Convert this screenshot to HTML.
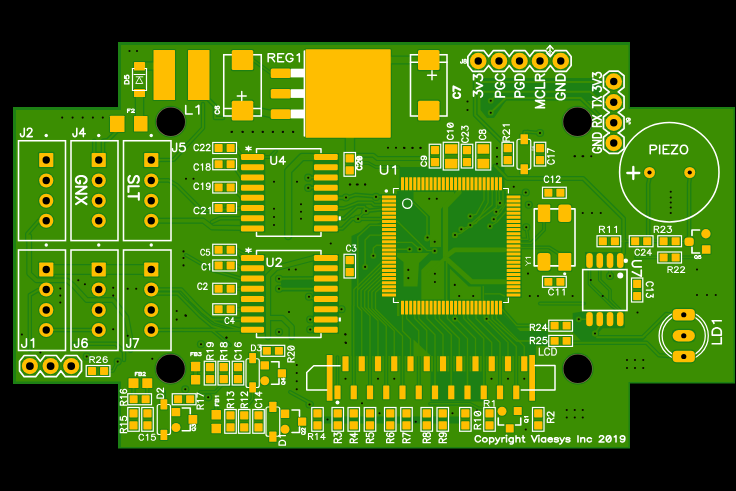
<!DOCTYPE html>
<html><head><meta charset="utf-8"><title>PCB</title>
<style>html,body{margin:0;padding:0;background:#000;overflow:hidden}svg{display:block}text{font-family:"Liberation Sans",sans-serif}</style></head>
<body>
<svg width="736" height="491" viewBox="0 0 736 491" font-family="Liberation Sans, sans-serif">
<rect width="736" height="491" fill="#000"/>
<polygon points="118,42 630,42 630,107 735,107 735,383.5 630,383.5 630,448.5 118,448.5 118,384 13,384 13,107 118,107" fill="#1d8014"/>
<polygon points="121,45 628.5,45 628.5,109 733.5,109 733.5,382 628.5,382 628.5,447 121,447 121,381.5 16,381.5 16,110 121,110" fill="#3b8e02"/>
<defs><clipPath id="bc"><polygon points="118,42 630,42 630,107 735,107 735,383.5 630,383.5 630,448.5 118,448.5 118,384 13,384 13,107 118,107"/></clipPath></defs>
<g clip-path="url(#bc)">
<polygon points="397,191 506,191 506,300 397,300" fill="#1d8014"/>
<polygon points="399.5,167 504.5,167 504.5,191.5 399.5,191.5" fill="#1d8014"/>
<polygon points="399.5,299.5 504.5,299.5 504.5,316 399.5,316" fill="#1d8014"/>
<polygon points="380.8,194 397.5,194 397.5,298 380.8,298" fill="#1d8014"/>
<polygon points="505.5,194 521.6,194 521.6,298 505.5,298" fill="#1d8014"/>
<polygon points="351.5,236 381,222 381,298 397,298 397,316 505,316 520,331 548,331 548,346 536,346 536,356 351.5,356" fill="#1d8014"/>
<polygon points="239.8,153 265.2,153 265.2,232.5 239.8,232.5" fill="#1d8014"/>
<polygon points="312.8,153 339,153 339,232.5 312.8,232.5" fill="#1d8014"/>
<polygon points="239.8,254 265.2,254 265.2,333.8 239.8,333.8" fill="#1d8014"/>
<polygon points="312.8,254 339,254 339,333.8 312.8,333.8" fill="#1d8014"/>
<polygon points="585,252 625,252 625,269 585,269" fill="#1d8014"/>
<polygon points="585,311 625,311 625,327.5 585,327.5" fill="#1d8014"/>
<polygon points="480.5,78 596,78 600,84 600,101 585,101 582,100.5 506,100.5 494,118 487,118 480.5,110" fill="#1d8014"/>
<polygon points="572.7,313 583.7,311.2 623.7,311.2 623.7,328.3 602.8,328.3 597,334 599,336.9 646.5,336.9 642.7,340.7 580.9,340.7 572.7,332.1" fill="#1d8014"/>
<polygon points="281,276.5 314,276.5 314,291.5 281,291.5" fill="#1d8014"/>
<polygon points="323,416.5 459,416.5 459,423.5 323,423.5" fill="#1d8014"/>
<polygon points="430.5,371.5 486,371.5 486,401.5 430.5,401.5" fill="#1d8014"/>
<g fill="none" stroke="#1d8014" stroke-linecap="round" stroke-linejoin="round">
<path d="M458.9 192.5 L445.5 206.5 L445.5 258" stroke-width="7.6"/>
<path d="M445.5 258 L471.9 281.8 L504.5 281.8" stroke-width="7.4"/>
<path d="M447 255.5 L454.8 249.8 L504.5 249.8" stroke-width="7.2"/>
<path d="M445.5 258 L428 274" stroke-width="5.9"/>
<path d="M446.6 262 L446.6 300" stroke-width="3.6"/>
<path d="M484 191 L484 200 L476.3 214.2 L470.3 216.2" stroke-width="3.3"/>
<path d="M488.1 191 L488.1 202.46 L476.3 223.1 L470.3 225.1" stroke-width="3.3"/>
<path d="M492.2 191 L492.2 204.92 L467.3 227.2 L461.3 229.2" stroke-width="3.3"/>
<path d="M496.3 191 L496.3 207.38 L460.8 233.2 L454.8 235.2" stroke-width="3.3"/>
<path d="M499 191 L499.6 202.8" stroke-width="3.3"/>
<path d="M503 191 L503 206 L496.8 211.8" stroke-width="3.3"/>
<path d="M506 203.5 L501 212 L493.9 219.1" stroke-width="3.3"/>
<path d="M506 211.7 L497 222 L490.3 226.3" stroke-width="3.3"/>
<path d="M397 221 L427 250.4 L434.7 250.9" stroke-width="3.4"/>
<path d="M397 242.4 L412 242.4 L419.7 249.3" stroke-width="3.4"/>
<path d="M397 249.3 L409.6 249.3" stroke-width="3.4"/>
<path d="M413.5 203 L427 216.5 L427 238.5" stroke-width="3.4"/>
<path d="M485 293.9 L500 293.9 L504.5 296" stroke-width="3.4"/>
<path d="M483.3 286.5 L483.3 300" stroke-width="3.4"/>
<path d="M337.5 198 L346 198 L355.4 194.8 L376 196.5 L382 197" stroke-width="4.4"/>
<path d="M337.5 208.3 L344 208.3 L358.6 202.6 L371.7 202.6 L374.1 205 L382 205" stroke-width="4.4"/>
<path d="M337.5 218.5 L344 218.5 L357 206.8 L364.3 206.8 L366 211 L382 209.3" stroke-width="4.4"/>
<path d="M337.5 228.6 L342.3 228.6 L352.1 218.9 L358.1 218.9 L382 219" stroke-width="4.4"/>
<path d="M308.25 177.7 L314 177.5" stroke-width="4.4"/>
<path d="M308.25 187.9 L314 187.75" stroke-width="4.4"/>
<path d="M382 225.4 L370 225.4 L357.8 236.8 L357.8 290" stroke-width="4"/>
<path d="M382 235.1 L370 235.1 L365.1 240 L365.1 266.9" stroke-width="4"/>
<path d="M382 245.2 L376.5 245.2 L373.3 248 L373.3 255.8" stroke-width="4"/>
<path d="M382 262 L353.9 289.5 L353.9 306 L353.75 305.85 L353.75 386" stroke-width="3.7"/>
<path d="M382 266.08 L357.5 289.98 L357.5 306.5 L361.75 310.75 L361.75 357" stroke-width="3.7"/>
<path d="M382 270.17 L361.1 290.47 L361.1 307 L370 315.9 L370 386" stroke-width="3.7"/>
<path d="M382 274.25 L364.7 290.95 L364.7 307.5 L378 320.8 L378 357" stroke-width="3.7"/>
<path d="M382 278.33 L368.3 291.43 L368.3 308 L386.25 325.95 L386.25 386" stroke-width="3.7"/>
<path d="M382 282.42 L371.9 291.92 L371.9 308.5 L394.25 330.85 L394.25 357" stroke-width="3.7"/>
<path d="M382 286.5 L375.5 292.4 L375.5 309 L402.5 336 L402.5 386" stroke-width="3.7"/>
<path d="M402.5 315 L402.5 331 L410.5 339 L410.5 357" stroke-width="3.7"/>
<path d="M406.58 314 L406.58 318.5 L418.75 330.67 L418.75 386" stroke-width="3.7"/>
<path d="M414.75 314 L414.75 318.5 L426.75 330.5 L426.75 357" stroke-width="3.7"/>
<path d="M418.83 314 L418.83 318.5 L435 334.67 L435 386" stroke-width="3.7"/>
<path d="M427 314 L427 318.5 L443 334.5 L443 357" stroke-width="3.7"/>
<path d="M435.16 314 L435.16 318.5 L451.25 334.59 L451.25 386" stroke-width="3.7"/>
<path d="M439.25 314 L439.25 318.5 L459.25 338.5 L459.25 357" stroke-width="3.7"/>
<path d="M447.41 314 L447.41 318.5 L467.5 338.59 L467.5 386" stroke-width="3.7"/>
<path d="M455.58 314 L455.58 318.5 L475.5 338.42 L475.5 357" stroke-width="3.7"/>
<path d="M463.75 314 L463.75 318.5 L483.75 338.5 L483.75 386" stroke-width="3.7"/>
<path d="M467.83 314 L467.83 318.5 L491.75 342.42 L491.75 357" stroke-width="3.7"/>
<path d="M475.99 314 L475.99 318.5 L500 342.51 L500 386" stroke-width="3.7"/>
<path d="M484.16 314 L484.16 318.5 L508 342.34 L508 357" stroke-width="3.7"/>
<path d="M488.24 314 L488.24 318.5 L516.25 346.51 L516.25 386" stroke-width="3.7"/>
<path d="M496.41 314 L496.41 318.5 L524.25 346.34 L524.25 357" stroke-width="3.7"/>
<path d="M502.5 309.6 L516.6 325.6 L550 325.6" stroke-width="4.1"/>
<path d="M492.2 316 L492.2 319 L516.6 341 L550 341" stroke-width="4.1"/>
<path d="M481.7 81.9 L603.5 81.9 L613.75 81.5" stroke-width="4.6"/>
<path d="M483 91.7 L590.4 91.7 L601.3 101.9 L613.75 102.25" stroke-width="4.6"/>
<path d="M490.75 112.7 L505.7 98 L580.7 98 L601.3 118 L613.75 122.75" stroke-width="4.6"/>
<path d="M490.75 100.8 L497 94 L497 91.7" stroke-width="4"/>
<path d="M475.2 69 L475.2 115 L501.3 141 L507 144" stroke-width="4.8"/>
<path d="M527.5 131.8 L540 133" stroke-width="3.9"/>
<path d="M524.25 134 L524.25 131.8 L528 131.8" stroke-width="3.9"/>
<path d="M390 60 L418 60" stroke-width="9.1"/>
<path d="M349.9 137 L349.9 152.5" stroke-width="10.6"/>
<path d="M253 110 L271 114" stroke-width="8.6"/>
<path d="M253 60 L270.75 73" stroke-width="4"/>
<path d="M139.5 97 L139.5 116" stroke-width="9.6"/>
<path d="M145 66 L153.5 66" stroke-width="9.6"/>
<path d="M209 100 L215 106 L215 118 L223 118" stroke-width="4.6"/>
<path d="M117 131 L108 140 L103 140.75 L103 153" stroke-width="4.6"/>
<path d="M94.25 140.75 L94.25 153" stroke-width="4.6"/>
<path d="M649.5 178 L648.2 184 L648.2 237" stroke-width="4.6"/>
<path d="M689.75 178 L689.1 184 L689.1 238" stroke-width="4.6"/>
<path d="M495 166 L502 173 L507 178.5 L583.2 178.5 L623.6 218.5 L623.6 253" stroke-width="4.8"/>
<path d="M520.4 243.3 L531 243.3 L544 230 L544 222" stroke-width="3.9"/>
<path d="M520.4 247.4 L549 247.4 L558.7 253.5 L564 255" stroke-width="3.9"/>
<path d="M520.4 239.2 L528 239.2 L526.25 227.25" stroke-width="3.4"/>
<path d="M597 337.2 L642.7 337.2 L662 318 L666 314 L673 314.75" stroke-width="4.4"/>
<path d="M572.3 342.8 L646.5 342.8 L658.9 355.3 L673 356.3" stroke-width="4.4"/>
<path d="M540 303.6 L583.7 303.6" stroke-width="4"/>
<path d="M578.8 319.3 L589.5 319.3" stroke-width="3.9"/>
<path d="M595 333.5 L599.75 326" stroke-width="3.9"/>
<path d="M610 276 L610 262" stroke-width="3.6"/>
<path d="M599.75 268 L599.75 280 L610 290 L610 300 L620 310" stroke-width="3.6"/>
<path d="M589.5 268 L589.5 284 L612 306 L620 312" stroke-width="3.6"/>
<path d="M681.5 257.4 L698.8 257.4 L703 252.4" stroke-width="3.8"/>
<path d="M636 257.4 L657.75 257.4" stroke-width="3.8"/>
<path d="M620.75 241.3 L629.3 241.3" stroke-width="3.8"/>
<path d="M653.2 241.3 L657.75 241.3" stroke-width="3.8"/>
<path d="M681.5 241.3 L684.5 241.3" stroke-width="3.8"/>
<path d="M354 155.2 L373.2 155.2 L377.3 158.6 L430 158.6" stroke-width="5"/>
<path d="M354 163 L368.3 163 L375.7 167 L398.5 167" stroke-width="3.6"/>
<path d="M46.25 269.5 L151.25 269.5" stroke-width="10.8"/>
<path d="M29.2 236 L29.2 273.6 L36.5 280.3 L66.9 280.3 L73.5 285.6 L86.7 300 L113.2 300 L126.4 317.3 L130.4 338.5 L130.4 350" stroke-width="5.8"/>
<path d="M46.25 289.5 L37.8 290.3 L29.8 295 L29.8 350" stroke-width="4.4"/>
<path d="M46.25 330 L98.75 330" stroke-width="4.4"/>
<path d="M73.5 343.8 L115.8 343.8 L124 352 L124 360" stroke-width="4.4"/>
<path d="M151.25 289.5 L181.4 289.5 L202.6 312 L212 319.5 L241 319.5" stroke-width="4.4"/>
<path d="M151.25 293.6 L178 293.6 L200 316 L212 326 L224 329.75" stroke-width="4.4"/>
<path d="M151.25 330 L241 329.75" stroke-width="4.4"/>
<path d="M151.25 180.5 L168.5 180.3 L176.5 184.8 L203 211.3 L241 208" stroke-width="4.4"/>
<path d="M151.25 160 L173.8 159.7 L185.7 146.5 L203 128 L203 104" stroke-width="4.4"/>
<path d="M151.25 220.75 L203 220.5 L212 227.5 L241 228" stroke-width="6"/>
<path d="M212 222 L220 218.25 L241 218.25" stroke-width="4.4"/>
<path d="M46.25 220.75 L39 220.4 L27.2 234 L27.2 240" stroke-width="4.4"/>
<path d="M236 147.8 L241.3 155.7" stroke-width="4.2"/>
<path d="M236 169 L241.3 177" stroke-width="4.2"/>
<path d="M236 191.4 L241.3 196.7" stroke-width="4.2"/>
<path d="M236 208 L241 208" stroke-width="4.2"/>
<path d="M236.5 249.75 L241.3 257" stroke-width="4.2"/>
<path d="M236.5 265.6 L241.3 268.25" stroke-width="4.2"/>
<path d="M236.5 288.75 L241.3 288.75" stroke-width="4.2"/>
<path d="M236.5 309.25 L241.3 309.25" stroke-width="4.2"/>
<path d="M314 157 L302 157 L288.2 171 L288.2 236" stroke-width="8.4"/>
<path d="M293 165 L300 158 L314 157" stroke-width="3.9"/>
<path d="M279 278.75 L314 278.5" stroke-width="4.4"/>
<path d="M279 288.75 L314 288.75" stroke-width="4.4"/>
<path d="M309 296.75 L314 299" stroke-width="3.9"/>
<path d="M337.75 309.25 L341.5 309.25" stroke-width="3.9"/>
<path d="M310.25 319.5 L314 319.5" stroke-width="3.9"/>
<path d="M310.25 329.5 L314 329.75" stroke-width="3.9"/>
<path d="M314 258 L304.5 260.5 L276 268 L268 276 L268 337" stroke-width="6.4"/>
<path d="M268 318 L282.5 318 L291.7 327 L291.7 337" stroke-width="6.4"/>
<path d="M264 157 L270 157 L276 151" stroke-width="3.9"/>
<path d="M186 255 L212 270 L241 278.5" stroke-width="4"/>
<path d="M236.5 249.75 L245 254 L256 254" stroke-width="4"/>
<path d="M190 300 L215 322 L241 329.75" stroke-width="4"/>
<path d="M184 330 L212 330 L230 345" stroke-width="4"/>
<path d="M337.75 197.75 L346 197.5" stroke-width="4"/>
<path d="M357.25 218.75 L365.25 211.25" stroke-width="3.6"/>
<path d="M133.5 388 L133.5 395" stroke-width="4.4"/>
<path d="M147.25 388 L147.25 395" stroke-width="4.4"/>
<path d="M163.75 392 L163.75 399.25" stroke-width="4.4"/>
<path d="M195.5 375 L195.5 371" stroke-width="5.4"/>
<path d="M252.5 392.5 L252.5 399 L244.5 409" stroke-width="4"/>
<path d="M216.25 410 L216.25 406" stroke-width="4.4"/>
<path d="M290 392 L312 404" stroke-width="4"/>
<path d="M200 392 L215 392 L222 385 L246 385" stroke-width="3.6"/>
<path d="M337.5 357 L337.5 386" stroke-width="3.7"/>
<path d="M353.75 357 L353.75 386" stroke-width="3.7"/>
<path d="M370 357 L370 386" stroke-width="3.7"/>
<path d="M386.25 357 L386.25 386" stroke-width="3.7"/>
<path d="M402.5 357 L402.5 386" stroke-width="3.7"/>
<path d="M418.75 357 L418.75 386" stroke-width="3.7"/>
<path d="M435 357 L435 386" stroke-width="3.7"/>
<path d="M451.25 357 L451.25 386" stroke-width="3.7"/>
<path d="M467.5 357 L467.5 386" stroke-width="3.7"/>
<path d="M483.75 357 L483.75 386" stroke-width="3.7"/>
<path d="M500 357 L500 386" stroke-width="3.7"/>
<path d="M516.25 357 L516.25 386" stroke-width="3.7"/>
<path d="M108 371 L113 371 L117.7 361.6" stroke-width="3.7"/>
<path d="M430 403.8 L470 403.8 L478 408 L485 409" stroke-width="3.7"/>
</g>
<circle cx="490.75" cy="100.8" r="4.1" fill="#1d8014"/>
<circle cx="490.75" cy="112.7" r="4.1" fill="#1d8014"/>
<circle cx="540" cy="133" r="4.1" fill="#1d8014"/>
<circle cx="308.25" cy="177.7" r="4.1" fill="#1d8014"/>
<circle cx="308.25" cy="187.9" r="4.1" fill="#1d8014"/>
<circle cx="346" cy="197.5" r="4.1" fill="#1d8014"/>
<circle cx="357.25" cy="218.75" r="4.1" fill="#1d8014"/>
<circle cx="365.25" cy="211.25" r="4.1" fill="#1d8014"/>
<circle cx="376" cy="196.9" r="4.1" fill="#1d8014"/>
<circle cx="366" cy="211" r="4.1" fill="#1d8014"/>
<circle cx="358.1" cy="218.9" r="4.1" fill="#1d8014"/>
<circle cx="279" cy="278.75" r="4.1" fill="#1d8014"/>
<circle cx="279" cy="288.75" r="4.1" fill="#1d8014"/>
<circle cx="309" cy="296.75" r="4.1" fill="#1d8014"/>
<circle cx="341.5" cy="309.25" r="4.1" fill="#1d8014"/>
<circle cx="310.25" cy="319.5" r="4.1" fill="#1d8014"/>
<circle cx="310.25" cy="329.5" r="4.1" fill="#1d8014"/>
<circle cx="279" cy="332" r="4.1" fill="#1d8014"/>
<circle cx="201" cy="344.25" r="4.1" fill="#1d8014"/>
<circle cx="525.75" cy="192.5" r="4.1" fill="#1d8014"/>
<circle cx="528.75" cy="204.75" r="4.1" fill="#1d8014"/>
<circle cx="500" cy="203" r="4.1" fill="#1d8014"/>
<circle cx="496.25" cy="211.75" r="4.1" fill="#1d8014"/>
<circle cx="493.75" cy="219.25" r="4.1" fill="#1d8014"/>
<circle cx="490" cy="226.25" r="4.1" fill="#1d8014"/>
<circle cx="470.3" cy="216.2" r="4.1" fill="#1d8014"/>
<circle cx="470.3" cy="225.1" r="4.1" fill="#1d8014"/>
<circle cx="461.3" cy="229.2" r="4.1" fill="#1d8014"/>
<circle cx="454.8" cy="235.2" r="4.1" fill="#1d8014"/>
<circle cx="427" cy="238.5" r="4.1" fill="#1d8014"/>
<circle cx="434.7" cy="241.8" r="4.1" fill="#1d8014"/>
<circle cx="434.7" cy="250.9" r="4.1" fill="#1d8014"/>
<circle cx="409.6" cy="249.3" r="4.1" fill="#1d8014"/>
<circle cx="419.7" cy="249.3" r="4.1" fill="#1d8014"/>
<circle cx="526.25" cy="227.25" r="4.1" fill="#1d8014"/>
<circle cx="459.2" cy="296" r="4.1" fill="#1d8014"/>
<circle cx="610" cy="276" r="4.1" fill="#1d8014"/>
<circle cx="578.8" cy="319.3" r="4.1" fill="#1d8014"/>
<circle cx="595" cy="333.5" r="4.1" fill="#1d8014"/>
<circle cx="595" cy="333.5" r="4.1" fill="#1d8014"/>
<circle cx="309.5" cy="404.5" r="4.1" fill="#1d8014"/>
<circle cx="373.3" cy="255.8" r="4.1" fill="#1d8014"/>
<circle cx="365.1" cy="266.9" r="4.1" fill="#1d8014"/>
<circle cx="455" cy="235" r="4.1" fill="#1d8014"/>
<circle cx="427.5" cy="237.5" r="4.1" fill="#1d8014"/>
<circle cx="455" cy="318.8" r="4.1" fill="#1d8014"/>
<circle cx="486.6" cy="318.8" r="4.1" fill="#1d8014"/>
<circle cx="117.7" cy="361.6" r="4.1" fill="#1d8014"/>
<circle cx="208.2" cy="397.3" r="4.1" fill="#1d8014"/>
<circle cx="185.3" cy="389.3" r="4.1" fill="#1d8014"/>
<circle cx="86.7" cy="356.5" r="4.1" fill="#1d8014"/>
<rect x="152.4" y="48.9" width="23.7" height="52.2" rx="1.6" fill="#1d8014"/>
<rect x="186.9" y="48.9" width="23.7" height="52.2" rx="1.6" fill="#1d8014"/>
<rect x="132.9" y="60.9" width="13.2" height="10.7" rx="1.6" fill="#1d8014"/>
<rect x="132.9" y="87.9" width="13.2" height="10.2" rx="1.6" fill="#1d8014"/>
<rect x="108.9" y="114.65" width="16.7" height="18.45" rx="1.6" fill="#1d8014"/>
<rect x="132.9" y="114.9" width="15.7" height="17.7" rx="1.6" fill="#1d8014"/>
<rect x="230.65" y="48.95" width="23.7" height="22.2" rx="2.5" fill="#1d8014"/>
<rect x="230.65" y="99.6" width="23.7" height="21.9" rx="2.5" fill="#1d8014"/>
<rect x="416.9" y="48.95" width="23.7" height="22.2" rx="2.5" fill="#1d8014"/>
<rect x="416.9" y="99.6" width="23.7" height="21.9" rx="2.5" fill="#1d8014"/>
<rect x="269.65" y="67.4" width="22.2" height="11.7" rx="2.5" fill="#1d8014"/>
<rect x="269.65" y="87.9" width="22.2" height="11.7" rx="2.5" fill="#1d8014"/>
<rect x="269.65" y="108.2" width="22.2" height="11.9" rx="2.5" fill="#1d8014"/>
<rect x="304.4" y="48.15" width="87.45" height="90.7" rx="1.8" fill="#1d8014"/>
<circle cx="478.25" cy="61" r="9.4" fill="#1d8014"/>
<circle cx="499" cy="61" r="9.4" fill="#1d8014"/>
<circle cx="519.5" cy="61" r="9.4" fill="#1d8014"/>
<circle cx="540" cy="61" r="9.4" fill="#1d8014"/>
<circle cx="560.75" cy="61" r="9.4" fill="#1d8014"/>
<circle cx="613.75" cy="81.5" r="9.4" fill="#1d8014"/>
<circle cx="613.75" cy="102.25" r="9.4" fill="#1d8014"/>
<circle cx="613.75" cy="122.75" r="9.4" fill="#1d8014"/>
<circle cx="613.75" cy="143" r="9.4" fill="#1d8014"/>
<circle cx="649.5" cy="172.5" r="6.6" fill="#1d8014"/>
<circle cx="689.75" cy="172.5" r="6.6" fill="#1d8014"/>
<rect x="37.95" y="151.7" width="16.6" height="16.6" rx="1.5" fill="#1d8014"/>
<circle cx="46.25" cy="180.5" r="8.2" fill="#1d8014"/>
<circle cx="46.25" cy="200.75" r="8.2" fill="#1d8014"/>
<circle cx="46.25" cy="220.75" r="8.2" fill="#1d8014"/>
<rect x="37.95" y="261.2" width="16.6" height="16.6" rx="1.5" fill="#1d8014"/>
<circle cx="46.25" cy="289.5" r="8.2" fill="#1d8014"/>
<circle cx="46.25" cy="310" r="8.2" fill="#1d8014"/>
<circle cx="46.25" cy="330" r="8.2" fill="#1d8014"/>
<rect x="90.45" y="151.7" width="16.6" height="16.6" rx="1.5" fill="#1d8014"/>
<circle cx="98.75" cy="180.5" r="8.2" fill="#1d8014"/>
<circle cx="98.75" cy="200.75" r="8.2" fill="#1d8014"/>
<circle cx="98.75" cy="220.75" r="8.2" fill="#1d8014"/>
<rect x="90.45" y="261.2" width="16.6" height="16.6" rx="1.5" fill="#1d8014"/>
<circle cx="98.75" cy="289.5" r="8.2" fill="#1d8014"/>
<circle cx="98.75" cy="310" r="8.2" fill="#1d8014"/>
<circle cx="98.75" cy="330" r="8.2" fill="#1d8014"/>
<rect x="142.95" y="151.7" width="16.6" height="16.6" rx="1.5" fill="#1d8014"/>
<circle cx="151.25" cy="180.5" r="8.2" fill="#1d8014"/>
<circle cx="151.25" cy="200.75" r="8.2" fill="#1d8014"/>
<circle cx="151.25" cy="220.75" r="8.2" fill="#1d8014"/>
<rect x="142.95" y="261.2" width="16.6" height="16.6" rx="1.5" fill="#1d8014"/>
<circle cx="151.25" cy="289.5" r="8.2" fill="#1d8014"/>
<circle cx="151.25" cy="310" r="8.2" fill="#1d8014"/>
<circle cx="151.25" cy="330" r="8.2" fill="#1d8014"/>
<circle cx="29.9" cy="366.1" r="9.2" fill="#1d8014"/>
<circle cx="50.6" cy="366.1" r="9.2" fill="#1d8014"/>
<circle cx="71.2" cy="366.1" r="9.2" fill="#1d8014"/>
<rect x="86.9" y="366" width="10.3" height="10" rx="1.6" fill="#1d8014"/>
<rect x="98.95" y="366" width="10.3" height="10" rx="1.6" fill="#1d8014"/>
<rect x="239.9" y="153" width="25.2" height="8" rx="2.2" fill="#1d8014"/>
<rect x="312.9" y="153" width="25.95" height="8" rx="2.2" fill="#1d8014"/>
<rect x="239.9" y="163.25" width="25.2" height="8" rx="2.2" fill="#1d8014"/>
<rect x="312.9" y="163.25" width="25.95" height="8" rx="2.2" fill="#1d8014"/>
<rect x="239.9" y="173.5" width="25.2" height="8" rx="2.2" fill="#1d8014"/>
<rect x="312.9" y="173.5" width="25.95" height="8" rx="2.2" fill="#1d8014"/>
<rect x="239.9" y="183.75" width="25.2" height="8" rx="2.2" fill="#1d8014"/>
<rect x="312.9" y="183.75" width="25.95" height="8" rx="2.2" fill="#1d8014"/>
<rect x="239.9" y="193.75" width="25.2" height="8" rx="2.2" fill="#1d8014"/>
<rect x="312.9" y="193.75" width="25.95" height="8" rx="2.2" fill="#1d8014"/>
<rect x="239.9" y="204" width="25.2" height="8" rx="2.2" fill="#1d8014"/>
<rect x="312.9" y="204" width="25.95" height="8" rx="2.2" fill="#1d8014"/>
<rect x="239.9" y="214.25" width="25.2" height="8" rx="2.2" fill="#1d8014"/>
<rect x="312.9" y="214.25" width="25.95" height="8" rx="2.2" fill="#1d8014"/>
<rect x="239.9" y="224.5" width="25.2" height="8" rx="2.2" fill="#1d8014"/>
<rect x="312.9" y="224.5" width="25.95" height="8" rx="2.2" fill="#1d8014"/>
<rect x="239.9" y="254" width="25.2" height="8" rx="2.2" fill="#1d8014"/>
<rect x="312.9" y="254" width="25.95" height="8" rx="2.2" fill="#1d8014"/>
<rect x="239.9" y="264.25" width="25.2" height="8" rx="2.2" fill="#1d8014"/>
<rect x="312.9" y="264.25" width="25.95" height="8" rx="2.2" fill="#1d8014"/>
<rect x="239.9" y="274.5" width="25.2" height="8" rx="2.2" fill="#1d8014"/>
<rect x="312.9" y="274.5" width="25.95" height="8" rx="2.2" fill="#1d8014"/>
<rect x="239.9" y="284.75" width="25.2" height="8" rx="2.2" fill="#1d8014"/>
<rect x="312.9" y="284.75" width="25.95" height="8" rx="2.2" fill="#1d8014"/>
<rect x="239.9" y="295" width="25.2" height="8" rx="2.2" fill="#1d8014"/>
<rect x="312.9" y="295" width="25.95" height="8" rx="2.2" fill="#1d8014"/>
<rect x="239.9" y="305.25" width="25.2" height="8" rx="2.2" fill="#1d8014"/>
<rect x="312.9" y="305.25" width="25.95" height="8" rx="2.2" fill="#1d8014"/>
<rect x="239.9" y="315.5" width="25.2" height="8" rx="2.2" fill="#1d8014"/>
<rect x="312.9" y="315.5" width="25.95" height="8" rx="2.2" fill="#1d8014"/>
<rect x="239.9" y="325.75" width="25.2" height="8" rx="2.2" fill="#1d8014"/>
<rect x="312.9" y="325.75" width="25.95" height="8" rx="2.2" fill="#1d8014"/>
<rect x="213.45" y="143" width="10.3" height="10" rx="1.6" fill="#1d8014"/>
<rect x="225.5" y="143" width="10.3" height="10" rx="1.6" fill="#1d8014"/>
<rect x="213.45" y="159.25" width="10.3" height="10" rx="1.6" fill="#1d8014"/>
<rect x="225.5" y="159.25" width="10.3" height="10" rx="1.6" fill="#1d8014"/>
<rect x="213.45" y="182.5" width="10.3" height="10" rx="1.6" fill="#1d8014"/>
<rect x="225.5" y="182.5" width="10.3" height="10" rx="1.6" fill="#1d8014"/>
<rect x="213.45" y="203" width="10.3" height="10" rx="1.6" fill="#1d8014"/>
<rect x="225.5" y="203" width="10.3" height="10" rx="1.6" fill="#1d8014"/>
<rect x="213.45" y="244.75" width="10.3" height="10" rx="1.6" fill="#1d8014"/>
<rect x="225.5" y="244.75" width="10.3" height="10" rx="1.6" fill="#1d8014"/>
<rect x="213.45" y="260.5" width="10.3" height="10" rx="1.6" fill="#1d8014"/>
<rect x="225.5" y="260.5" width="10.3" height="10" rx="1.6" fill="#1d8014"/>
<rect x="213.45" y="283.75" width="10.3" height="10" rx="1.6" fill="#1d8014"/>
<rect x="225.5" y="283.75" width="10.3" height="10" rx="1.6" fill="#1d8014"/>
<rect x="213.45" y="304.25" width="10.3" height="10" rx="1.6" fill="#1d8014"/>
<rect x="225.5" y="304.25" width="10.3" height="10" rx="1.6" fill="#1d8014"/>
<rect x="344.5" y="153.2" width="10.5" height="10.3" rx="1.6" fill="#1d8014"/>
<rect x="344.5" y="165.25" width="10.5" height="10.3" rx="1.6" fill="#1d8014"/>
<rect x="344.5" y="254.95" width="10.5" height="10.3" rx="1.6" fill="#1d8014"/>
<rect x="344.5" y="267" width="10.5" height="10.3" rx="1.6" fill="#1d8014"/>
<rect x="429.75" y="144.95" width="10.5" height="10.3" rx="1.6" fill="#1d8014"/>
<rect x="429.75" y="157" width="10.5" height="10.3" rx="1.6" fill="#1d8014"/>
<rect x="443.9" y="143.15" width="14.7" height="11.7" rx="1.6" fill="#1d8014"/>
<rect x="443.9" y="157.65" width="14.7" height="11.95" rx="1.6" fill="#1d8014"/>
<rect x="461.75" y="144.95" width="10.5" height="10.3" rx="1.6" fill="#1d8014"/>
<rect x="461.75" y="157" width="10.5" height="10.3" rx="1.6" fill="#1d8014"/>
<rect x="476.4" y="143.15" width="13.95" height="11.7" rx="1.6" fill="#1d8014"/>
<rect x="476.4" y="157.65" width="13.95" height="11.95" rx="1.6" fill="#1d8014"/>
<rect x="502.5" y="142.95" width="10.5" height="10.3" rx="1.6" fill="#1d8014"/>
<rect x="502.5" y="155" width="10.5" height="10.3" rx="1.6" fill="#1d8014"/>
<rect x="519.4" y="133.15" width="9.7" height="12.2" rx="1.6" fill="#1d8014"/>
<rect x="519.4" y="163.15" width="9.7" height="12.2" rx="1.6" fill="#1d8014"/>
<rect x="534.75" y="142.95" width="10.5" height="10.3" rx="1.6" fill="#1d8014"/>
<rect x="534.75" y="155" width="10.5" height="10.3" rx="1.6" fill="#1d8014"/>
<rect x="543.2" y="187.75" width="10.3" height="10" rx="1.6" fill="#1d8014"/>
<rect x="555.25" y="187.75" width="10.3" height="10" rx="1.6" fill="#1d8014"/>
<rect x="399.9" y="176.1" width="5.2" height="15.2" rx="1.3" fill="#1d8014"/>
<rect x="399.9" y="299.7" width="5.2" height="16" rx="1.3" fill="#1d8014"/>
<rect x="380.9" y="194.3" width="16.2" height="5.2" rx="1.3" fill="#1d8014"/>
<rect x="505.6" y="194.3" width="15.9" height="5.2" rx="1.3" fill="#1d8014"/>
<rect x="403.98" y="176.1" width="5.2" height="15.2" rx="1.3" fill="#1d8014"/>
<rect x="403.98" y="299.7" width="5.2" height="16" rx="1.3" fill="#1d8014"/>
<rect x="380.9" y="198.38" width="16.2" height="5.2" rx="1.3" fill="#1d8014"/>
<rect x="505.6" y="198.38" width="15.9" height="5.2" rx="1.3" fill="#1d8014"/>
<rect x="408.07" y="176.1" width="5.2" height="15.2" rx="1.3" fill="#1d8014"/>
<rect x="408.07" y="299.7" width="5.2" height="16" rx="1.3" fill="#1d8014"/>
<rect x="380.9" y="202.47" width="16.2" height="5.2" rx="1.3" fill="#1d8014"/>
<rect x="505.6" y="202.47" width="15.9" height="5.2" rx="1.3" fill="#1d8014"/>
<rect x="412.15" y="176.1" width="5.2" height="15.2" rx="1.3" fill="#1d8014"/>
<rect x="412.15" y="299.7" width="5.2" height="16" rx="1.3" fill="#1d8014"/>
<rect x="380.9" y="206.55" width="16.2" height="5.2" rx="1.3" fill="#1d8014"/>
<rect x="505.6" y="206.55" width="15.9" height="5.2" rx="1.3" fill="#1d8014"/>
<rect x="416.23" y="176.1" width="5.2" height="15.2" rx="1.3" fill="#1d8014"/>
<rect x="416.23" y="299.7" width="5.2" height="16" rx="1.3" fill="#1d8014"/>
<rect x="380.9" y="210.63" width="16.2" height="5.2" rx="1.3" fill="#1d8014"/>
<rect x="505.6" y="210.63" width="15.9" height="5.2" rx="1.3" fill="#1d8014"/>
<rect x="420.31" y="176.1" width="5.2" height="15.2" rx="1.3" fill="#1d8014"/>
<rect x="420.31" y="299.7" width="5.2" height="16" rx="1.3" fill="#1d8014"/>
<rect x="380.9" y="214.72" width="16.2" height="5.2" rx="1.3" fill="#1d8014"/>
<rect x="505.6" y="214.72" width="15.9" height="5.2" rx="1.3" fill="#1d8014"/>
<rect x="424.4" y="176.1" width="5.2" height="15.2" rx="1.3" fill="#1d8014"/>
<rect x="424.4" y="299.7" width="5.2" height="16" rx="1.3" fill="#1d8014"/>
<rect x="380.9" y="218.8" width="16.2" height="5.2" rx="1.3" fill="#1d8014"/>
<rect x="505.6" y="218.8" width="15.9" height="5.2" rx="1.3" fill="#1d8014"/>
<rect x="428.48" y="176.1" width="5.2" height="15.2" rx="1.3" fill="#1d8014"/>
<rect x="428.48" y="299.7" width="5.2" height="16" rx="1.3" fill="#1d8014"/>
<rect x="380.9" y="222.88" width="16.2" height="5.2" rx="1.3" fill="#1d8014"/>
<rect x="505.6" y="222.88" width="15.9" height="5.2" rx="1.3" fill="#1d8014"/>
<rect x="432.56" y="176.1" width="5.2" height="15.2" rx="1.3" fill="#1d8014"/>
<rect x="432.56" y="299.7" width="5.2" height="16" rx="1.3" fill="#1d8014"/>
<rect x="380.9" y="226.96" width="16.2" height="5.2" rx="1.3" fill="#1d8014"/>
<rect x="505.6" y="226.96" width="15.9" height="5.2" rx="1.3" fill="#1d8014"/>
<rect x="436.65" y="176.1" width="5.2" height="15.2" rx="1.3" fill="#1d8014"/>
<rect x="436.65" y="299.7" width="5.2" height="16" rx="1.3" fill="#1d8014"/>
<rect x="380.9" y="231.05" width="16.2" height="5.2" rx="1.3" fill="#1d8014"/>
<rect x="505.6" y="231.05" width="15.9" height="5.2" rx="1.3" fill="#1d8014"/>
<rect x="440.73" y="176.1" width="5.2" height="15.2" rx="1.3" fill="#1d8014"/>
<rect x="440.73" y="299.7" width="5.2" height="16" rx="1.3" fill="#1d8014"/>
<rect x="380.9" y="235.13" width="16.2" height="5.2" rx="1.3" fill="#1d8014"/>
<rect x="505.6" y="235.13" width="15.9" height="5.2" rx="1.3" fill="#1d8014"/>
<rect x="444.81" y="176.1" width="5.2" height="15.2" rx="1.3" fill="#1d8014"/>
<rect x="444.81" y="299.7" width="5.2" height="16" rx="1.3" fill="#1d8014"/>
<rect x="380.9" y="239.21" width="16.2" height="5.2" rx="1.3" fill="#1d8014"/>
<rect x="505.6" y="239.21" width="15.9" height="5.2" rx="1.3" fill="#1d8014"/>
<rect x="448.9" y="176.1" width="5.2" height="15.2" rx="1.3" fill="#1d8014"/>
<rect x="448.9" y="299.7" width="5.2" height="16" rx="1.3" fill="#1d8014"/>
<rect x="380.9" y="243.3" width="16.2" height="5.2" rx="1.3" fill="#1d8014"/>
<rect x="505.6" y="243.3" width="15.9" height="5.2" rx="1.3" fill="#1d8014"/>
<rect x="452.98" y="176.1" width="5.2" height="15.2" rx="1.3" fill="#1d8014"/>
<rect x="452.98" y="299.7" width="5.2" height="16" rx="1.3" fill="#1d8014"/>
<rect x="380.9" y="247.38" width="16.2" height="5.2" rx="1.3" fill="#1d8014"/>
<rect x="505.6" y="247.38" width="15.9" height="5.2" rx="1.3" fill="#1d8014"/>
<rect x="457.06" y="176.1" width="5.2" height="15.2" rx="1.3" fill="#1d8014"/>
<rect x="457.06" y="299.7" width="5.2" height="16" rx="1.3" fill="#1d8014"/>
<rect x="380.9" y="251.46" width="16.2" height="5.2" rx="1.3" fill="#1d8014"/>
<rect x="505.6" y="251.46" width="15.9" height="5.2" rx="1.3" fill="#1d8014"/>
<rect x="461.14" y="176.1" width="5.2" height="15.2" rx="1.3" fill="#1d8014"/>
<rect x="461.14" y="299.7" width="5.2" height="16" rx="1.3" fill="#1d8014"/>
<rect x="380.9" y="255.54" width="16.2" height="5.2" rx="1.3" fill="#1d8014"/>
<rect x="505.6" y="255.54" width="15.9" height="5.2" rx="1.3" fill="#1d8014"/>
<rect x="465.23" y="176.1" width="5.2" height="15.2" rx="1.3" fill="#1d8014"/>
<rect x="465.23" y="299.7" width="5.2" height="16" rx="1.3" fill="#1d8014"/>
<rect x="380.9" y="259.63" width="16.2" height="5.2" rx="1.3" fill="#1d8014"/>
<rect x="505.6" y="259.63" width="15.9" height="5.2" rx="1.3" fill="#1d8014"/>
<rect x="469.31" y="176.1" width="5.2" height="15.2" rx="1.3" fill="#1d8014"/>
<rect x="469.31" y="299.7" width="5.2" height="16" rx="1.3" fill="#1d8014"/>
<rect x="380.9" y="263.71" width="16.2" height="5.2" rx="1.3" fill="#1d8014"/>
<rect x="505.6" y="263.71" width="15.9" height="5.2" rx="1.3" fill="#1d8014"/>
<rect x="473.39" y="176.1" width="5.2" height="15.2" rx="1.3" fill="#1d8014"/>
<rect x="473.39" y="299.7" width="5.2" height="16" rx="1.3" fill="#1d8014"/>
<rect x="380.9" y="267.79" width="16.2" height="5.2" rx="1.3" fill="#1d8014"/>
<rect x="505.6" y="267.79" width="15.9" height="5.2" rx="1.3" fill="#1d8014"/>
<rect x="477.48" y="176.1" width="5.2" height="15.2" rx="1.3" fill="#1d8014"/>
<rect x="477.48" y="299.7" width="5.2" height="16" rx="1.3" fill="#1d8014"/>
<rect x="380.9" y="271.88" width="16.2" height="5.2" rx="1.3" fill="#1d8014"/>
<rect x="505.6" y="271.88" width="15.9" height="5.2" rx="1.3" fill="#1d8014"/>
<rect x="481.56" y="176.1" width="5.2" height="15.2" rx="1.3" fill="#1d8014"/>
<rect x="481.56" y="299.7" width="5.2" height="16" rx="1.3" fill="#1d8014"/>
<rect x="380.9" y="275.96" width="16.2" height="5.2" rx="1.3" fill="#1d8014"/>
<rect x="505.6" y="275.96" width="15.9" height="5.2" rx="1.3" fill="#1d8014"/>
<rect x="485.64" y="176.1" width="5.2" height="15.2" rx="1.3" fill="#1d8014"/>
<rect x="485.64" y="299.7" width="5.2" height="16" rx="1.3" fill="#1d8014"/>
<rect x="380.9" y="280.04" width="16.2" height="5.2" rx="1.3" fill="#1d8014"/>
<rect x="505.6" y="280.04" width="15.9" height="5.2" rx="1.3" fill="#1d8014"/>
<rect x="489.73" y="176.1" width="5.2" height="15.2" rx="1.3" fill="#1d8014"/>
<rect x="489.73" y="299.7" width="5.2" height="16" rx="1.3" fill="#1d8014"/>
<rect x="380.9" y="284.13" width="16.2" height="5.2" rx="1.3" fill="#1d8014"/>
<rect x="505.6" y="284.13" width="15.9" height="5.2" rx="1.3" fill="#1d8014"/>
<rect x="493.81" y="176.1" width="5.2" height="15.2" rx="1.3" fill="#1d8014"/>
<rect x="493.81" y="299.7" width="5.2" height="16" rx="1.3" fill="#1d8014"/>
<rect x="380.9" y="288.21" width="16.2" height="5.2" rx="1.3" fill="#1d8014"/>
<rect x="505.6" y="288.21" width="15.9" height="5.2" rx="1.3" fill="#1d8014"/>
<rect x="497.89" y="176.1" width="5.2" height="15.2" rx="1.3" fill="#1d8014"/>
<rect x="497.89" y="299.7" width="5.2" height="16" rx="1.3" fill="#1d8014"/>
<rect x="380.9" y="292.29" width="16.2" height="5.2" rx="1.3" fill="#1d8014"/>
<rect x="505.6" y="292.29" width="15.9" height="5.2" rx="1.3" fill="#1d8014"/>
<rect x="536.7" y="203.4" width="14.7" height="19.6" rx="2" fill="#1d8014"/>
<rect x="557.1" y="203.4" width="15.3" height="19.6" rx="4" fill="#1d8014"/>
<rect x="536.4" y="251.8" width="15.2" height="20.1" rx="4" fill="#1d8014"/>
<rect x="557.1" y="251.8" width="15.3" height="20.1" rx="2" fill="#1d8014"/>
<rect x="543.2" y="276.8" width="10.3" height="10" rx="1.6" fill="#1d8014"/>
<rect x="555.25" y="276.8" width="10.3" height="10" rx="1.6" fill="#1d8014"/>
<rect x="597.7" y="236.25" width="10.3" height="10" rx="1.6" fill="#1d8014"/>
<rect x="609.75" y="236.25" width="10.3" height="10" rx="1.6" fill="#1d8014"/>
<rect x="630" y="236.25" width="10.3" height="10" rx="1.6" fill="#1d8014"/>
<rect x="642.05" y="236.25" width="10.3" height="10" rx="1.6" fill="#1d8014"/>
<rect x="658.45" y="236.25" width="10.3" height="10" rx="1.6" fill="#1d8014"/>
<rect x="670.5" y="236.25" width="10.3" height="10" rx="1.6" fill="#1d8014"/>
<rect x="658.45" y="252.5" width="10.3" height="10" rx="1.6" fill="#1d8014"/>
<rect x="670.5" y="252.5" width="10.3" height="10" rx="1.6" fill="#1d8014"/>
<rect x="683.4" y="236.3" width="11.5" height="10.8" rx="4" fill="#1d8014"/>
<circle cx="705.9" cy="233.8" r="5.8" fill="#1d8014"/>
<rect x="700.8" y="244.1" width="10.8" height="10.8" rx="1.6" fill="#1d8014"/>
<rect x="585.1" y="251.9" width="8.8" height="17.2" rx="4.3" fill="#1d8014"/>
<rect x="585.1" y="310.9" width="8.8" height="16.45" rx="4.3" fill="#1d8014"/>
<rect x="595.35" y="251.9" width="8.8" height="17.2" rx="4.3" fill="#1d8014"/>
<rect x="595.35" y="310.9" width="8.8" height="16.45" rx="4.3" fill="#1d8014"/>
<rect x="605.6" y="251.9" width="8.8" height="17.2" rx="4.3" fill="#1d8014"/>
<rect x="605.6" y="310.9" width="8.8" height="16.45" rx="4.3" fill="#1d8014"/>
<rect x="615.85" y="251.9" width="8.8" height="17.2" rx="4.3" fill="#1d8014"/>
<rect x="615.85" y="310.9" width="8.8" height="16.45" rx="4.3" fill="#1d8014"/>
<rect x="632" y="278.7" width="10.3" height="10.3" rx="1.6" fill="#1d8014"/>
<rect x="632" y="291" width="10.3" height="10.3" rx="1.6" fill="#1d8014"/>
<rect x="549.45" y="320.7" width="10.3" height="10" rx="1.6" fill="#1d8014"/>
<rect x="561.5" y="320.7" width="10.3" height="10" rx="1.6" fill="#1d8014"/>
<rect x="549.45" y="335.9" width="10.3" height="10" rx="1.6" fill="#1d8014"/>
<rect x="561.5" y="335.9" width="10.3" height="10" rx="1.6" fill="#1d8014"/>
<rect x="671.5" y="307.85" width="24.5" height="13.8" rx="5" fill="#1d8014"/>
<rect x="671.5" y="328.85" width="24.5" height="13.8" rx="7" fill="#1d8014"/>
<rect x="671.5" y="349.6" width="24.5" height="13.8" rx="5" fill="#1d8014"/>
<rect x="341.3" y="355.15" width="8.4" height="17.2" rx="1.5" fill="#1d8014"/>
<rect x="333.3" y="384.4" width="8.4" height="15.95" rx="1.5" fill="#1d8014"/>
<rect x="357.55" y="355.15" width="8.4" height="17.2" rx="1.5" fill="#1d8014"/>
<rect x="349.55" y="384.4" width="8.4" height="15.95" rx="1.5" fill="#1d8014"/>
<rect x="373.8" y="355.15" width="8.4" height="17.2" rx="1.5" fill="#1d8014"/>
<rect x="365.8" y="384.4" width="8.4" height="15.95" rx="1.5" fill="#1d8014"/>
<rect x="390.05" y="355.15" width="8.4" height="17.2" rx="1.5" fill="#1d8014"/>
<rect x="382.05" y="384.4" width="8.4" height="15.95" rx="1.5" fill="#1d8014"/>
<rect x="406.3" y="355.15" width="8.4" height="17.2" rx="1.5" fill="#1d8014"/>
<rect x="398.3" y="384.4" width="8.4" height="15.95" rx="1.5" fill="#1d8014"/>
<rect x="422.55" y="355.15" width="8.4" height="17.2" rx="1.5" fill="#1d8014"/>
<rect x="414.55" y="384.4" width="8.4" height="15.95" rx="1.5" fill="#1d8014"/>
<rect x="438.8" y="355.15" width="8.4" height="17.2" rx="1.5" fill="#1d8014"/>
<rect x="430.8" y="384.4" width="8.4" height="15.95" rx="1.5" fill="#1d8014"/>
<rect x="455.05" y="355.15" width="8.4" height="17.2" rx="1.5" fill="#1d8014"/>
<rect x="447.05" y="384.4" width="8.4" height="15.95" rx="1.5" fill="#1d8014"/>
<rect x="471.3" y="355.15" width="8.4" height="17.2" rx="1.5" fill="#1d8014"/>
<rect x="463.3" y="384.4" width="8.4" height="15.95" rx="1.5" fill="#1d8014"/>
<rect x="487.55" y="355.15" width="8.4" height="17.2" rx="1.5" fill="#1d8014"/>
<rect x="479.55" y="384.4" width="8.4" height="15.95" rx="1.5" fill="#1d8014"/>
<rect x="503.8" y="355.15" width="8.4" height="17.2" rx="1.5" fill="#1d8014"/>
<rect x="495.8" y="384.4" width="8.4" height="15.95" rx="1.5" fill="#1d8014"/>
<rect x="520.05" y="355.15" width="8.4" height="17.2" rx="1.5" fill="#1d8014"/>
<rect x="512.05" y="384.4" width="8.4" height="15.95" rx="1.5" fill="#1d8014"/>
<rect x="325.65" y="353.9" width="7.95" height="47.95" rx="1.5" fill="#1d8014"/>
<rect x="528.15" y="353.9" width="7.95" height="47.95" rx="1.5" fill="#1d8014"/>
<rect x="332.5" y="408.2" width="10.5" height="10.3" rx="1.6" fill="#1d8014"/>
<rect x="332.5" y="420.25" width="10.5" height="10.3" rx="1.6" fill="#1d8014"/>
<rect x="348.5" y="408.2" width="10.5" height="10.3" rx="1.6" fill="#1d8014"/>
<rect x="348.5" y="420.25" width="10.5" height="10.3" rx="1.6" fill="#1d8014"/>
<rect x="364.75" y="408.2" width="10.5" height="10.3" rx="1.6" fill="#1d8014"/>
<rect x="364.75" y="420.25" width="10.5" height="10.3" rx="1.6" fill="#1d8014"/>
<rect x="385" y="408.2" width="10.5" height="10.3" rx="1.6" fill="#1d8014"/>
<rect x="385" y="420.25" width="10.5" height="10.3" rx="1.6" fill="#1d8014"/>
<rect x="401.25" y="408.2" width="10.5" height="10.3" rx="1.6" fill="#1d8014"/>
<rect x="401.25" y="420.25" width="10.5" height="10.3" rx="1.6" fill="#1d8014"/>
<rect x="421.5" y="408.2" width="10.5" height="10.3" rx="1.6" fill="#1d8014"/>
<rect x="421.5" y="420.25" width="10.5" height="10.3" rx="1.6" fill="#1d8014"/>
<rect x="437.5" y="408.2" width="10.5" height="10.3" rx="1.6" fill="#1d8014"/>
<rect x="437.5" y="420.25" width="10.5" height="10.3" rx="1.6" fill="#1d8014"/>
<rect x="312.25" y="408.2" width="10.5" height="10.3" rx="1.6" fill="#1d8014"/>
<rect x="312.25" y="420.25" width="10.5" height="10.3" rx="1.6" fill="#1d8014"/>
<rect x="460.1" y="408.2" width="10.5" height="10.3" rx="1.6" fill="#1d8014"/>
<rect x="460.1" y="420.25" width="10.5" height="10.3" rx="1.6" fill="#1d8014"/>
<rect x="484.25" y="408.2" width="10.5" height="10.3" rx="1.6" fill="#1d8014"/>
<rect x="484.25" y="420.25" width="10.5" height="10.3" rx="1.6" fill="#1d8014"/>
<rect x="533" y="408.2" width="10.5" height="10.3" rx="1.6" fill="#1d8014"/>
<rect x="533" y="420.25" width="10.5" height="10.3" rx="1.6" fill="#1d8014"/>
<circle cx="502" cy="411.25" r="5.6" fill="#1d8014"/>
<rect x="512.65" y="405.9" width="10.2" height="10.2" rx="1.6" fill="#1d8014"/>
<rect x="504.65" y="423.15" width="10.2" height="10.45" rx="1.6" fill="#1d8014"/>
<rect x="189.9" y="360.65" width="11.45" height="11.7" rx="1.6" fill="#1d8014"/>
<rect x="189.9" y="373.9" width="11.45" height="11.7" rx="1.6" fill="#1d8014"/>
<rect x="204.75" y="361.95" width="10.5" height="10.3" rx="1.6" fill="#1d8014"/>
<rect x="204.75" y="374" width="10.5" height="10.3" rx="1.6" fill="#1d8014"/>
<rect x="218.5" y="361.95" width="10.5" height="10.3" rx="1.6" fill="#1d8014"/>
<rect x="218.5" y="374" width="10.5" height="10.3" rx="1.6" fill="#1d8014"/>
<rect x="232.75" y="361.95" width="10.5" height="10.3" rx="1.6" fill="#1d8014"/>
<rect x="232.75" y="374" width="10.5" height="10.3" rx="1.6" fill="#1d8014"/>
<rect x="248.1" y="351.9" width="9.05" height="12.4" rx="1.6" fill="#1d8014"/>
<rect x="248.1" y="381.2" width="9.05" height="12.4" rx="1.6" fill="#1d8014"/>
<rect x="259.4" y="360.15" width="10.7" height="10.45" rx="1.6" fill="#1d8014"/>
<circle cx="264.75" cy="380.75" r="5.6" fill="#1d8014"/>
<rect x="276.65" y="368.15" width="10.45" height="10.45" rx="1.6" fill="#1d8014"/>
<rect x="261.7" y="345.8" width="10.3" height="10" rx="1.6" fill="#1d8014"/>
<rect x="273.75" y="345.8" width="10.3" height="10" rx="1.6" fill="#1d8014"/>
<rect x="127.4" y="377.15" width="12.2" height="11.95" rx="1.6" fill="#1d8014"/>
<rect x="141.15" y="377.15" width="12.2" height="11.95" rx="1.6" fill="#1d8014"/>
<rect x="128.45" y="394.25" width="10.3" height="10" rx="1.6" fill="#1d8014"/>
<rect x="140.5" y="394.25" width="10.3" height="10" rx="1.6" fill="#1d8014"/>
<rect x="128.25" y="408.2" width="10.5" height="10.3" rx="1.6" fill="#1d8014"/>
<rect x="128.25" y="420.25" width="10.5" height="10.3" rx="1.6" fill="#1d8014"/>
<rect x="142.25" y="408.2" width="10.5" height="10.3" rx="1.6" fill="#1d8014"/>
<rect x="142.25" y="420.25" width="10.5" height="10.3" rx="1.6" fill="#1d8014"/>
<rect x="159.35" y="398.15" width="9.05" height="12.4" rx="1.6" fill="#1d8014"/>
<rect x="159.35" y="428.7" width="9.05" height="12.4" rx="1.6" fill="#1d8014"/>
<rect x="172.95" y="394.25" width="10.3" height="10" rx="1.6" fill="#1d8014"/>
<rect x="185" y="394.25" width="10.3" height="10" rx="1.6" fill="#1d8014"/>
<rect x="170.4" y="406.9" width="10.95" height="10.45" rx="1.6" fill="#1d8014"/>
<circle cx="176" cy="427.5" r="5.6" fill="#1d8014"/>
<rect x="187.4" y="413.9" width="10.95" height="10.95" rx="1.6" fill="#1d8014"/>
<rect x="210.4" y="408.9" width="11.7" height="11.7" rx="1.6" fill="#1d8014"/>
<rect x="210.4" y="422.65" width="11.7" height="11.7" rx="1.6" fill="#1d8014"/>
<rect x="225.25" y="410.2" width="10.5" height="10.3" rx="1.6" fill="#1d8014"/>
<rect x="225.25" y="422.25" width="10.5" height="10.3" rx="1.6" fill="#1d8014"/>
<rect x="239" y="410.2" width="10.5" height="10.3" rx="1.6" fill="#1d8014"/>
<rect x="239" y="422.25" width="10.5" height="10.3" rx="1.6" fill="#1d8014"/>
<rect x="253.25" y="410.2" width="10.5" height="10.3" rx="1.6" fill="#1d8014"/>
<rect x="253.25" y="422.25" width="10.5" height="10.3" rx="1.6" fill="#1d8014"/>
<rect x="268.1" y="400.65" width="9.55" height="12.4" rx="1.6" fill="#1d8014"/>
<rect x="268.1" y="430.45" width="9.55" height="12.4" rx="1.6" fill="#1d8014"/>
<rect x="279.9" y="408.4" width="10.45" height="10.7" rx="1.6" fill="#1d8014"/>
<circle cx="285" cy="429.25" r="5.6" fill="#1d8014"/>
<rect x="296.9" y="416.4" width="10.45" height="10.45" rx="1.6" fill="#1d8014"/>
<polygon points="413.5,192 454,192 454,195 441,209 441,247 430,247 430,216.5 413.5,200.5" fill="#3b8e02"/>
<polygon points="397,253 429.5,253 419,263 417.5,286.5 403.5,286.5 403.5,262 397,257" fill="#3b8e02"/>
<polygon points="421.3,270 431,260.5 444.2,260.5 444.2,299.6 421.3,299.6" fill="#3b8e02"/>
<polygon points="449.9,268.6 468.6,286.5 480.9,286.5 480.9,299.6 449.9,299.6" fill="#3b8e02"/>
<polygon points="413.5,339.5 431.5,356.3 413.5,356.3" fill="#3b8e02"/>
<g fill="none" stroke="#3b8e02" stroke-linecap="round" stroke-linejoin="round">
<path d="M458.9 192.5 L445.5 206.5 L445.5 258" stroke-width="5.2"/>
<path d="M445.5 258 L471.9 281.8 L504.5 281.8" stroke-width="5"/>
<path d="M447 255.5 L454.8 249.8 L504.5 249.8" stroke-width="4.8"/>
<path d="M445.5 258 L428 274" stroke-width="3.5"/>
<path d="M446.6 262 L446.6 300" stroke-width="1.6"/>
<path d="M484 191 L484 200 L476.3 214.2 L470.3 216.2" stroke-width="1.3"/>
<path d="M488.1 191 L488.1 202.46 L476.3 223.1 L470.3 225.1" stroke-width="1.3"/>
<path d="M492.2 191 L492.2 204.92 L467.3 227.2 L461.3 229.2" stroke-width="1.3"/>
<path d="M496.3 191 L496.3 207.38 L460.8 233.2 L454.8 235.2" stroke-width="1.3"/>
<path d="M499 191 L499.6 202.8" stroke-width="1.3"/>
<path d="M503 191 L503 206 L496.8 211.8" stroke-width="1.3"/>
<path d="M506 203.5 L501 212 L493.9 219.1" stroke-width="1.3"/>
<path d="M506 211.7 L497 222 L490.3 226.3" stroke-width="1.3"/>
<path d="M397 221 L427 250.4 L434.7 250.9" stroke-width="1.4"/>
<path d="M397 242.4 L412 242.4 L419.7 249.3" stroke-width="1.4"/>
<path d="M397 249.3 L409.6 249.3" stroke-width="1.4"/>
<path d="M413.5 203 L427 216.5 L427 238.5" stroke-width="1.4"/>
<path d="M485 293.9 L500 293.9 L504.5 296" stroke-width="1.4"/>
<path d="M483.3 286.5 L483.3 300" stroke-width="1.4"/>
<path d="M337.5 198 L346 198 L355.4 194.8 L376 196.5 L382 197" stroke-width="1.6"/>
<path d="M337.5 208.3 L344 208.3 L358.6 202.6 L371.7 202.6 L374.1 205 L382 205" stroke-width="1.6"/>
<path d="M337.5 218.5 L344 218.5 L357 206.8 L364.3 206.8 L366 211 L382 209.3" stroke-width="1.6"/>
<path d="M337.5 228.6 L342.3 228.6 L352.1 218.9 L358.1 218.9 L382 219" stroke-width="1.6"/>
<path d="M308.25 177.7 L314 177.5" stroke-width="1.6"/>
<path d="M308.25 187.9 L314 187.75" stroke-width="1.6"/>
<path d="M382 225.4 L370 225.4 L357.8 236.8 L357.8 290" stroke-width="1.4"/>
<path d="M382 235.1 L370 235.1 L365.1 240 L365.1 266.9" stroke-width="1.4"/>
<path d="M382 245.2 L376.5 245.2 L373.3 248 L373.3 255.8" stroke-width="1.4"/>
<path d="M382 262 L353.9 289.5 L353.9 306 L353.75 305.85 L353.75 386" stroke-width="1.3"/>
<path d="M382 266.08 L357.5 289.98 L357.5 306.5 L361.75 310.75 L361.75 357" stroke-width="1.3"/>
<path d="M382 270.17 L361.1 290.47 L361.1 307 L370 315.9 L370 386" stroke-width="1.3"/>
<path d="M382 274.25 L364.7 290.95 L364.7 307.5 L378 320.8 L378 357" stroke-width="1.3"/>
<path d="M382 278.33 L368.3 291.43 L368.3 308 L386.25 325.95 L386.25 386" stroke-width="1.3"/>
<path d="M382 282.42 L371.9 291.92 L371.9 308.5 L394.25 330.85 L394.25 357" stroke-width="1.3"/>
<path d="M382 286.5 L375.5 292.4 L375.5 309 L402.5 336 L402.5 386" stroke-width="1.3"/>
<path d="M402.5 315 L402.5 331 L410.5 339 L410.5 357" stroke-width="1.3"/>
<path d="M406.58 314 L406.58 318.5 L418.75 330.67 L418.75 386" stroke-width="1.3"/>
<path d="M414.75 314 L414.75 318.5 L426.75 330.5 L426.75 357" stroke-width="1.3"/>
<path d="M418.83 314 L418.83 318.5 L435 334.67 L435 386" stroke-width="1.3"/>
<path d="M427 314 L427 318.5 L443 334.5 L443 357" stroke-width="1.3"/>
<path d="M435.16 314 L435.16 318.5 L451.25 334.59 L451.25 386" stroke-width="1.3"/>
<path d="M439.25 314 L439.25 318.5 L459.25 338.5 L459.25 357" stroke-width="1.3"/>
<path d="M447.41 314 L447.41 318.5 L467.5 338.59 L467.5 386" stroke-width="1.3"/>
<path d="M455.58 314 L455.58 318.5 L475.5 338.42 L475.5 357" stroke-width="1.3"/>
<path d="M463.75 314 L463.75 318.5 L483.75 338.5 L483.75 386" stroke-width="1.3"/>
<path d="M467.83 314 L467.83 318.5 L491.75 342.42 L491.75 357" stroke-width="1.3"/>
<path d="M475.99 314 L475.99 318.5 L500 342.51 L500 386" stroke-width="1.3"/>
<path d="M484.16 314 L484.16 318.5 L508 342.34 L508 357" stroke-width="1.3"/>
<path d="M488.24 314 L488.24 318.5 L516.25 346.51 L516.25 386" stroke-width="1.3"/>
<path d="M496.41 314 L496.41 318.5 L524.25 346.34 L524.25 357" stroke-width="1.3"/>
<path d="M502.5 309.6 L516.6 325.6 L550 325.6" stroke-width="1.5"/>
<path d="M492.2 316 L492.2 319 L516.6 341 L550 341" stroke-width="1.5"/>
<path d="M481.7 81.9 L603.5 81.9 L613.75 81.5" stroke-width="2"/>
<path d="M483 91.7 L590.4 91.7 L601.3 101.9 L613.75 102.25" stroke-width="2"/>
<path d="M490.75 112.7 L505.7 98 L580.7 98 L601.3 118 L613.75 122.75" stroke-width="2"/>
<path d="M490.75 100.8 L497 94 L497 91.7" stroke-width="1.6"/>
<path d="M475.2 69 L475.2 115 L501.3 141 L507 144" stroke-width="2"/>
<path d="M527.5 131.8 L540 133" stroke-width="1.5"/>
<path d="M524.25 134 L524.25 131.8 L528 131.8" stroke-width="1.5"/>
<path d="M390 60 L418 60" stroke-width="6.5"/>
<path d="M349.9 137 L349.9 152.5" stroke-width="8"/>
<path d="M253 110 L271 114" stroke-width="6"/>
<path d="M253 60 L270.75 73" stroke-width="1.6"/>
<path d="M139.5 97 L139.5 116" stroke-width="7"/>
<path d="M145 66 L153.5 66" stroke-width="7"/>
<path d="M209 100 L215 106 L215 118 L223 118" stroke-width="2"/>
<path d="M117 131 L108 140 L103 140.75 L103 153" stroke-width="2"/>
<path d="M94.25 140.75 L94.25 153" stroke-width="2"/>
<path d="M649.5 178 L648.2 184 L648.2 237" stroke-width="2"/>
<path d="M689.75 178 L689.1 184 L689.1 238" stroke-width="2"/>
<path d="M495 166 L502 173 L507 178.5 L583.2 178.5 L623.6 218.5 L623.6 253" stroke-width="2.4"/>
<path d="M520.4 243.3 L531 243.3 L544 230 L544 222" stroke-width="1.5"/>
<path d="M520.4 247.4 L549 247.4 L558.7 253.5 L564 255" stroke-width="1.5"/>
<path d="M520.4 239.2 L528 239.2 L526.25 227.25" stroke-width="1.4"/>
<path d="M597 337.2 L642.7 337.2 L662 318 L666 314 L673 314.75" stroke-width="2"/>
<path d="M572.3 342.8 L646.5 342.8 L658.9 355.3 L673 356.3" stroke-width="2"/>
<path d="M540 303.6 L583.7 303.6" stroke-width="1.6"/>
<path d="M578.8 319.3 L589.5 319.3" stroke-width="1.5"/>
<path d="M595 333.5 L599.75 326" stroke-width="1.5"/>
<path d="M610 276 L610 262" stroke-width="1.4"/>
<path d="M599.75 268 L599.75 280 L610 290 L610 300 L620 310" stroke-width="1.4"/>
<path d="M589.5 268 L589.5 284 L612 306 L620 312" stroke-width="1.4"/>
<path d="M681.5 257.4 L698.8 257.4 L703 252.4" stroke-width="1.6"/>
<path d="M636 257.4 L657.75 257.4" stroke-width="1.6"/>
<path d="M620.75 241.3 L629.3 241.3" stroke-width="1.6"/>
<path d="M653.2 241.3 L657.75 241.3" stroke-width="1.6"/>
<path d="M681.5 241.3 L684.5 241.3" stroke-width="1.6"/>
<path d="M354 155.2 L373.2 155.2 L377.3 158.6 L430 158.6" stroke-width="2.6"/>
<path d="M354 163 L368.3 163 L375.7 167 L398.5 167" stroke-width="1.4"/>
<path d="M46.25 269.5 L151.25 269.5" stroke-width="8.6"/>
<path d="M29.2 236 L29.2 273.6 L36.5 280.3 L66.9 280.3 L73.5 285.6 L86.7 300 L113.2 300 L126.4 317.3 L130.4 338.5 L130.4 350" stroke-width="3.6"/>
<path d="M46.25 289.5 L37.8 290.3 L29.8 295 L29.8 350" stroke-width="2"/>
<path d="M46.25 330 L98.75 330" stroke-width="2"/>
<path d="M73.5 343.8 L115.8 343.8 L124 352 L124 360" stroke-width="2"/>
<path d="M151.25 289.5 L181.4 289.5 L202.6 312 L212 319.5 L241 319.5" stroke-width="2"/>
<path d="M151.25 293.6 L178 293.6 L200 316 L212 326 L224 329.75" stroke-width="2"/>
<path d="M151.25 330 L241 329.75" stroke-width="2"/>
<path d="M151.25 180.5 L168.5 180.3 L176.5 184.8 L203 211.3 L241 208" stroke-width="2"/>
<path d="M151.25 160 L173.8 159.7 L185.7 146.5 L203 128 L203 104" stroke-width="2"/>
<path d="M151.25 220.75 L203 220.5 L212 227.5 L241 228" stroke-width="3.6"/>
<path d="M212 222 L220 218.25 L241 218.25" stroke-width="2"/>
<path d="M46.25 220.75 L39 220.4 L27.2 234 L27.2 240" stroke-width="2"/>
<path d="M236 147.8 L241.3 155.7" stroke-width="2"/>
<path d="M236 169 L241.3 177" stroke-width="2"/>
<path d="M236 191.4 L241.3 196.7" stroke-width="2"/>
<path d="M236 208 L241 208" stroke-width="2"/>
<path d="M236.5 249.75 L241.3 257" stroke-width="2"/>
<path d="M236.5 265.6 L241.3 268.25" stroke-width="2"/>
<path d="M236.5 288.75 L241.3 288.75" stroke-width="2"/>
<path d="M236.5 309.25 L241.3 309.25" stroke-width="2"/>
<path d="M314 157 L302 157 L288.2 171 L288.2 236" stroke-width="5.8"/>
<path d="M293 165 L300 158 L314 157" stroke-width="1.5"/>
<path d="M279 278.75 L314 278.5" stroke-width="2"/>
<path d="M279 288.75 L314 288.75" stroke-width="2"/>
<path d="M309 296.75 L314 299" stroke-width="1.5"/>
<path d="M337.75 309.25 L341.5 309.25" stroke-width="1.5"/>
<path d="M310.25 319.5 L314 319.5" stroke-width="1.5"/>
<path d="M310.25 329.5 L314 329.75" stroke-width="1.5"/>
<path d="M314 258 L304.5 260.5 L276 268 L268 276 L268 337" stroke-width="4"/>
<path d="M268 318 L282.5 318 L291.7 327 L291.7 337" stroke-width="4"/>
<path d="M264 157 L270 157 L276 151" stroke-width="1.5"/>
<path d="M186 255 L212 270 L241 278.5" stroke-width="1.6"/>
<path d="M236.5 249.75 L245 254 L256 254" stroke-width="1.6"/>
<path d="M190 300 L215 322 L241 329.75" stroke-width="1.6"/>
<path d="M184 330 L212 330 L230 345" stroke-width="1.6"/>
<path d="M337.75 197.75 L346 197.5" stroke-width="1.6"/>
<path d="M357.25 218.75 L365.25 211.25" stroke-width="1.4"/>
<path d="M133.5 388 L133.5 395" stroke-width="2"/>
<path d="M147.25 388 L147.25 395" stroke-width="2"/>
<path d="M163.75 392 L163.75 399.25" stroke-width="2"/>
<path d="M195.5 375 L195.5 371" stroke-width="3"/>
<path d="M252.5 392.5 L252.5 399 L244.5 409" stroke-width="1.6"/>
<path d="M216.25 410 L216.25 406" stroke-width="2"/>
<path d="M290 392 L312 404" stroke-width="1.6"/>
<path d="M200 392 L215 392 L222 385 L246 385" stroke-width="1.4"/>
<path d="M337.5 357 L337.5 386" stroke-width="1.3"/>
<path d="M353.75 357 L353.75 386" stroke-width="1.3"/>
<path d="M370 357 L370 386" stroke-width="1.3"/>
<path d="M386.25 357 L386.25 386" stroke-width="1.3"/>
<path d="M402.5 357 L402.5 386" stroke-width="1.3"/>
<path d="M418.75 357 L418.75 386" stroke-width="1.3"/>
<path d="M435 357 L435 386" stroke-width="1.3"/>
<path d="M451.25 357 L451.25 386" stroke-width="1.3"/>
<path d="M467.5 357 L467.5 386" stroke-width="1.3"/>
<path d="M483.75 357 L483.75 386" stroke-width="1.3"/>
<path d="M500 357 L500 386" stroke-width="1.3"/>
<path d="M516.25 357 L516.25 386" stroke-width="1.3"/>
<path d="M108 371 L113 371 L117.7 361.6" stroke-width="1.5"/>
<path d="M430 403.8 L470 403.8 L478 408 L485 409" stroke-width="1.5"/>
</g>
<circle cx="129.5" cy="51" r="1.05" fill="#0a0a00"/>
<circle cx="137" cy="51" r="1.05" fill="#0a0a00"/>
<circle cx="232" cy="131.75" r="1.05" fill="#0a0a00"/>
<circle cx="242.5" cy="131.75" r="1.05" fill="#0a0a00"/>
<circle cx="252.75" cy="131.75" r="1.05" fill="#0a0a00"/>
<circle cx="262.75" cy="131.75" r="1.05" fill="#0a0a00"/>
<circle cx="273" cy="131.75" r="1.05" fill="#0a0a00"/>
<circle cx="283" cy="131.75" r="1.05" fill="#0a0a00"/>
<circle cx="293" cy="131.75" r="1.05" fill="#0a0a00"/>
<circle cx="388" cy="147.75" r="1.05" fill="#0a0a00"/>
<circle cx="396" cy="147.75" r="1.05" fill="#0a0a00"/>
<circle cx="404" cy="147.75" r="1.05" fill="#0a0a00"/>
<circle cx="412.5" cy="147.75" r="1.05" fill="#0a0a00"/>
<circle cx="420.5" cy="147.75" r="1.05" fill="#0a0a00"/>
<circle cx="467.5" cy="101.5" r="1.05" fill="#0a0a00"/>
<circle cx="467.5" cy="110" r="1.05" fill="#0a0a00"/>
<circle cx="575" cy="156.25" r="1.05" fill="#0a0a00"/>
<circle cx="583.25" cy="156.25" r="1.05" fill="#0a0a00"/>
<circle cx="591.25" cy="156.25" r="1.05" fill="#0a0a00"/>
<circle cx="582.75" cy="213" r="1.05" fill="#0a0a00"/>
<circle cx="592" cy="213" r="1.05" fill="#0a0a00"/>
<circle cx="600.75" cy="213" r="1.05" fill="#0a0a00"/>
<circle cx="670.75" cy="191.75" r="1.05" fill="#0a0a00"/>
<circle cx="670.75" cy="197.5" r="1.05" fill="#0a0a00"/>
<circle cx="670.75" cy="202.5" r="1.05" fill="#0a0a00"/>
<circle cx="670.75" cy="207.5" r="1.05" fill="#0a0a00"/>
<circle cx="670.75" cy="213" r="1.05" fill="#0a0a00"/>
<circle cx="697" cy="269.5" r="1.05" fill="#0a0a00"/>
<circle cx="697" cy="295" r="1.05" fill="#0a0a00"/>
<circle cx="707" cy="295" r="1.05" fill="#0a0a00"/>
<circle cx="715.75" cy="295" r="1.05" fill="#0a0a00"/>
<circle cx="637.5" cy="312.5" r="1.05" fill="#0a0a00"/>
<circle cx="627" cy="360" r="1.05" fill="#0a0a00"/>
<circle cx="627" cy="368" r="1.05" fill="#0a0a00"/>
<circle cx="635" cy="360" r="1.05" fill="#0a0a00"/>
<circle cx="635" cy="368" r="1.05" fill="#0a0a00"/>
<circle cx="643.25" cy="360" r="1.05" fill="#0a0a00"/>
<circle cx="643.25" cy="368" r="1.05" fill="#0a0a00"/>
<circle cx="566.75" cy="410" r="1.05" fill="#0a0a00"/>
<circle cx="566.75" cy="417.5" r="1.05" fill="#0a0a00"/>
<circle cx="574.75" cy="410" r="1.05" fill="#0a0a00"/>
<circle cx="574.75" cy="417.5" r="1.05" fill="#0a0a00"/>
<circle cx="582.75" cy="410" r="1.05" fill="#0a0a00"/>
<circle cx="582.75" cy="417.5" r="1.05" fill="#0a0a00"/>
<circle cx="525.75" cy="429.5" r="1.05" fill="#0a0a00"/>
<circle cx="477" cy="410.5" r="1.05" fill="#0a0a00"/>
<circle cx="491.5" cy="378.75" r="1.05" fill="#0a0a00"/>
<circle cx="508" cy="378.75" r="1.05" fill="#0a0a00"/>
<circle cx="524.25" cy="378.75" r="1.05" fill="#0a0a00"/>
<circle cx="345.5" cy="378.75" r="1.05" fill="#0a0a00"/>
<circle cx="378" cy="378.75" r="1.05" fill="#0a0a00"/>
<circle cx="394.25" cy="378.75" r="1.05" fill="#0a0a00"/>
<circle cx="296.75" cy="365" r="1.05" fill="#0a0a00"/>
<circle cx="296.75" cy="373" r="1.05" fill="#0a0a00"/>
<circle cx="296.75" cy="381.25" r="1.05" fill="#0a0a00"/>
<circle cx="296.75" cy="389.25" r="1.05" fill="#0a0a00"/>
<circle cx="345.5" cy="334.5" r="1.05" fill="#0a0a00"/>
<circle cx="345.5" cy="342.5" r="1.05" fill="#0a0a00"/>
<circle cx="362" cy="403.25" r="1.05" fill="#0a0a00"/>
<circle cx="327.5" cy="419.5" r="1.05" fill="#0a0a00"/>
<circle cx="379.5" cy="413.25" r="1.05" fill="#0a0a00"/>
<circle cx="415.75" cy="421.75" r="1.05" fill="#0a0a00"/>
<circle cx="452.5" cy="413.25" r="1.05" fill="#0a0a00"/>
<circle cx="231.5" cy="132" r="1.05" fill="#0a0a00"/>
<circle cx="242.75" cy="132" r="1.05" fill="#0a0a00"/>
<circle cx="252.75" cy="132" r="1.05" fill="#0a0a00"/>
<circle cx="262.75" cy="132" r="1.05" fill="#0a0a00"/>
<circle cx="272.75" cy="132" r="1.05" fill="#0a0a00"/>
<circle cx="282.75" cy="132" r="1.05" fill="#0a0a00"/>
<circle cx="293.25" cy="132" r="1.05" fill="#0a0a00"/>
<circle cx="274" cy="181.75" r="1.05" fill="#0a0a00"/>
<circle cx="297" cy="181.75" r="1.05" fill="#0a0a00"/>
<circle cx="301" cy="204.25" r="1.05" fill="#0a0a00"/>
<circle cx="301" cy="211.75" r="1.05" fill="#0a0a00"/>
<circle cx="301" cy="218.75" r="1.05" fill="#0a0a00"/>
<circle cx="274" cy="208.75" r="1.05" fill="#0a0a00"/>
<circle cx="274" cy="217" r="1.05" fill="#0a0a00"/>
<circle cx="274" cy="225" r="1.05" fill="#0a0a00"/>
<circle cx="350.25" cy="184.5" r="1.05" fill="#0a0a00"/>
<circle cx="357.75" cy="184.5" r="1.05" fill="#0a0a00"/>
<circle cx="365.25" cy="184.5" r="1.05" fill="#0a0a00"/>
<circle cx="186" cy="178.75" r="1.05" fill="#0a0a00"/>
<circle cx="193.5" cy="178.75" r="1.05" fill="#0a0a00"/>
<circle cx="330.75" cy="243.5" r="1.05" fill="#0a0a00"/>
<circle cx="289" cy="269.5" r="1.05" fill="#0a0a00"/>
<circle cx="295.75" cy="269.5" r="1.05" fill="#0a0a00"/>
<circle cx="289" cy="312" r="1.05" fill="#0a0a00"/>
<circle cx="364.5" cy="267" r="1.05" fill="#0a0a00"/>
<circle cx="186" cy="315.75" r="1.05" fill="#0a0a00"/>
<circle cx="226.5" cy="337.5" r="1.05" fill="#0a0a00"/>
<circle cx="345.25" cy="334.25" r="1.05" fill="#0a0a00"/>
<circle cx="346" cy="343" r="1.05" fill="#0a0a00"/>
<circle cx="404.5" cy="148" r="1.05" fill="#0a0a00"/>
<circle cx="412.5" cy="148" r="1.05" fill="#0a0a00"/>
<circle cx="420.5" cy="148" r="1.05" fill="#0a0a00"/>
<circle cx="497" cy="148" r="1.05" fill="#0a0a00"/>
<circle cx="497" cy="156.75" r="1.05" fill="#0a0a00"/>
<circle cx="497" cy="163.75" r="1.05" fill="#0a0a00"/>
<circle cx="574.5" cy="156.25" r="1.05" fill="#0a0a00"/>
<circle cx="582.5" cy="156.25" r="1.05" fill="#0a0a00"/>
<circle cx="513.75" cy="186.75" r="1.05" fill="#0a0a00"/>
<circle cx="429.25" cy="198.7" r="1.05" fill="#0a0a00"/>
<circle cx="436.8" cy="198.7" r="1.05" fill="#0a0a00"/>
<circle cx="528" cy="273.6" r="1.05" fill="#0a0a00"/>
<circle cx="529.8" cy="296" r="1.05" fill="#0a0a00"/>
<circle cx="538" cy="296" r="1.05" fill="#0a0a00"/>
<circle cx="572.6" cy="296" r="1.05" fill="#0a0a00"/>
<circle cx="590.8" cy="280" r="1.05" fill="#0a0a00"/>
<circle cx="602.7" cy="296" r="1.05" fill="#0a0a00"/>
<circle cx="408.3" cy="269.9" r="1.05" fill="#0a0a00"/>
<circle cx="408.3" cy="278.1" r="1.05" fill="#0a0a00"/>
<circle cx="434.9" cy="273.8" r="1.05" fill="#0a0a00"/>
<circle cx="434.9" cy="282" r="1.05" fill="#0a0a00"/>
<circle cx="454.8" cy="284.9" r="1.05" fill="#0a0a00"/>
<circle cx="473.2" cy="296" r="1.05" fill="#0a0a00"/>
<circle cx="349.8" cy="184.5" r="1.05" fill="#0a0a00"/>
<circle cx="356.8" cy="184.5" r="1.05" fill="#0a0a00"/>
<circle cx="365" cy="184.5" r="1.05" fill="#0a0a00"/>
<circle cx="60.3" cy="288.5" r="1.05" fill="#0a0a00"/>
<circle cx="60.3" cy="295.6" r="1.05" fill="#0a0a00"/>
<circle cx="60.3" cy="302.5" r="1.05" fill="#0a0a00"/>
<circle cx="78.3" cy="280.3" r="1.05" fill="#0a0a00"/>
<circle cx="84.9" cy="284.2" r="1.05" fill="#0a0a00"/>
<circle cx="113.2" cy="287.7" r="1.05" fill="#0a0a00"/>
<circle cx="113.2" cy="295.6" r="1.05" fill="#0a0a00"/>
<circle cx="127.7" cy="288.7" r="1.05" fill="#0a0a00"/>
<circle cx="136.2" cy="288.7" r="1.05" fill="#0a0a00"/>
<circle cx="113.2" cy="329.2" r="1.05" fill="#0a0a00"/>
<circle cx="21.9" cy="334.5" r="1.05" fill="#0a0a00"/>
<circle cx="127.7" cy="335.8" r="1.05" fill="#0a0a00"/>
<circle cx="40.4" cy="352.5" r="1.05" fill="#0a0a00"/>
<circle cx="86.7" cy="356.5" r="1.05" fill="#0a0a00"/>
<circle cx="152.3" cy="358.8" r="1.05" fill="#0a0a00"/>
<circle cx="183.5" cy="251.4" r="1.05" fill="#0a0a00"/>
<circle cx="183.5" cy="258" r="1.05" fill="#0a0a00"/>
<circle cx="183.5" cy="265.4" r="1.05" fill="#0a0a00"/>
<circle cx="176.7" cy="311" r="1.05" fill="#0a0a00"/>
<circle cx="185.4" cy="315.4" r="1.05" fill="#0a0a00"/>
<circle cx="176.7" cy="319.6" r="1.05" fill="#0a0a00"/>
<circle cx="226.4" cy="337.7" r="1.05" fill="#0a0a00"/>
<circle cx="62.2" cy="117.6" r="1.05" fill="#0a0a00"/>
<circle cx="72.6" cy="117.6" r="1.05" fill="#0a0a00"/>
<circle cx="82.7" cy="117.6" r="1.05" fill="#0a0a00"/>
<circle cx="92.9" cy="117.6" r="1.05" fill="#0a0a00"/>
<circle cx="102.8" cy="117.6" r="1.05" fill="#0a0a00"/>
<circle cx="490.75" cy="100.8" r="2.9" fill="#3b8e02"/>
<circle cx="490.75" cy="100.8" r="1.05" fill="#0a0a00"/>
<circle cx="490.75" cy="112.7" r="2.9" fill="#3b8e02"/>
<circle cx="490.75" cy="112.7" r="1.05" fill="#0a0a00"/>
<circle cx="540" cy="133" r="2.9" fill="#3b8e02"/>
<circle cx="540" cy="133" r="1.05" fill="#0a0a00"/>
<circle cx="308.25" cy="177.7" r="2.9" fill="#3b8e02"/>
<circle cx="308.25" cy="177.7" r="1.05" fill="#0a0a00"/>
<circle cx="308.25" cy="187.9" r="2.9" fill="#3b8e02"/>
<circle cx="308.25" cy="187.9" r="1.05" fill="#0a0a00"/>
<circle cx="346" cy="197.5" r="2.9" fill="#3b8e02"/>
<circle cx="346" cy="197.5" r="1.05" fill="#0a0a00"/>
<circle cx="357.25" cy="218.75" r="2.9" fill="#3b8e02"/>
<circle cx="357.25" cy="218.75" r="1.05" fill="#0a0a00"/>
<circle cx="365.25" cy="211.25" r="2.9" fill="#3b8e02"/>
<circle cx="365.25" cy="211.25" r="1.05" fill="#0a0a00"/>
<circle cx="376" cy="196.9" r="2.9" fill="#3b8e02"/>
<circle cx="376" cy="196.9" r="1.05" fill="#0a0a00"/>
<circle cx="366" cy="211" r="2.9" fill="#3b8e02"/>
<circle cx="366" cy="211" r="1.05" fill="#0a0a00"/>
<circle cx="358.1" cy="218.9" r="2.9" fill="#3b8e02"/>
<circle cx="358.1" cy="218.9" r="1.05" fill="#0a0a00"/>
<circle cx="279" cy="278.75" r="2.9" fill="#3b8e02"/>
<circle cx="279" cy="278.75" r="1.05" fill="#0a0a00"/>
<circle cx="279" cy="288.75" r="2.9" fill="#3b8e02"/>
<circle cx="279" cy="288.75" r="1.05" fill="#0a0a00"/>
<circle cx="309" cy="296.75" r="2.9" fill="#3b8e02"/>
<circle cx="309" cy="296.75" r="1.05" fill="#0a0a00"/>
<circle cx="341.5" cy="309.25" r="2.9" fill="#3b8e02"/>
<circle cx="341.5" cy="309.25" r="1.05" fill="#0a0a00"/>
<circle cx="310.25" cy="319.5" r="2.9" fill="#3b8e02"/>
<circle cx="310.25" cy="319.5" r="1.05" fill="#0a0a00"/>
<circle cx="310.25" cy="329.5" r="2.9" fill="#3b8e02"/>
<circle cx="310.25" cy="329.5" r="1.05" fill="#0a0a00"/>
<circle cx="279" cy="332" r="2.9" fill="#3b8e02"/>
<circle cx="279" cy="332" r="1.05" fill="#0a0a00"/>
<circle cx="201" cy="344.25" r="2.9" fill="#3b8e02"/>
<circle cx="201" cy="344.25" r="1.05" fill="#0a0a00"/>
<circle cx="525.75" cy="192.5" r="2.9" fill="#3b8e02"/>
<circle cx="525.75" cy="192.5" r="1.05" fill="#0a0a00"/>
<circle cx="528.75" cy="204.75" r="2.9" fill="#3b8e02"/>
<circle cx="528.75" cy="204.75" r="1.05" fill="#0a0a00"/>
<circle cx="500" cy="203" r="2.9" fill="#3b8e02"/>
<circle cx="500" cy="203" r="1.05" fill="#0a0a00"/>
<circle cx="496.25" cy="211.75" r="2.9" fill="#3b8e02"/>
<circle cx="496.25" cy="211.75" r="1.05" fill="#0a0a00"/>
<circle cx="493.75" cy="219.25" r="2.9" fill="#3b8e02"/>
<circle cx="493.75" cy="219.25" r="1.05" fill="#0a0a00"/>
<circle cx="490" cy="226.25" r="2.9" fill="#3b8e02"/>
<circle cx="490" cy="226.25" r="1.05" fill="#0a0a00"/>
<circle cx="470.3" cy="216.2" r="2.9" fill="#3b8e02"/>
<circle cx="470.3" cy="216.2" r="1.05" fill="#0a0a00"/>
<circle cx="470.3" cy="225.1" r="2.9" fill="#3b8e02"/>
<circle cx="470.3" cy="225.1" r="1.05" fill="#0a0a00"/>
<circle cx="461.3" cy="229.2" r="2.9" fill="#3b8e02"/>
<circle cx="461.3" cy="229.2" r="1.05" fill="#0a0a00"/>
<circle cx="454.8" cy="235.2" r="2.9" fill="#3b8e02"/>
<circle cx="454.8" cy="235.2" r="1.05" fill="#0a0a00"/>
<circle cx="427" cy="238.5" r="2.9" fill="#3b8e02"/>
<circle cx="427" cy="238.5" r="1.05" fill="#0a0a00"/>
<circle cx="434.7" cy="241.8" r="2.9" fill="#3b8e02"/>
<circle cx="434.7" cy="241.8" r="1.05" fill="#0a0a00"/>
<circle cx="434.7" cy="250.9" r="2.9" fill="#3b8e02"/>
<circle cx="434.7" cy="250.9" r="1.05" fill="#0a0a00"/>
<circle cx="409.6" cy="249.3" r="2.9" fill="#3b8e02"/>
<circle cx="409.6" cy="249.3" r="1.05" fill="#0a0a00"/>
<circle cx="419.7" cy="249.3" r="2.9" fill="#3b8e02"/>
<circle cx="419.7" cy="249.3" r="1.05" fill="#0a0a00"/>
<circle cx="526.25" cy="227.25" r="2.9" fill="#3b8e02"/>
<circle cx="526.25" cy="227.25" r="1.05" fill="#0a0a00"/>
<circle cx="459.2" cy="296" r="2.9" fill="#3b8e02"/>
<circle cx="459.2" cy="296" r="1.05" fill="#0a0a00"/>
<circle cx="610" cy="276" r="2.9" fill="#3b8e02"/>
<circle cx="610" cy="276" r="1.05" fill="#0a0a00"/>
<circle cx="578.8" cy="319.3" r="2.9" fill="#3b8e02"/>
<circle cx="578.8" cy="319.3" r="1.05" fill="#0a0a00"/>
<circle cx="595" cy="333.5" r="2.9" fill="#3b8e02"/>
<circle cx="595" cy="333.5" r="1.05" fill="#0a0a00"/>
<circle cx="595" cy="333.5" r="2.9" fill="#3b8e02"/>
<circle cx="595" cy="333.5" r="1.05" fill="#0a0a00"/>
<circle cx="309.5" cy="404.5" r="2.9" fill="#3b8e02"/>
<circle cx="309.5" cy="404.5" r="1.05" fill="#0a0a00"/>
<circle cx="373.3" cy="255.8" r="2.9" fill="#3b8e02"/>
<circle cx="373.3" cy="255.8" r="1.05" fill="#0a0a00"/>
<circle cx="365.1" cy="266.9" r="2.9" fill="#3b8e02"/>
<circle cx="365.1" cy="266.9" r="1.05" fill="#0a0a00"/>
<circle cx="455" cy="235" r="2.9" fill="#3b8e02"/>
<circle cx="455" cy="235" r="1.05" fill="#0a0a00"/>
<circle cx="427.5" cy="237.5" r="2.9" fill="#3b8e02"/>
<circle cx="427.5" cy="237.5" r="1.05" fill="#0a0a00"/>
<circle cx="455" cy="318.8" r="2.9" fill="#3b8e02"/>
<circle cx="455" cy="318.8" r="1.05" fill="#0a0a00"/>
<circle cx="486.6" cy="318.8" r="2.9" fill="#3b8e02"/>
<circle cx="486.6" cy="318.8" r="1.05" fill="#0a0a00"/>
<circle cx="117.7" cy="361.6" r="2.9" fill="#3b8e02"/>
<circle cx="117.7" cy="361.6" r="1.05" fill="#0a0a00"/>
<circle cx="208.2" cy="397.3" r="2.9" fill="#3b8e02"/>
<circle cx="208.2" cy="397.3" r="1.05" fill="#0a0a00"/>
<circle cx="185.3" cy="389.3" r="2.9" fill="#3b8e02"/>
<circle cx="185.3" cy="389.3" r="1.05" fill="#0a0a00"/>
<circle cx="86.7" cy="356.5" r="2.9" fill="#3b8e02"/>
<circle cx="86.7" cy="356.5" r="1.05" fill="#0a0a00"/>
<circle cx="170.75" cy="121.75" r="15.9" fill="#1d8014"/>
<circle cx="170.75" cy="121.75" r="14.8" fill="#8a7350"/>
<circle cx="170.75" cy="121.75" r="14.3" fill="#000"/>
<circle cx="577.5" cy="121.75" r="15.9" fill="#1d8014"/>
<circle cx="577.5" cy="121.75" r="14.8" fill="#8a7350"/>
<circle cx="577.5" cy="121.75" r="14.3" fill="#000"/>
<circle cx="170.5" cy="368.75" r="15.9" fill="#1d8014"/>
<circle cx="170.5" cy="368.75" r="14.8" fill="#8a7350"/>
<circle cx="170.5" cy="368.75" r="14.3" fill="#000"/>
<circle cx="577.75" cy="368.75" r="15.9" fill="#1d8014"/>
<circle cx="577.75" cy="368.75" r="14.8" fill="#8a7350"/>
<circle cx="577.75" cy="368.75" r="14.3" fill="#000"/>
<rect x="153.5" y="50" width="21.5" height="50" rx="0.6" fill="#ffbe00"/>
<rect x="188" y="50" width="21.5" height="50" rx="0.6" fill="#ffbe00"/>
<path d="M185.72 105.47 L185.72 114.03 M185.72 114.03 L192.25 114.03 M196.06 107.1 L197.15 106.69 L198.78 105.47 L198.78 114.03" fill="none" stroke="#ffffff" stroke-width="1.6" stroke-linecap="round" stroke-linejoin="round"/>
<rect x="134" y="62" width="11" height="8.5" rx="0.6" fill="#ffbe00"/>
<rect x="134" y="89" width="11" height="8" rx="0.6" fill="#ffbe00"/>
<path d="M132.5 68.5 L132.5 90.5" fill="none" stroke="#ffffff" stroke-width="1.2" stroke-linejoin="round" stroke-linecap="round"/>
<path d="M146.5 68.5 L146.5 90.5" fill="none" stroke="#ffffff" stroke-width="1.2" stroke-linejoin="round" stroke-linecap="round"/>
<path d="M132.5 68.5 L134 68.5" fill="none" stroke="#ffffff" stroke-width="1.2" stroke-linejoin="round" stroke-linecap="round"/>
<path d="M146.5 68.5 L145 68.5" fill="none" stroke="#ffffff" stroke-width="1.2" stroke-linejoin="round" stroke-linecap="round"/>
<path d="M132.5 90.5 L146.5 90.5" fill="none" stroke="#ffffff" stroke-width="1.2" stroke-linejoin="round" stroke-linecap="round"/>
<path d="M134 74.5 L145 74.5" fill="none" stroke="#ffffff" stroke-width="1.0" stroke-linejoin="round" stroke-linecap="round"/>
<path d="M136.2 83.5 L142.8 83.5 L139.5 77.5 Z" fill="none" stroke="#ffffff" stroke-width="0.9" stroke-linejoin="round" stroke-linecap="round"/>
<path d="M136.2 76.8 L142.8 76.8" fill="none" stroke="#ffffff" stroke-width="0.9" stroke-linejoin="round" stroke-linecap="round"/>
<path d="M124.62 83.88 L128.88 83.88 M124.62 83.88 L124.62 82.08 L124.82 81.3 L125.23 80.79 L125.63 80.53 L126.24 80.27 L127.26 80.27 L127.87 80.53 L128.27 80.79 L128.68 81.3 L128.88 82.08 L128.88 83.88 M124.62 75.63 L124.62 78.21 L126.45 78.47 L126.24 78.21 L126.04 77.44 L126.04 76.67 L126.24 75.89 L126.65 75.38 L127.26 75.12 L127.66 75.12 L128.27 75.38 L128.68 75.89 L128.88 76.67 L128.88 77.44 L128.68 78.21 L128.48 78.47 L128.07 78.73" fill="none" stroke="#ffffff" stroke-width="1.38" stroke-linecap="round" stroke-linejoin="round"/>
<rect x="110" y="115.75" width="14.5" height="16.25" rx="0.6" fill="#ffbe00"/>
<rect x="134" y="116" width="13.5" height="15.5" rx="0.6" fill="#ffbe00"/>
<path d="M127.54 109.04 L127.54 112.46 M127.54 109.04 L130.44 109.04 M127.54 110.67 L129.33 110.67 M131.56 109.85 L131.56 109.69 L131.78 109.37 L132 109.2 L132.45 109.04 L133.34 109.04 L133.79 109.2 L134.01 109.37 L134.24 109.69 L134.24 110.02 L134.01 110.34 L133.57 110.83 L131.33 112.46 L134.46 112.46" fill="none" stroke="#ffffff" stroke-width="1.2" stroke-linecap="round" stroke-linejoin="round"/>
<rect x="223.75" y="54.75" width="37.5" height="61.25" fill="none" stroke="#ffffff" stroke-width="1.55"/>
<path d="M223.75 108.5 L261.25 108.5" fill="none" stroke="#ffffff" stroke-width="1.55" stroke-linejoin="round" stroke-linecap="round"/>
<rect x="231.75" y="50.05" width="21.5" height="20" rx="1.5" fill="#ffbe00"/>
<rect x="231.75" y="100.7" width="21.5" height="19.7" rx="1.5" fill="#ffbe00"/>
<path d="M237.25 96 L246.25 96" fill="none" stroke="#ffffff" stroke-width="1.4" stroke-linejoin="round" stroke-linecap="round"/>
<path d="M241.75 91.5 L241.75 100.5" fill="none" stroke="#ffffff" stroke-width="1.4" stroke-linejoin="round" stroke-linecap="round"/>
<path d="M216.13 110.55 L215.73 110.78 L215.32 111.22 L215.12 111.66 L215.12 112.55 L215.32 112.99 L215.73 113.44 L216.13 113.66 L216.74 113.88 L217.76 113.88 L218.37 113.66 L218.77 113.44 L219.18 112.99 L219.38 112.55 L219.38 111.66 L219.18 111.22 L218.77 110.78 L218.37 110.55 M215.73 106.34 L215.32 106.56 L215.12 107.23 L215.12 107.67 L215.32 108.34 L215.93 108.78 L216.95 109 L217.96 109 L218.77 108.78 L219.18 108.34 L219.38 107.67 L219.38 107.45 L219.18 106.78 L218.77 106.34 L218.16 106.12 L217.96 106.12 L217.35 106.34 L216.95 106.78 L216.74 107.45 L216.74 107.67 L216.95 108.34 L217.35 108.78 L217.96 109" fill="none" stroke="#ffffff" stroke-width="1.38" stroke-linecap="round" stroke-linejoin="round"/>
<rect x="410.5" y="54.75" width="36.5" height="61.25" fill="none" stroke="#ffffff" stroke-width="1.55"/>
<path d="M410.5 62.25 L447 62.25" fill="none" stroke="#ffffff" stroke-width="1.55" stroke-linejoin="round" stroke-linecap="round"/>
<rect x="418" y="50.05" width="21.5" height="20" rx="1.5" fill="#ffbe00"/>
<rect x="418" y="100.7" width="21.5" height="19.7" rx="1.5" fill="#ffbe00"/>
<path d="M427.5 75.25 L436.5 75.25" fill="none" stroke="#ffffff" stroke-width="1.4" stroke-linejoin="round" stroke-linecap="round"/>
<path d="M432 70.75 L432 79.75" fill="none" stroke="#ffffff" stroke-width="1.4" stroke-linejoin="round" stroke-linecap="round"/>
<path d="M455.02 93.08 L454.4 93.41 L453.77 94.07 L453.46 94.73 L453.46 96.06 L453.77 96.72 L454.4 97.38 L455.02 97.71 L455.97 98.04 L457.53 98.04 L458.48 97.71 L459.1 97.38 L459.73 96.72 L460.04 96.06 L460.04 94.73 L459.73 94.07 L459.1 93.41 L458.48 93.08 M453.46 86.46 L460.04 89.77 M453.46 91.09 L453.46 86.46" fill="none" stroke="#ffffff" stroke-width="2.12" stroke-linecap="round" stroke-linejoin="round"/>
<path d="M268.17 53.67 L268.17 61.63 M268.17 53.67 L272.29 53.67 L273.67 54.05 L274.13 54.43 L274.59 55.19 L274.59 55.94 L274.13 56.7 L273.67 57.08 L272.29 57.46 L268.17 57.46 M271.38 57.46 L274.59 61.63 M277.79 53.67 L277.79 61.63 M277.79 53.67 L283.75 53.67 M277.79 57.46 L281.46 57.46 M277.79 61.63 L283.75 61.63 M292.91 55.57 L292.46 54.81 L291.54 54.05 L290.62 53.67 L288.79 53.67 L287.87 54.05 L286.96 54.81 L286.5 55.57 L286.04 56.7 L286.04 58.6 L286.5 59.73 L286.96 60.49 L287.87 61.25 L288.79 61.63 L290.62 61.63 L291.54 61.25 L292.46 60.49 L292.91 59.73 L292.91 58.6 M290.62 58.6 L292.91 58.6 M297.04 55.19 L297.96 54.81 L299.33 53.67 L299.33 61.63" fill="none" stroke="#ffffff" stroke-width="1.49" stroke-linecap="round" stroke-linejoin="round"/>
<rect x="270.75" y="68.5" width="20" height="9.5" rx="1.5" fill="#ffbe00"/>
<rect x="290.75" y="68.7" width="13.5" height="8.7" fill="#fff"/>
<rect x="270.75" y="89" width="20" height="9.5" rx="1.5" fill="#ffbe00"/>
<rect x="290.75" y="89.2" width="13.5" height="8.7" fill="#fff"/>
<rect x="270.75" y="109.3" width="20" height="9.7" rx="1.5" fill="#ffbe00"/>
<rect x="290.75" y="109.5" width="13.5" height="8.9" fill="#fff"/>
<path d="M304.4 51 L304.4 136" fill="none" stroke="#ffffff" stroke-width="1.6" stroke-linejoin="round" stroke-linecap="round"/>
<rect x="305.5" y="49.25" width="85.25" height="88.5" rx="0.8" fill="#ffbe00"/>
<path d="M467.88 56.5 L472.48 50.7 L484.02 50.7 L488.62 56.5 L488.62 56.5 L493.23 50.7 L504.77 50.7 L509.38 56.5 L509.12 56.5 L513.73 50.7 L525.27 50.7 L529.88 56.5 L529.62 56.5 L534.23 50.7 L545.77 50.7 L550.38 56.5 L550.38 56.5 L554.98 50.7 L566.52 50.7 L571.12 56.5 L571.12 65.5 L566.52 71.3 L554.98 71.3 L550.38 65.5 L550.38 65.5 L545.77 71.3 L534.23 71.3 L529.62 65.5 L529.88 65.5 L525.27 71.3 L513.73 71.3 L509.12 65.5 L509.38 65.5 L504.77 71.3 L493.23 71.3 L488.62 65.5 L488.62 65.5 L484.02 71.3 L472.48 71.3 L467.88 65.5 Z" fill="none" stroke="#ffffff" stroke-width="1.7" stroke-linejoin="round" stroke-linecap="round"/>
<circle cx="478.25" cy="61" r="8.3" fill="#ffbe00"/>
<circle cx="478.25" cy="61" r="3.7" fill="#000"/>
<circle cx="499" cy="61" r="8.3" fill="#ffbe00"/>
<circle cx="499" cy="61" r="3.7" fill="#000"/>
<circle cx="519.5" cy="61" r="8.3" fill="#ffbe00"/>
<circle cx="519.5" cy="61" r="3.7" fill="#000"/>
<circle cx="540" cy="61" r="8.3" fill="#ffbe00"/>
<circle cx="540" cy="61" r="3.7" fill="#000"/>
<circle cx="560.75" cy="61" r="8.3" fill="#ffbe00"/>
<circle cx="560.75" cy="61" r="3.7" fill="#000"/>
<path d="M462.46 59.36 L462.46 62.31 L462.27 62.87 L462.08 63.05 L461.7 63.24 L461.32 63.24 L460.94 63.05 L460.75 62.87 L460.56 62.31 L460.56 61.95 M464.73 59.36 L464.16 59.55 L463.97 59.92 L463.97 60.29 L464.16 60.65 L464.54 60.84 L465.3 61.02 L465.87 61.21 L466.25 61.58 L466.44 61.95 L466.44 62.5 L466.25 62.87 L466.06 63.05 L465.49 63.24 L464.73 63.24 L464.16 63.05 L463.97 62.87 L463.78 62.5 L463.78 61.95 L463.97 61.58 L464.35 61.21 L464.92 61.02 L465.68 60.84 L466.06 60.65 L466.25 60.29 L466.25 59.92 L466.06 59.55 L465.49 59.36 L464.73 59.36" fill="none" stroke="#ffffff" stroke-width="1.25" stroke-linecap="round" stroke-linejoin="round"/>
<path d="M473.57 96.07 L473.57 91.07 L476.95 93.8 L476.95 92.44 L477.37 91.53 L477.79 91.07 L479.05 90.62 L479.9 90.62 L481.16 91.07 L482.01 91.98 L482.43 93.34 L482.43 94.71 L482.01 96.07 L481.58 96.52 L480.74 96.98 M476.52 88.35 L482.43 85.62 M476.52 82.9 L482.43 85.62 M473.57 79.72 L473.57 74.73 L476.95 77.45 L476.95 76.09 L477.37 75.18 L477.79 74.73 L479.05 74.27 L479.9 74.27 L481.16 74.73 L482.01 75.63 L482.43 77 L482.43 78.36 L482.01 79.72 L481.58 80.18 L480.74 80.63" fill="none" stroke="#ffffff" stroke-width="1.72" stroke-linecap="round" stroke-linejoin="round"/>
<path d="M495.57 96.98 L504.43 96.98 M495.57 96.98 L495.57 93.33 L495.99 92.11 L496.42 91.71 L497.26 91.3 L498.52 91.3 L499.37 91.71 L499.79 92.11 L500.21 93.33 L500.21 96.98 M497.68 82.79 L496.84 83.19 L495.99 84 L495.57 84.81 L495.57 86.44 L495.99 87.25 L496.84 88.06 L497.68 88.46 L498.95 88.87 L501.05 88.87 L502.32 88.46 L503.16 88.06 L504.01 87.25 L504.43 86.44 L504.43 84.81 L504.01 84 L503.16 83.19 L502.32 82.79 L501.05 82.79 M501.05 84.81 L501.05 82.79 M497.68 74.27 L496.84 74.68 L495.99 75.49 L495.57 76.3 L495.57 77.92 L495.99 78.73 L496.84 79.54 L497.68 79.95 L498.95 80.35 L501.05 80.35 L502.32 79.95 L503.16 79.54 L504.01 78.73 L504.43 77.92 L504.43 76.3 L504.01 75.49 L503.16 74.68 L502.32 74.27" fill="none" stroke="#ffffff" stroke-width="1.72" stroke-linecap="round" stroke-linejoin="round"/>
<path d="M515.07 96.98 L523.93 96.98 M515.07 96.98 L515.07 93.33 L515.49 92.11 L515.92 91.71 L516.76 91.3 L518.02 91.3 L518.87 91.71 L519.29 92.11 L519.71 93.33 L519.71 96.98 M517.18 82.79 L516.34 83.19 L515.49 84 L515.07 84.81 L515.07 86.44 L515.49 87.25 L516.34 88.06 L517.18 88.46 L518.45 88.87 L520.55 88.87 L521.82 88.46 L522.66 88.06 L523.51 87.25 L523.93 86.44 L523.93 84.81 L523.51 84 L522.66 83.19 L521.82 82.79 L520.55 82.79 M520.55 84.81 L520.55 82.79 M515.07 79.95 L523.93 79.95 M515.07 79.95 L515.07 77.11 L515.49 75.89 L516.34 75.08 L517.18 74.68 L518.45 74.27 L520.55 74.27 L521.82 74.68 L522.66 75.08 L523.51 75.89 L523.93 77.11 L523.93 79.95" fill="none" stroke="#ffffff" stroke-width="1.72" stroke-linecap="round" stroke-linejoin="round"/>
<path d="M535.57 107.73 L544.43 107.73 M535.57 107.73 L544.43 104.21 M535.57 100.68 L544.43 104.21 M535.57 100.68 L544.43 100.68 M537.68 91 L536.84 91.44 L535.99 92.32 L535.57 93.2 L535.57 94.96 L535.99 95.84 L536.84 96.72 L537.68 97.16 L538.95 97.6 L541.05 97.6 L542.32 97.16 L543.16 96.72 L544.01 95.84 L544.43 94.96 L544.43 93.2 L544.01 92.32 L543.16 91.44 L542.32 91 M535.57 87.92 L544.43 87.92 M544.43 87.92 L544.43 82.64 M535.57 80.44 L544.43 80.44 M535.57 80.44 L535.57 76.47 L535.99 75.15 L536.42 74.71 L537.26 74.27 L538.1 74.27 L538.95 74.71 L539.37 75.15 L539.79 76.47 L539.79 80.44 M539.79 77.35 L544.43 74.27" fill="none" stroke="#ffffff" stroke-width="1.72" stroke-linecap="round" stroke-linejoin="round"/>
<path d="M558.18 93.14 L557.34 93.58 L556.49 94.46 L556.07 95.34 L556.07 97.09 L556.49 97.97 L557.34 98.85 L558.18 99.29 L559.45 99.73 L561.55 99.73 L562.82 99.29 L563.66 98.85 L564.51 97.97 L564.93 97.09 L564.93 95.34 L564.51 94.46 L563.66 93.58 L562.82 93.14 L561.55 93.14 M561.55 95.34 L561.55 93.14 M556.07 90.07 L564.93 90.07 M556.07 90.07 L564.93 83.93 M556.07 83.93 L564.93 83.93 M556.07 80.42 L564.93 80.42 M556.07 80.42 L556.07 77.34 L556.49 76.03 L557.34 75.15 L558.18 74.71 L559.45 74.27 L561.55 74.27 L562.82 74.71 L563.66 75.15 L564.51 76.03 L564.93 77.34 L564.93 80.42" fill="none" stroke="#ffffff" stroke-width="1.72" stroke-linecap="round" stroke-linejoin="round"/>
<path d="M550 45.5 L550 56.5" fill="none" stroke="#ffffff" stroke-width="1.3" stroke-linejoin="round" stroke-linecap="round"/>
<path d="M546.8 49 L550 45.5 L553.2 49" fill="none" stroke="#ffffff" stroke-width="1.3" stroke-linejoin="round" stroke-linecap="round"/>
<path d="M547 53.2 L550 50.2 L553 53.2 L550 56.2 Z" fill="none" stroke="#ffffff" stroke-width="1.0" stroke-linejoin="round" stroke-linecap="round"/>
<path d="M609.25 71.12 L603.45 75.72 L603.45 87.28 L609.25 91.88 L609.25 91.88 L603.45 96.47 L603.45 108.03 L609.25 112.62 L609.25 112.38 L603.45 116.97 L603.45 128.53 L609.25 133.12 L609.25 132.62 L603.45 137.22 L603.45 148.78 L609.25 153.38 L618.25 153.38 L624.05 148.78 L624.05 137.22 L618.25 132.62 L618.25 133.12 L624.05 128.53 L624.05 116.97 L618.25 112.38 L618.25 112.62 L624.05 108.03 L624.05 96.47 L618.25 91.88 L618.25 91.88 L624.05 87.28 L624.05 75.72 L618.25 71.12 Z" fill="none" stroke="#ffffff" stroke-width="1.7" stroke-linejoin="round" stroke-linecap="round"/>
<circle cx="613.75" cy="81.5" r="8.3" fill="#ffbe00"/>
<circle cx="613.75" cy="81.5" r="3.7" fill="#000"/>
<circle cx="613.75" cy="102.25" r="8.3" fill="#ffbe00"/>
<circle cx="613.75" cy="102.25" r="3.7" fill="#000"/>
<circle cx="613.75" cy="122.75" r="8.3" fill="#ffbe00"/>
<circle cx="613.75" cy="122.75" r="3.7" fill="#000"/>
<circle cx="613.75" cy="143" r="8.3" fill="#ffbe00"/>
<circle cx="613.75" cy="143" r="3.7" fill="#000"/>
<path d="M592.74 90.78 L592.74 86.75 L595.99 88.95 L595.99 87.85 L596.39 87.12 L596.8 86.75 L598.01 86.39 L598.82 86.39 L600.04 86.75 L600.85 87.49 L601.26 88.58 L601.26 89.68 L600.85 90.78 L600.45 91.14 L599.64 91.51 M592.74 84.93 L601.26 82 M592.74 79.07 L601.26 82 M592.74 76.88 L592.74 72.86 L595.99 75.05 L595.99 73.96 L596.39 73.22 L596.8 72.86 L598.01 72.49 L598.82 72.49 L600.04 72.86 L600.85 73.59 L601.26 74.69 L601.26 75.78 L600.85 76.88 L600.45 77.25 L599.64 77.61" fill="none" stroke="#ffffff" stroke-width="1.65" stroke-linecap="round" stroke-linejoin="round"/>
<path d="M592.74 105.35 L601.26 105.35 M592.74 107.76 L592.74 102.94 M592.74 101.56 L601.26 96.74 M592.74 96.74 L601.26 101.56" fill="none" stroke="#ffffff" stroke-width="1.65" stroke-linecap="round" stroke-linejoin="round"/>
<path d="M592.74 126.51 L601.26 126.51 M592.74 126.51 L592.74 123.59 L593.15 122.62 L593.55 122.3 L594.36 121.97 L595.18 121.97 L595.99 122.3 L596.39 122.62 L596.8 123.59 L596.8 126.51 M596.8 124.24 L601.26 121.97 M592.74 120.03 L601.26 115.49 M592.74 115.49 L601.26 120.03" fill="none" stroke="#ffffff" stroke-width="1.65" stroke-linecap="round" stroke-linejoin="round"/>
<path d="M594.77 147.65 L593.96 147.99 L593.15 148.67 L592.74 149.35 L592.74 150.71 L593.15 151.39 L593.96 152.08 L594.77 152.42 L595.99 152.76 L598.01 152.76 L599.23 152.42 L600.04 152.08 L600.85 151.39 L601.26 150.71 L601.26 149.35 L600.85 148.67 L600.04 147.99 L599.23 147.65 L598.01 147.65 M598.01 149.35 L598.01 147.65 M592.74 145.26 L601.26 145.26 M592.74 145.26 L601.26 140.49 M592.74 140.49 L601.26 140.49 M592.74 137.76 L601.26 137.76 M592.74 137.76 L592.74 135.38 L593.15 134.36 L593.96 133.67 L594.77 133.33 L595.99 132.99 L598.01 132.99 L599.23 133.33 L600.04 133.67 L600.85 134.36 L601.26 135.38 L601.26 137.76" fill="none" stroke="#ffffff" stroke-width="1.65" stroke-linecap="round" stroke-linejoin="round"/>
<path d="M626.36 121.98 L629.31 121.98 L629.87 122.17 L630.05 122.37 L630.24 122.76 L630.24 123.15 L630.05 123.55 L629.87 123.74 L629.31 123.94 L628.95 123.94 M627.65 118.06 L628.21 118.26 L628.58 118.65 L628.76 119.24 L628.76 119.43 L628.58 120.02 L628.21 120.41 L627.65 120.61 L627.47 120.61 L626.92 120.41 L626.55 120.02 L626.36 119.43 L626.36 119.24 L626.55 118.65 L626.92 118.26 L627.65 118.06 L628.58 118.06 L629.5 118.26 L630.05 118.65 L630.24 119.24 L630.24 119.63 L630.05 120.22 L629.68 120.41" fill="none" stroke="#ffffff" stroke-width="1.25" stroke-linecap="round" stroke-linejoin="round"/>
<circle cx="669.3" cy="172.2" r="49.7" fill="none" stroke="#fff" stroke-width="1.55"/>
<path d="M650.22 145.22 L650.22 153.78 M650.22 145.22 L654.27 145.22 L655.61 145.63 L656.06 146.04 L656.51 146.85 L656.51 148.07 L656.06 148.89 L655.61 149.3 L654.27 149.7 L650.22 149.7 M659.66 145.22 L659.66 153.78 M663.26 145.22 L663.26 153.78 M663.26 145.22 L669.1 145.22 M663.26 149.3 L666.85 149.3 M663.26 153.78 L669.1 153.78 M677.64 145.22 L671.35 153.78 M671.35 145.22 L677.64 145.22 M671.35 153.78 L677.64 153.78 M683.03 145.22 L682.14 145.63 L681.24 146.44 L680.79 147.26 L680.34 148.48 L680.34 150.52 L680.79 151.74 L681.24 152.56 L682.14 153.37 L683.03 153.78 L684.83 153.78 L685.73 153.37 L686.63 152.56 L687.08 151.74 L687.53 150.52 L687.53 148.48 L687.08 147.26 L686.63 146.44 L685.73 145.63 L684.83 145.22 L683.03 145.22" fill="none" stroke="#ffffff" stroke-width="1.6" stroke-linecap="round" stroke-linejoin="round"/>
<path d="M627.3 173 L639.3 173" fill="none" stroke="#ffffff" stroke-width="2.3" stroke-linejoin="round" stroke-linecap="round"/>
<path d="M633.3 167 L633.3 179" fill="none" stroke="#ffffff" stroke-width="2.3" stroke-linejoin="round" stroke-linecap="round"/>
<circle cx="649.5" cy="172.5" r="5.5" fill="#ffbe00"/>
<circle cx="649.5" cy="172.5" r="2.1" fill="#000"/>
<circle cx="689.75" cy="172.5" r="5.5" fill="#ffbe00"/>
<circle cx="689.75" cy="172.5" r="2.1" fill="#000"/>
<rect x="18.5" y="140.75" width="47" height="99.85" fill="none" stroke="#ffffff" stroke-width="1.55"/>
<rect x="18.5" y="250" width="47" height="100.5" fill="none" stroke="#ffffff" stroke-width="1.55"/>
<circle cx="46.25" cy="135.5" r="1.7" fill="#ffffff"/>
<circle cx="46.25" cy="245" r="1.7" fill="#ffffff"/>
<rect x="39.15" y="152.9" width="14.2" height="14.2" rx="0.8" fill="#ffbe00"/>
<circle cx="46.25" cy="160" r="3.7" fill="#000"/>
<circle cx="46.25" cy="180.5" r="7.1" fill="#ffbe00"/>
<circle cx="46.25" cy="180.5" r="3.7" fill="#000"/>
<circle cx="46.25" cy="200.75" r="7.1" fill="#ffbe00"/>
<circle cx="46.25" cy="200.75" r="3.7" fill="#000"/>
<circle cx="46.25" cy="220.75" r="7.1" fill="#ffbe00"/>
<circle cx="46.25" cy="220.75" r="3.7" fill="#000"/>
<rect x="39.15" y="262.4" width="14.2" height="14.2" rx="0.8" fill="#ffbe00"/>
<circle cx="46.25" cy="269.5" r="3.7" fill="#000"/>
<circle cx="46.25" cy="289.5" r="7.1" fill="#ffbe00"/>
<circle cx="46.25" cy="289.5" r="3.7" fill="#000"/>
<circle cx="46.25" cy="310" r="7.1" fill="#ffbe00"/>
<circle cx="46.25" cy="310" r="3.7" fill="#000"/>
<circle cx="46.25" cy="330" r="7.1" fill="#ffbe00"/>
<circle cx="46.25" cy="330" r="3.7" fill="#000"/>
<rect x="71" y="140.75" width="47" height="99.85" fill="none" stroke="#ffffff" stroke-width="1.55"/>
<rect x="71" y="250" width="47" height="100.5" fill="none" stroke="#ffffff" stroke-width="1.55"/>
<circle cx="98.75" cy="135.5" r="1.7" fill="#ffffff"/>
<circle cx="98.75" cy="245" r="1.7" fill="#ffffff"/>
<rect x="91.65" y="152.9" width="14.2" height="14.2" rx="0.8" fill="#ffbe00"/>
<circle cx="98.75" cy="160" r="3.7" fill="#000"/>
<circle cx="98.75" cy="180.5" r="7.1" fill="#ffbe00"/>
<circle cx="98.75" cy="180.5" r="3.7" fill="#000"/>
<circle cx="98.75" cy="200.75" r="7.1" fill="#ffbe00"/>
<circle cx="98.75" cy="200.75" r="3.7" fill="#000"/>
<circle cx="98.75" cy="220.75" r="7.1" fill="#ffbe00"/>
<circle cx="98.75" cy="220.75" r="3.7" fill="#000"/>
<rect x="91.65" y="262.4" width="14.2" height="14.2" rx="0.8" fill="#ffbe00"/>
<circle cx="98.75" cy="269.5" r="3.7" fill="#000"/>
<circle cx="98.75" cy="289.5" r="7.1" fill="#ffbe00"/>
<circle cx="98.75" cy="289.5" r="3.7" fill="#000"/>
<circle cx="98.75" cy="310" r="7.1" fill="#ffbe00"/>
<circle cx="98.75" cy="310" r="3.7" fill="#000"/>
<circle cx="98.75" cy="330" r="7.1" fill="#ffbe00"/>
<circle cx="98.75" cy="330" r="3.7" fill="#000"/>
<rect x="123.5" y="140.75" width="47.5" height="99.85" fill="none" stroke="#ffffff" stroke-width="1.55"/>
<rect x="123.5" y="250" width="47.5" height="100.5" fill="none" stroke="#ffffff" stroke-width="1.55"/>
<circle cx="151.25" cy="135.5" r="1.7" fill="#ffffff"/>
<circle cx="151.25" cy="245" r="1.7" fill="#ffffff"/>
<rect x="144.15" y="152.9" width="14.2" height="14.2" rx="0.8" fill="#ffbe00"/>
<circle cx="151.25" cy="160" r="3.7" fill="#000"/>
<circle cx="151.25" cy="180.5" r="7.1" fill="#ffbe00"/>
<circle cx="151.25" cy="180.5" r="3.7" fill="#000"/>
<circle cx="151.25" cy="200.75" r="7.1" fill="#ffbe00"/>
<circle cx="151.25" cy="200.75" r="3.7" fill="#000"/>
<circle cx="151.25" cy="220.75" r="7.1" fill="#ffbe00"/>
<circle cx="151.25" cy="220.75" r="3.7" fill="#000"/>
<rect x="144.15" y="262.4" width="14.2" height="14.2" rx="0.8" fill="#ffbe00"/>
<circle cx="151.25" cy="269.5" r="3.7" fill="#000"/>
<circle cx="151.25" cy="289.5" r="7.1" fill="#ffbe00"/>
<circle cx="151.25" cy="289.5" r="3.7" fill="#000"/>
<circle cx="151.25" cy="310" r="7.1" fill="#ffbe00"/>
<circle cx="151.25" cy="310" r="3.7" fill="#000"/>
<circle cx="151.25" cy="330" r="7.1" fill="#ffbe00"/>
<circle cx="151.25" cy="330" r="3.7" fill="#000"/>
<path d="M24.27 128.21 L24.27 134.6 L23.89 135.8 L23.51 136.19 L22.75 136.59 L21.98 136.59 L21.22 136.19 L20.84 135.8 L20.46 134.6 L20.46 133.8 M27.33 130.2 L27.33 129.8 L27.71 129 L28.09 128.61 L28.86 128.21 L30.38 128.21 L31.15 128.61 L31.53 129 L31.91 129.8 L31.91 130.6 L31.53 131.4 L30.77 132.6 L26.95 136.59 L32.29 136.59" fill="none" stroke="#ffffff" stroke-width="1.57" stroke-linecap="round" stroke-linejoin="round"/>
<path d="M76.81 128.21 L76.81 134.6 L76.43 135.8 L76.04 136.19 L75.27 136.59 L74.5 136.59 L73.73 136.19 L73.34 135.8 L72.96 134.6 L72.96 133.8 M83.37 128.21 L79.51 133.8 L85.29 133.8 M83.37 128.21 L83.37 136.59" fill="none" stroke="#ffffff" stroke-width="1.57" stroke-linecap="round" stroke-linejoin="round"/>
<path d="M176.59 143.2 L176.59 149.52 L176.18 150.71 L175.77 151.11 L174.94 151.5 L174.11 151.5 L173.28 151.11 L172.86 150.71 L172.45 149.52 L172.45 148.73 M184.47 143.2 L180.33 143.2 L179.91 146.76 L180.33 146.36 L181.57 145.97 L182.81 145.97 L184.06 146.36 L184.89 147.15 L185.3 148.34 L185.3 149.13 L184.89 150.32 L184.06 151.11 L182.81 151.5 L181.57 151.5 L180.33 151.11 L179.91 150.71 L179.5 149.92" fill="none" stroke="#ffffff" stroke-width="1.55" stroke-linecap="round" stroke-linejoin="round"/>
<path d="M26.44 338.72 L26.44 345.24 L25.97 346.46 L25.5 346.87 L24.55 347.28 L23.61 347.28 L22.66 346.87 L22.19 346.46 L21.72 345.24 L21.72 344.43 M31.17 340.35 L32.11 339.94 L33.53 338.72 L33.53 347.28" fill="none" stroke="#ffffff" stroke-width="1.6" stroke-linecap="round" stroke-linejoin="round"/>
<path d="M78.6 338.72 L78.6 345.24 L78.19 346.46 L77.78 346.87 L76.95 347.28 L76.12 347.28 L75.3 346.87 L74.88 346.46 L74.47 345.24 L74.47 344.43 M86.87 339.94 L86.45 339.13 L85.21 338.72 L84.39 338.72 L83.15 339.13 L82.32 340.35 L81.91 342.39 L81.91 344.43 L82.32 346.06 L83.15 346.87 L84.39 347.28 L84.8 347.28 L86.04 346.87 L86.87 346.06 L87.28 344.83 L87.28 344.43 L86.87 343.2 L86.04 342.39 L84.8 341.98 L84.39 341.98 L83.15 342.39 L82.32 343.2 L81.91 344.43" fill="none" stroke="#ffffff" stroke-width="1.6" stroke-linecap="round" stroke-linejoin="round"/>
<path d="M130.53 338.72 L130.53 345.24 L130.15 346.46 L129.77 346.87 L129.01 347.28 L128.24 347.28 L127.48 346.87 L127.1 346.46 L126.72 345.24 L126.72 344.43 M138.53 338.72 L134.72 347.28 M133.2 338.72 L138.53 338.72" fill="none" stroke="#ffffff" stroke-width="1.6" stroke-linecap="round" stroke-linejoin="round"/>
<path d="M84.02 183.35 L85.03 182.85 L86.04 181.87 L86.54 180.88 L86.54 178.91 L86.04 177.93 L85.03 176.94 L84.02 176.45 L82.51 175.96 L79.99 175.96 L78.48 176.45 L77.47 176.94 L76.46 177.93 L75.96 178.91 L75.96 180.88 L76.46 181.87 L77.47 182.85 L78.48 183.35 L79.99 183.35 M79.99 180.88 L79.99 183.35 M86.54 186.8 L75.96 186.8 M86.54 186.8 L75.96 193.7 M86.54 193.7 L75.96 193.7 M86.54 197.15 L75.96 204.04 M86.54 204.04 L75.96 197.15" fill="none" stroke="#ffffff" stroke-width="2.12" stroke-linecap="round" stroke-linejoin="round"/>
<path d="M137.33 182.76 L138.32 181.78 L138.81 180.32 L138.81 178.37 L138.32 176.91 L137.33 175.94 L136.34 175.94 L135.35 176.42 L134.86 176.91 L134.37 177.89 L133.38 180.81 L132.88 181.78 L132.39 182.27 L131.4 182.76 L129.92 182.76 L128.93 181.78 L128.44 180.32 L128.44 178.37 L128.93 176.91 L129.92 175.94 M138.81 186.17 L128.44 186.17 M128.44 186.17 L128.44 192.02 M138.81 196.4 L128.44 196.4 M138.81 192.99 L138.81 199.81" fill="none" stroke="#ffffff" stroke-width="2.08" stroke-linecap="round" stroke-linejoin="round"/>
<path d="M19.55 361.3 L24.15 355.5 L35.65 355.5 L40.25 361.3 L40.25 361.3 L44.85 355.5 L56.35 355.5 L60.95 361.3 L60.85 361.3 L65.45 355.5 L76.95 355.5 L81.55 361.3 L81.55 370.9 L76.95 376.7 L65.45 376.7 L60.85 370.9 L60.95 370.9 L56.35 376.7 L44.85 376.7 L40.25 370.9 L40.25 370.9 L35.65 376.7 L24.15 376.7 L19.55 370.9 Z" fill="none" stroke="#ffffff" stroke-width="1.7" stroke-linejoin="round" stroke-linecap="round"/>
<circle cx="29.9" cy="366.1" r="8.1" fill="#ffbe00"/>
<circle cx="29.9" cy="366.1" r="3.9" fill="#000"/>
<circle cx="50.6" cy="366.1" r="8.1" fill="#ffbe00"/>
<circle cx="50.6" cy="366.1" r="3.9" fill="#000"/>
<circle cx="71.2" cy="366.1" r="8.1" fill="#ffbe00"/>
<circle cx="71.2" cy="366.1" r="3.9" fill="#000"/>
<rect x="86.2" y="365.5" width="23.75" height="11" fill="none" stroke="#ffffff" stroke-width="1.2"/>
<rect x="88" y="367.1" width="8.1" height="7.8" rx="0.6" fill="#ffbe00"/>
<rect x="100.05" y="367.1" width="8.1" height="7.8" rx="0.6" fill="#ffbe00"/>
<path d="M89.89 356.69 L89.89 362.51 M89.89 356.69 L92.79 356.69 L93.76 356.97 L94.08 357.24 L94.41 357.8 L94.41 358.35 L94.08 358.91 L93.76 359.18 L92.79 359.46 L89.89 359.46 M92.15 359.46 L94.41 362.51 M96.66 358.08 L96.66 357.8 L96.99 357.24 L97.31 356.97 L97.95 356.69 L99.25 356.69 L99.89 356.97 L100.21 357.24 L100.54 357.8 L100.54 358.35 L100.21 358.91 L99.57 359.74 L96.34 362.51 L100.86 362.51 M106.99 357.52 L106.67 356.97 L105.7 356.69 L105.05 356.69 L104.08 356.97 L103.44 357.8 L103.12 359.18 L103.12 360.57 L103.44 361.68 L104.08 362.23 L105.05 362.51 L105.37 362.51 L106.34 362.23 L106.99 361.68 L107.31 360.85 L107.31 360.57 L106.99 359.74 L106.34 359.18 L105.37 358.91 L105.05 358.91 L104.08 359.18 L103.44 359.74 L103.12 360.57" fill="none" stroke="#ffffff" stroke-width="1.09" stroke-linecap="round" stroke-linejoin="round"/>
<rect x="241" y="154.1" width="23" height="5.8" rx="1.2" fill="#ffbe00"/>
<rect x="314" y="154.1" width="23.75" height="5.8" rx="1.2" fill="#ffbe00"/>
<rect x="241" y="164.35" width="23" height="5.8" rx="1.2" fill="#ffbe00"/>
<rect x="314" y="164.35" width="23.75" height="5.8" rx="1.2" fill="#ffbe00"/>
<rect x="241" y="174.6" width="23" height="5.8" rx="1.2" fill="#ffbe00"/>
<rect x="314" y="174.6" width="23.75" height="5.8" rx="1.2" fill="#ffbe00"/>
<rect x="241" y="184.85" width="23" height="5.8" rx="1.2" fill="#ffbe00"/>
<rect x="314" y="184.85" width="23.75" height="5.8" rx="1.2" fill="#ffbe00"/>
<rect x="241" y="194.85" width="23" height="5.8" rx="1.2" fill="#ffbe00"/>
<rect x="314" y="194.85" width="23.75" height="5.8" rx="1.2" fill="#ffbe00"/>
<rect x="241" y="205.1" width="23" height="5.8" rx="1.2" fill="#ffbe00"/>
<rect x="314" y="205.1" width="23.75" height="5.8" rx="1.2" fill="#ffbe00"/>
<rect x="241" y="215.35" width="23" height="5.8" rx="1.2" fill="#ffbe00"/>
<rect x="314" y="215.35" width="23.75" height="5.8" rx="1.2" fill="#ffbe00"/>
<rect x="241" y="225.6" width="23" height="5.8" rx="1.2" fill="#ffbe00"/>
<rect x="314" y="225.6" width="23.75" height="5.8" rx="1.2" fill="#ffbe00"/>
<path d="M256.5 152.45 L256.5 148.75 L321 148.75 L321 152.45" fill="none" stroke="#ffffff" stroke-width="1.5" stroke-linejoin="round" stroke-linecap="round"/>
<path d="M256.5 232.55 L256.5 236.25 L321 236.25 L321 232.55" fill="none" stroke="#ffffff" stroke-width="1.5" stroke-linejoin="round" stroke-linecap="round"/>
<path d="M248.5 146.21 L248.5 150.71 M245.96 147.34 L251.04 149.59 M251.04 147.34 L245.96 149.59" fill="none" stroke="#ffffff" stroke-width="1.47" stroke-linecap="round" stroke-linejoin="round"/>
<path d="M270.92 156.42 L270.92 162.07 L271.32 163.2 L272.12 163.96 L273.32 164.33 L274.12 164.33 L275.32 163.96 L276.12 163.2 L276.52 162.07 L276.52 156.42 M283.33 156.42 L279.33 161.69 L285.33 161.69 M283.33 156.42 L283.33 164.33" fill="none" stroke="#ffffff" stroke-width="1.48" stroke-linecap="round" stroke-linejoin="round"/>
<rect x="241" y="255.1" width="23" height="5.8" rx="1.2" fill="#ffbe00"/>
<rect x="314" y="255.1" width="23.75" height="5.8" rx="1.2" fill="#ffbe00"/>
<rect x="241" y="265.35" width="23" height="5.8" rx="1.2" fill="#ffbe00"/>
<rect x="314" y="265.35" width="23.75" height="5.8" rx="1.2" fill="#ffbe00"/>
<rect x="241" y="275.6" width="23" height="5.8" rx="1.2" fill="#ffbe00"/>
<rect x="314" y="275.6" width="23.75" height="5.8" rx="1.2" fill="#ffbe00"/>
<rect x="241" y="285.85" width="23" height="5.8" rx="1.2" fill="#ffbe00"/>
<rect x="314" y="285.85" width="23.75" height="5.8" rx="1.2" fill="#ffbe00"/>
<rect x="241" y="296.1" width="23" height="5.8" rx="1.2" fill="#ffbe00"/>
<rect x="314" y="296.1" width="23.75" height="5.8" rx="1.2" fill="#ffbe00"/>
<rect x="241" y="306.35" width="23" height="5.8" rx="1.2" fill="#ffbe00"/>
<rect x="314" y="306.35" width="23.75" height="5.8" rx="1.2" fill="#ffbe00"/>
<rect x="241" y="316.6" width="23" height="5.8" rx="1.2" fill="#ffbe00"/>
<rect x="314" y="316.6" width="23.75" height="5.8" rx="1.2" fill="#ffbe00"/>
<rect x="241" y="326.85" width="23" height="5.8" rx="1.2" fill="#ffbe00"/>
<rect x="314" y="326.85" width="23.75" height="5.8" rx="1.2" fill="#ffbe00"/>
<path d="M256.5 254.2 L256.5 250.5 L321 250.5 L321 254.2" fill="none" stroke="#ffffff" stroke-width="1.5" stroke-linejoin="round" stroke-linecap="round"/>
<path d="M256.5 333.8 L256.5 337.5 L321 337.5 L321 333.8" fill="none" stroke="#ffffff" stroke-width="1.5" stroke-linejoin="round" stroke-linecap="round"/>
<path d="M248.5 247.96 L248.5 252.46 M245.96 249.09 L251.04 251.34 M251.04 249.09 L245.96 251.34" fill="none" stroke="#ffffff" stroke-width="1.47" stroke-linecap="round" stroke-linejoin="round"/>
<path d="M267.18 258.18 L267.18 263.99 L267.59 265.15 L268.42 265.93 L269.65 266.32 L270.47 266.32 L271.7 265.93 L272.53 265.15 L272.94 263.99 L272.94 258.18 M276.22 260.12 L276.22 259.73 L276.64 258.96 L277.05 258.57 L277.87 258.18 L279.51 258.18 L280.33 258.57 L280.74 258.96 L281.16 259.73 L281.16 260.51 L280.74 261.28 L279.92 262.44 L275.81 266.32 L281.57 266.32" fill="none" stroke="#ffffff" stroke-width="1.52" stroke-linecap="round" stroke-linejoin="round"/>
<rect x="338.7" y="216.3" width="2.2" height="4" fill="#fff"/>
<rect x="338.7" y="317.5" width="2.2" height="4" fill="#fff"/>
<rect x="212.75" y="142.5" width="23.75" height="11" fill="none" stroke="#ffffff" stroke-width="1.2"/>
<rect x="214.55" y="144.1" width="8.1" height="7.8" rx="0.6" fill="#ffbe00"/>
<rect x="226.6" y="144.1" width="8.1" height="7.8" rx="0.6" fill="#ffbe00"/>
<path d="M198.45 145.82 L198.16 145.21 L197.57 144.6 L196.98 144.29 L195.8 144.29 L195.22 144.6 L194.63 145.21 L194.33 145.82 L194.04 146.74 L194.04 148.26 L194.33 149.18 L194.63 149.79 L195.22 150.4 L195.8 150.71 L196.98 150.71 L197.57 150.4 L198.16 149.79 L198.45 149.18 M200.51 145.82 L200.51 145.51 L200.8 144.9 L201.1 144.6 L201.68 144.29 L202.86 144.29 L203.45 144.6 L203.74 144.9 L204.04 145.51 L204.04 146.12 L203.74 146.74 L203.15 147.65 L200.21 150.71 L204.33 150.71 M206.39 145.82 L206.39 145.51 L206.68 144.9 L206.98 144.6 L207.56 144.29 L208.74 144.29 L209.33 144.6 L209.62 144.9 L209.92 145.51 L209.92 146.12 L209.62 146.74 L209.03 147.65 L206.09 150.71 L210.21 150.71" fill="none" stroke="#ffffff" stroke-width="1.2" stroke-linecap="round" stroke-linejoin="round"/>
<rect x="212.75" y="158.75" width="23.75" height="11" fill="none" stroke="#ffffff" stroke-width="1.2"/>
<rect x="214.55" y="160.35" width="8.1" height="7.8" rx="0.6" fill="#ffbe00"/>
<rect x="226.6" y="160.35" width="8.1" height="7.8" rx="0.6" fill="#ffbe00"/>
<path d="M198.45 165.32 L198.16 164.71 L197.57 164.1 L196.98 163.79 L195.8 163.79 L195.22 164.1 L194.63 164.71 L194.33 165.32 L194.04 166.24 L194.04 167.76 L194.33 168.68 L194.63 169.29 L195.22 169.9 L195.8 170.21 L196.98 170.21 L197.57 169.9 L198.16 169.29 L198.45 168.68 M201.1 165.01 L201.68 164.71 L202.57 163.79 L202.57 170.21 M207.56 163.79 L206.68 164.1 L206.39 164.71 L206.39 165.32 L206.68 165.93 L207.27 166.24 L208.45 166.54 L209.33 166.85 L209.92 167.46 L210.21 168.07 L210.21 168.99 L209.92 169.6 L209.62 169.9 L208.74 170.21 L207.56 170.21 L206.68 169.9 L206.39 169.6 L206.09 168.99 L206.09 168.07 L206.39 167.46 L206.98 166.85 L207.86 166.54 L209.03 166.24 L209.62 165.93 L209.92 165.32 L209.92 164.71 L209.62 164.1 L208.74 163.79 L207.56 163.79" fill="none" stroke="#ffffff" stroke-width="1.2" stroke-linecap="round" stroke-linejoin="round"/>
<rect x="212.75" y="182" width="23.75" height="11" fill="none" stroke="#ffffff" stroke-width="1.2"/>
<rect x="214.55" y="183.6" width="8.1" height="7.8" rx="0.6" fill="#ffbe00"/>
<rect x="226.6" y="183.6" width="8.1" height="7.8" rx="0.6" fill="#ffbe00"/>
<path d="M198.53 184.57 L198.23 183.96 L197.63 183.35 L197.03 183.04 L195.84 183.04 L195.24 183.35 L194.64 183.96 L194.34 184.57 L194.04 185.49 L194.04 187.01 L194.34 187.93 L194.64 188.54 L195.24 189.15 L195.84 189.46 L197.03 189.46 L197.63 189.15 L198.23 188.54 L198.53 187.93 M201.23 184.26 L201.83 183.96 L202.72 183.04 L202.72 189.46 M210.21 185.18 L209.91 186.1 L209.31 186.71 L208.41 187.01 L208.11 187.01 L207.22 186.71 L206.62 186.1 L206.32 185.18 L206.32 184.87 L206.62 183.96 L207.22 183.35 L208.11 183.04 L208.41 183.04 L209.31 183.35 L209.91 183.96 L210.21 185.18 L210.21 186.71 L209.91 188.24 L209.31 189.15 L208.41 189.46 L207.81 189.46 L206.92 189.15 L206.62 188.54" fill="none" stroke="#ffffff" stroke-width="1.2" stroke-linecap="round" stroke-linejoin="round"/>
<rect x="212.75" y="202.5" width="23.75" height="11" fill="none" stroke="#ffffff" stroke-width="1.2"/>
<rect x="214.55" y="204.1" width="8.1" height="7.8" rx="0.6" fill="#ffbe00"/>
<rect x="226.6" y="204.1" width="8.1" height="7.8" rx="0.6" fill="#ffbe00"/>
<path d="M198.99 208.82 L198.66 208.21 L198 207.6 L197.34 207.29 L196.02 207.29 L195.36 207.6 L194.7 208.21 L194.37 208.82 L194.04 209.74 L194.04 211.26 L194.37 212.18 L194.7 212.79 L195.36 213.4 L196.02 213.71 L197.34 213.71 L198 213.4 L198.66 212.79 L198.99 212.18 M201.3 208.82 L201.3 208.51 L201.63 207.9 L201.96 207.6 L202.62 207.29 L203.94 207.29 L204.6 207.6 L204.93 207.9 L205.26 208.51 L205.26 209.12 L204.93 209.74 L204.27 210.65 L200.97 213.71 L205.59 213.71 M208.56 208.51 L209.22 208.21 L210.21 207.29 L210.21 213.71" fill="none" stroke="#ffffff" stroke-width="1.2" stroke-linecap="round" stroke-linejoin="round"/>
<rect x="212.75" y="244.25" width="23.75" height="11" fill="none" stroke="#ffffff" stroke-width="1.2"/>
<rect x="214.55" y="245.85" width="8.1" height="7.8" rx="0.6" fill="#ffbe00"/>
<rect x="226.6" y="245.85" width="8.1" height="7.8" rx="0.6" fill="#ffbe00"/>
<path d="M204.61 250.68 L204.35 250.11 L203.84 249.54 L203.32 249.25 L202.3 249.25 L201.78 249.54 L201.27 250.11 L201.01 250.68 L200.75 251.54 L200.75 252.96 L201.01 253.82 L201.27 254.39 L201.78 254.96 L202.3 255.25 L203.32 255.25 L203.84 254.96 L204.35 254.39 L204.61 253.82 M209.23 249.25 L206.66 249.25 L206.41 251.82 L206.66 251.54 L207.43 251.25 L208.2 251.25 L208.98 251.54 L209.49 252.11 L209.75 252.96 L209.75 253.53 L209.49 254.39 L208.98 254.96 L208.2 255.25 L207.43 255.25 L206.66 254.96 L206.41 254.68 L206.15 254.1" fill="none" stroke="#ffffff" stroke-width="1.12" stroke-linecap="round" stroke-linejoin="round"/>
<rect x="212.75" y="260" width="23.75" height="11" fill="none" stroke="#ffffff" stroke-width="1.2"/>
<rect x="214.55" y="261.6" width="8.1" height="7.8" rx="0.6" fill="#ffbe00"/>
<rect x="226.6" y="261.6" width="8.1" height="7.8" rx="0.6" fill="#ffbe00"/>
<path d="M206.01 265.07 L205.74 264.46 L205.21 263.85 L204.68 263.54 L203.63 263.54 L203.1 263.85 L202.57 264.46 L202.3 265.07 L202.04 265.99 L202.04 267.51 L202.3 268.43 L202.57 269.04 L203.1 269.65 L203.63 269.96 L204.68 269.96 L205.21 269.65 L205.74 269.04 L206.01 268.43 M208.39 264.76 L208.92 264.46 L209.71 263.54 L209.71 269.96" fill="none" stroke="#ffffff" stroke-width="1.2" stroke-linecap="round" stroke-linejoin="round"/>
<rect x="212.75" y="283.25" width="23.75" height="11" fill="none" stroke="#ffffff" stroke-width="1.2"/>
<rect x="214.55" y="284.85" width="8.1" height="7.8" rx="0.6" fill="#ffbe00"/>
<rect x="226.6" y="284.85" width="8.1" height="7.8" rx="0.6" fill="#ffbe00"/>
<path d="M201.83 284.57 L201.56 283.96 L201.02 283.35 L200.48 283.04 L199.4 283.04 L198.87 283.35 L198.33 283.96 L198.06 284.57 L197.79 285.49 L197.79 287.01 L198.06 287.93 L198.33 288.54 L198.87 289.15 L199.4 289.46 L200.48 289.46 L201.02 289.15 L201.56 288.54 L201.83 287.93 M203.71 284.57 L203.71 284.26 L203.98 283.65 L204.25 283.35 L204.79 283.04 L205.86 283.04 L206.4 283.35 L206.67 283.65 L206.94 284.26 L206.94 284.87 L206.67 285.49 L206.13 286.4 L203.44 289.46 L207.21 289.46" fill="none" stroke="#ffffff" stroke-width="1.2" stroke-linecap="round" stroke-linejoin="round"/>
<rect x="212.75" y="303.75" width="23.75" height="11" fill="none" stroke="#ffffff" stroke-width="1.2"/>
<rect x="214.55" y="305.35" width="8.1" height="7.8" rx="0.6" fill="#ffbe00"/>
<rect x="226.6" y="305.35" width="8.1" height="7.8" rx="0.6" fill="#ffbe00"/>
<path d="M228.85 318.93 L228.6 318.36 L228.08 317.79 L227.57 317.5 L226.54 317.5 L226.03 317.79 L225.52 318.36 L225.26 318.93 L225 319.79 L225 321.21 L225.26 322.07 L225.52 322.64 L226.03 323.21 L226.54 323.5 L227.57 323.5 L228.08 323.21 L228.6 322.64 L228.85 322.07 M232.96 317.5 L230.4 321.5 L234.25 321.5 M232.96 317.5 L232.96 323.5" fill="none" stroke="#ffffff" stroke-width="1.12" stroke-linecap="round" stroke-linejoin="round"/>
<rect x="344" y="152.5" width="11.5" height="23.75" fill="none" stroke="#ffffff" stroke-width="1.2"/>
<rect x="345.6" y="154.3" width="8.3" height="8.1" rx="0.6" fill="#ffbe00"/>
<rect x="345.6" y="166.35" width="8.3" height="8.1" rx="0.6" fill="#ffbe00"/>
<path d="M357.93 166.16 L357.45 166.4 L356.97 166.88 L356.73 167.36 L356.73 168.32 L356.97 168.81 L357.45 169.29 L357.93 169.53 L358.65 169.77 L359.85 169.77 L360.57 169.53 L361.05 169.29 L361.53 168.81 L361.77 168.32 L361.77 167.36 L361.53 166.88 L361.05 166.4 L360.57 166.16 M357.93 164.47 L357.69 164.47 L357.21 164.23 L356.97 163.99 L356.73 163.51 L356.73 162.55 L356.97 162.07 L357.21 161.83 L357.69 161.59 L358.17 161.59 L358.65 161.83 L359.37 162.31 L361.77 164.71 L361.77 161.34 M356.73 158.46 L356.97 159.18 L357.69 159.66 L358.89 159.9 L359.61 159.9 L360.81 159.66 L361.53 159.18 L361.77 158.46 L361.77 157.98 L361.53 157.25 L360.81 156.77 L359.61 156.53 L358.89 156.53 L357.69 156.77 L356.97 157.25 L356.73 157.98 L356.73 158.46 M360.81 159.42 L357.69 157.01" fill="none" stroke="#ffffff" stroke-width="1.62" stroke-linecap="round" stroke-linejoin="round"/>
<rect x="344" y="254.25" width="11.5" height="23.75" fill="none" stroke="#ffffff" stroke-width="1.2"/>
<rect x="345.6" y="256.05" width="8.3" height="8.1" rx="0.6" fill="#ffbe00"/>
<rect x="345.6" y="268.1" width="8.3" height="8.1" rx="0.6" fill="#ffbe00"/>
<path d="M350.57 246.5 L350.3 245.91 L349.76 245.32 L349.22 245.02 L348.14 245.02 L347.6 245.32 L347.06 245.91 L346.79 246.5 L346.52 247.39 L346.52 248.86 L346.79 249.75 L347.06 250.34 L347.6 250.93 L348.14 251.23 L349.22 251.23 L349.76 250.93 L350.3 250.34 L350.57 249.75 M352.74 245.02 L355.71 245.02 L354.09 247.39 L354.9 247.39 L355.44 247.68 L355.71 247.98 L355.98 248.86 L355.98 249.45 L355.71 250.34 L355.17 250.93 L354.36 251.23 L353.55 251.23 L352.74 250.93 L352.47 250.64 L352.2 250.05" fill="none" stroke="#ffffff" stroke-width="1.16" stroke-linecap="round" stroke-linejoin="round"/>
<rect x="429.25" y="144.25" width="11.5" height="23.75" fill="none" stroke="#ffffff" stroke-width="1.2"/>
<rect x="430.85" y="146.05" width="8.3" height="8.1" rx="0.6" fill="#ffbe00"/>
<rect x="430.85" y="158.1" width="8.3" height="8.1" rx="0.6" fill="#ffbe00"/>
<path d="M422.35 161.72 L421.85 162.01 L421.34 162.61 L421.08 163.2 L421.08 164.39 L421.34 164.98 L421.85 165.57 L422.35 165.87 L423.12 166.16 L424.38 166.16 L425.15 165.87 L425.65 165.57 L426.16 164.98 L426.42 164.39 L426.42 163.2 L426.16 162.61 L425.65 162.01 L425.15 161.72 M422.86 156.09 L423.62 156.38 L424.13 156.97 L424.38 157.86 L424.38 158.16 L424.13 159.05 L423.62 159.64 L422.86 159.94 L422.61 159.94 L421.85 159.64 L421.34 159.05 L421.08 158.16 L421.08 157.86 L421.34 156.97 L421.85 156.38 L422.86 156.09 L424.13 156.09 L425.4 156.38 L426.16 156.97 L426.42 157.86 L426.42 158.46 L426.16 159.35 L425.65 159.64" fill="none" stroke="#ffffff" stroke-width="1.3" stroke-linecap="round" stroke-linejoin="round"/>
<rect x="443.25" y="142.25" width="15.5" height="27.75" fill="none" stroke="#ffffff" stroke-width="1.2"/>
<rect x="445" y="144.25" width="12.5" height="9.5" rx="0.6" fill="#ffbe00"/>
<rect x="445" y="158.75" width="12.5" height="9.75" rx="0.6" fill="#ffbe00"/>
<path d="M448.73 134.96 L448.18 135.25 L447.62 135.84 L447.35 136.44 L447.35 137.62 L447.62 138.22 L448.18 138.81 L448.73 139.11 L449.56 139.4 L450.94 139.4 L451.77 139.11 L452.32 138.81 L452.88 138.22 L453.15 137.62 L453.15 136.44 L452.88 135.84 L452.32 135.25 L451.77 134.96 M448.45 132.29 L448.18 131.69 L447.35 130.81 L453.15 130.81 M447.35 125.47 L447.62 126.36 L448.45 126.95 L449.84 127.25 L450.66 127.25 L452.05 126.95 L452.88 126.36 L453.15 125.47 L453.15 124.88 L452.88 123.99 L452.05 123.39 L450.66 123.1 L449.84 123.1 L448.45 123.39 L447.62 123.99 L447.35 124.88 L447.35 125.47 M452.05 126.66 L448.45 123.69" fill="none" stroke="#ffffff" stroke-width="1.33" stroke-linecap="round" stroke-linejoin="round"/>
<rect x="461.25" y="144.25" width="11.5" height="23.75" fill="none" stroke="#ffffff" stroke-width="1.2"/>
<rect x="462.85" y="146.05" width="8.3" height="8.1" rx="0.6" fill="#ffbe00"/>
<rect x="462.85" y="158.1" width="8.3" height="8.1" rx="0.6" fill="#ffbe00"/>
<path d="M463.32 137.98 L462.71 138.28 L462.1 138.88 L461.79 139.47 L461.79 140.67 L462.1 141.27 L462.71 141.86 L463.32 142.16 L464.24 142.46 L465.76 142.46 L466.68 142.16 L467.29 141.86 L467.9 141.27 L468.21 140.67 L468.21 139.47 L467.9 138.88 L467.29 138.28 L466.68 137.98 M463.32 135.89 L463.01 135.89 L462.4 135.59 L462.1 135.29 L461.79 134.7 L461.79 133.5 L462.1 132.91 L462.4 132.61 L463.01 132.31 L463.62 132.31 L464.24 132.61 L465.15 133.21 L468.21 136.19 L468.21 132.01 M461.79 129.62 L461.79 126.34 L464.24 128.13 L464.24 127.23 L464.54 126.64 L464.85 126.34 L465.76 126.04 L466.38 126.04 L467.29 126.34 L467.9 126.94 L468.21 127.83 L468.21 128.73 L467.9 129.62 L467.6 129.92 L466.99 130.22" fill="none" stroke="#ffffff" stroke-width="1.2" stroke-linecap="round" stroke-linejoin="round"/>
<rect x="475.75" y="142.25" width="15" height="27.75" fill="none" stroke="#ffffff" stroke-width="1.2"/>
<rect x="477.5" y="144.25" width="11.75" height="9.5" rx="0.6" fill="#ffbe00"/>
<rect x="477.5" y="158.75" width="11.75" height="9.75" rx="0.6" fill="#ffbe00"/>
<path d="M480.82 135.32 L480.21 135.59 L479.6 136.14 L479.29 136.7 L479.29 137.8 L479.6 138.35 L480.21 138.91 L480.82 139.18 L481.74 139.46 L483.26 139.46 L484.18 139.18 L484.79 138.91 L485.4 138.35 L485.71 137.8 L485.71 136.7 L485.4 136.14 L484.79 135.59 L484.18 135.32 M479.29 132.28 L479.6 133.11 L480.21 133.38 L480.82 133.38 L481.43 133.11 L481.74 132.55 L482.04 131.45 L482.35 130.62 L482.96 130.07 L483.57 129.79 L484.49 129.79 L485.1 130.07 L485.4 130.34 L485.71 131.17 L485.71 132.28 L485.4 133.11 L485.1 133.38 L484.49 133.66 L483.57 133.66 L482.96 133.38 L482.35 132.83 L482.04 132 L481.74 130.9 L481.43 130.34 L480.82 130.07 L480.21 130.07 L479.6 130.34 L479.29 131.17 L479.29 132.28" fill="none" stroke="#ffffff" stroke-width="1.2" stroke-linecap="round" stroke-linejoin="round"/>
<rect x="502" y="142.25" width="11.5" height="23.75" fill="none" stroke="#ffffff" stroke-width="1.2"/>
<rect x="503.6" y="144.05" width="8.3" height="8.1" rx="0.6" fill="#ffbe00"/>
<rect x="503.6" y="156.1" width="8.3" height="8.1" rx="0.6" fill="#ffbe00"/>
<path d="M503.04 141.21 L509.46 141.21 M503.04 141.21 L503.04 138.13 L503.35 137.1 L503.65 136.76 L504.26 136.42 L504.87 136.42 L505.49 136.76 L505.79 137.1 L506.1 138.13 L506.1 141.21 M506.1 138.82 L509.46 136.42 M504.57 134.03 L504.26 134.03 L503.65 133.68 L503.35 133.34 L503.04 132.66 L503.04 131.29 L503.35 130.61 L503.65 130.26 L504.26 129.92 L504.87 129.92 L505.49 130.26 L506.4 130.95 L509.46 134.37 L509.46 129.58 M504.26 126.5 L503.96 125.82 L503.04 124.79 L509.46 124.79" fill="none" stroke="#ffffff" stroke-width="1.2" stroke-linecap="round" stroke-linejoin="round"/>
<rect x="517" y="139.25" width="13.75" height="30" rx="2" fill="none" stroke="#fff" stroke-width="1.2"/>
<rect x="520.5" y="134.25" width="7.5" height="10" rx="0.6" fill="#ffbe00"/>
<rect x="520.5" y="164.25" width="7.5" height="10" rx="0.6" fill="#ffbe00"/>
<path d="M532 150.09 L534.2 150.09 M532 150.09 L532 149.36 L532.11 149.04 L532.32 148.83 L532.53 148.72 L532.84 148.62 L533.36 148.62 L533.67 148.72 L533.88 148.83 L534.09 149.04 L534.2 149.36 L534.2 150.09 M532 146.93 L533.47 147.99 L533.47 146.41 M532 146.93 L534.2 146.93" fill="none" stroke="#b8c8b0" stroke-width="0.9" stroke-linecap="round" stroke-linejoin="round"/>
<rect x="534.25" y="142.25" width="11.5" height="23.75" fill="none" stroke="#ffffff" stroke-width="1.2"/>
<rect x="535.85" y="144.05" width="8.3" height="8.1" rx="0.6" fill="#ffbe00"/>
<rect x="535.85" y="156.1" width="8.3" height="8.1" rx="0.6" fill="#ffbe00"/>
<path d="M549.15 159.84 L548.52 160.12 L547.88 160.68 L547.56 161.24 L547.56 162.36 L547.88 162.92 L548.52 163.48 L549.15 163.76 L550.11 164.04 L551.69 164.04 L552.65 163.76 L553.28 163.48 L553.92 162.92 L554.24 162.36 L554.24 161.24 L553.92 160.68 L553.28 160.12 L552.65 159.84 M548.83 157.33 L548.52 156.77 L547.56 155.93 L554.24 155.93 M547.56 148.66 L554.24 151.46 M547.56 152.58 L547.56 148.66" fill="none" stroke="#ffffff" stroke-width="1.25" stroke-linecap="round" stroke-linejoin="round"/>
<rect x="542.5" y="187.25" width="23.75" height="11" fill="none" stroke="#ffffff" stroke-width="1.2"/>
<rect x="544.3" y="188.85" width="8.1" height="7.8" rx="0.6" fill="#ffbe00"/>
<rect x="556.35" y="188.85" width="8.1" height="7.8" rx="0.6" fill="#ffbe00"/>
<path d="M548.63 177.57 L548.34 176.96 L547.76 176.35 L547.18 176.04 L546.03 176.04 L545.45 176.35 L544.87 176.96 L544.58 177.57 L544.29 178.49 L544.29 180.01 L544.58 180.93 L544.87 181.54 L545.45 182.15 L546.03 182.46 L547.18 182.46 L547.76 182.15 L548.34 181.54 L548.63 180.93 M551.24 177.26 L551.82 176.96 L552.68 176.04 L552.68 182.46 M556.45 177.57 L556.45 177.26 L556.74 176.65 L557.03 176.35 L557.6 176.04 L558.76 176.04 L559.34 176.35 L559.63 176.65 L559.92 177.26 L559.92 177.87 L559.63 178.49 L559.05 179.4 L556.16 182.46 L560.21 182.46" fill="none" stroke="#ffffff" stroke-width="1.2" stroke-linecap="round" stroke-linejoin="round"/>
<rect x="401" y="177.2" width="3" height="13" rx="0.3" fill="#ffbe00"/>
<rect x="401" y="300.8" width="3" height="13.8" rx="0.3" fill="#ffbe00"/>
<rect x="382" y="195.4" width="14" height="3" rx="0.3" fill="#ffbe00"/>
<rect x="506.7" y="195.4" width="13.7" height="3" rx="0.3" fill="#ffbe00"/>
<rect x="405.08" y="177.2" width="3" height="13" rx="0.3" fill="#ffbe00"/>
<rect x="405.08" y="300.8" width="3" height="13.8" rx="0.3" fill="#ffbe00"/>
<rect x="382" y="199.48" width="14" height="3" rx="0.3" fill="#ffbe00"/>
<rect x="506.7" y="199.48" width="13.7" height="3" rx="0.3" fill="#ffbe00"/>
<rect x="409.17" y="177.2" width="3" height="13" rx="0.3" fill="#ffbe00"/>
<rect x="409.17" y="300.8" width="3" height="13.8" rx="0.3" fill="#ffbe00"/>
<rect x="382" y="203.57" width="14" height="3" rx="0.3" fill="#ffbe00"/>
<rect x="506.7" y="203.57" width="13.7" height="3" rx="0.3" fill="#ffbe00"/>
<rect x="413.25" y="177.2" width="3" height="13" rx="0.3" fill="#ffbe00"/>
<rect x="413.25" y="300.8" width="3" height="13.8" rx="0.3" fill="#ffbe00"/>
<rect x="382" y="207.65" width="14" height="3" rx="0.3" fill="#ffbe00"/>
<rect x="506.7" y="207.65" width="13.7" height="3" rx="0.3" fill="#ffbe00"/>
<rect x="417.33" y="177.2" width="3" height="13" rx="0.3" fill="#ffbe00"/>
<rect x="417.33" y="300.8" width="3" height="13.8" rx="0.3" fill="#ffbe00"/>
<rect x="382" y="211.73" width="14" height="3" rx="0.3" fill="#ffbe00"/>
<rect x="506.7" y="211.73" width="13.7" height="3" rx="0.3" fill="#ffbe00"/>
<rect x="421.42" y="177.2" width="3" height="13" rx="0.3" fill="#ffbe00"/>
<rect x="421.42" y="300.8" width="3" height="13.8" rx="0.3" fill="#ffbe00"/>
<rect x="382" y="215.81" width="14" height="3" rx="0.3" fill="#ffbe00"/>
<rect x="506.7" y="215.81" width="13.7" height="3" rx="0.3" fill="#ffbe00"/>
<rect x="425.5" y="177.2" width="3" height="13" rx="0.3" fill="#ffbe00"/>
<rect x="425.5" y="300.8" width="3" height="13.8" rx="0.3" fill="#ffbe00"/>
<rect x="382" y="219.9" width="14" height="3" rx="0.3" fill="#ffbe00"/>
<rect x="506.7" y="219.9" width="13.7" height="3" rx="0.3" fill="#ffbe00"/>
<rect x="429.58" y="177.2" width="3" height="13" rx="0.3" fill="#ffbe00"/>
<rect x="429.58" y="300.8" width="3" height="13.8" rx="0.3" fill="#ffbe00"/>
<rect x="382" y="223.98" width="14" height="3" rx="0.3" fill="#ffbe00"/>
<rect x="506.7" y="223.98" width="13.7" height="3" rx="0.3" fill="#ffbe00"/>
<rect x="433.66" y="177.2" width="3" height="13" rx="0.3" fill="#ffbe00"/>
<rect x="433.66" y="300.8" width="3" height="13.8" rx="0.3" fill="#ffbe00"/>
<rect x="382" y="228.06" width="14" height="3" rx="0.3" fill="#ffbe00"/>
<rect x="506.7" y="228.06" width="13.7" height="3" rx="0.3" fill="#ffbe00"/>
<rect x="437.75" y="177.2" width="3" height="13" rx="0.3" fill="#ffbe00"/>
<rect x="437.75" y="300.8" width="3" height="13.8" rx="0.3" fill="#ffbe00"/>
<rect x="382" y="232.15" width="14" height="3" rx="0.3" fill="#ffbe00"/>
<rect x="506.7" y="232.15" width="13.7" height="3" rx="0.3" fill="#ffbe00"/>
<rect x="441.83" y="177.2" width="3" height="13" rx="0.3" fill="#ffbe00"/>
<rect x="441.83" y="300.8" width="3" height="13.8" rx="0.3" fill="#ffbe00"/>
<rect x="382" y="236.23" width="14" height="3" rx="0.3" fill="#ffbe00"/>
<rect x="506.7" y="236.23" width="13.7" height="3" rx="0.3" fill="#ffbe00"/>
<rect x="445.91" y="177.2" width="3" height="13" rx="0.3" fill="#ffbe00"/>
<rect x="445.91" y="300.8" width="3" height="13.8" rx="0.3" fill="#ffbe00"/>
<rect x="382" y="240.31" width="14" height="3" rx="0.3" fill="#ffbe00"/>
<rect x="506.7" y="240.31" width="13.7" height="3" rx="0.3" fill="#ffbe00"/>
<rect x="450" y="177.2" width="3" height="13" rx="0.3" fill="#ffbe00"/>
<rect x="450" y="300.8" width="3" height="13.8" rx="0.3" fill="#ffbe00"/>
<rect x="382" y="244.4" width="14" height="3" rx="0.3" fill="#ffbe00"/>
<rect x="506.7" y="244.4" width="13.7" height="3" rx="0.3" fill="#ffbe00"/>
<rect x="454.08" y="177.2" width="3" height="13" rx="0.3" fill="#ffbe00"/>
<rect x="454.08" y="300.8" width="3" height="13.8" rx="0.3" fill="#ffbe00"/>
<rect x="382" y="248.48" width="14" height="3" rx="0.3" fill="#ffbe00"/>
<rect x="506.7" y="248.48" width="13.7" height="3" rx="0.3" fill="#ffbe00"/>
<rect x="458.16" y="177.2" width="3" height="13" rx="0.3" fill="#ffbe00"/>
<rect x="458.16" y="300.8" width="3" height="13.8" rx="0.3" fill="#ffbe00"/>
<rect x="382" y="252.56" width="14" height="3" rx="0.3" fill="#ffbe00"/>
<rect x="506.7" y="252.56" width="13.7" height="3" rx="0.3" fill="#ffbe00"/>
<rect x="462.25" y="177.2" width="3" height="13" rx="0.3" fill="#ffbe00"/>
<rect x="462.25" y="300.8" width="3" height="13.8" rx="0.3" fill="#ffbe00"/>
<rect x="382" y="256.64" width="14" height="3" rx="0.3" fill="#ffbe00"/>
<rect x="506.7" y="256.64" width="13.7" height="3" rx="0.3" fill="#ffbe00"/>
<rect x="466.33" y="177.2" width="3" height="13" rx="0.3" fill="#ffbe00"/>
<rect x="466.33" y="300.8" width="3" height="13.8" rx="0.3" fill="#ffbe00"/>
<rect x="382" y="260.73" width="14" height="3" rx="0.3" fill="#ffbe00"/>
<rect x="506.7" y="260.73" width="13.7" height="3" rx="0.3" fill="#ffbe00"/>
<rect x="470.41" y="177.2" width="3" height="13" rx="0.3" fill="#ffbe00"/>
<rect x="470.41" y="300.8" width="3" height="13.8" rx="0.3" fill="#ffbe00"/>
<rect x="382" y="264.81" width="14" height="3" rx="0.3" fill="#ffbe00"/>
<rect x="506.7" y="264.81" width="13.7" height="3" rx="0.3" fill="#ffbe00"/>
<rect x="474.49" y="177.2" width="3" height="13" rx="0.3" fill="#ffbe00"/>
<rect x="474.49" y="300.8" width="3" height="13.8" rx="0.3" fill="#ffbe00"/>
<rect x="382" y="268.89" width="14" height="3" rx="0.3" fill="#ffbe00"/>
<rect x="506.7" y="268.89" width="13.7" height="3" rx="0.3" fill="#ffbe00"/>
<rect x="478.58" y="177.2" width="3" height="13" rx="0.3" fill="#ffbe00"/>
<rect x="478.58" y="300.8" width="3" height="13.8" rx="0.3" fill="#ffbe00"/>
<rect x="382" y="272.98" width="14" height="3" rx="0.3" fill="#ffbe00"/>
<rect x="506.7" y="272.98" width="13.7" height="3" rx="0.3" fill="#ffbe00"/>
<rect x="482.66" y="177.2" width="3" height="13" rx="0.3" fill="#ffbe00"/>
<rect x="482.66" y="300.8" width="3" height="13.8" rx="0.3" fill="#ffbe00"/>
<rect x="382" y="277.06" width="14" height="3" rx="0.3" fill="#ffbe00"/>
<rect x="506.7" y="277.06" width="13.7" height="3" rx="0.3" fill="#ffbe00"/>
<rect x="486.74" y="177.2" width="3" height="13" rx="0.3" fill="#ffbe00"/>
<rect x="486.74" y="300.8" width="3" height="13.8" rx="0.3" fill="#ffbe00"/>
<rect x="382" y="281.14" width="14" height="3" rx="0.3" fill="#ffbe00"/>
<rect x="506.7" y="281.14" width="13.7" height="3" rx="0.3" fill="#ffbe00"/>
<rect x="490.83" y="177.2" width="3" height="13" rx="0.3" fill="#ffbe00"/>
<rect x="490.83" y="300.8" width="3" height="13.8" rx="0.3" fill="#ffbe00"/>
<rect x="382" y="285.23" width="14" height="3" rx="0.3" fill="#ffbe00"/>
<rect x="506.7" y="285.23" width="13.7" height="3" rx="0.3" fill="#ffbe00"/>
<rect x="494.91" y="177.2" width="3" height="13" rx="0.3" fill="#ffbe00"/>
<rect x="494.91" y="300.8" width="3" height="13.8" rx="0.3" fill="#ffbe00"/>
<rect x="382" y="289.31" width="14" height="3" rx="0.3" fill="#ffbe00"/>
<rect x="506.7" y="289.31" width="13.7" height="3" rx="0.3" fill="#ffbe00"/>
<rect x="498.99" y="177.2" width="3" height="13" rx="0.3" fill="#ffbe00"/>
<rect x="498.99" y="300.8" width="3" height="13.8" rx="0.3" fill="#ffbe00"/>
<rect x="382" y="293.39" width="14" height="3" rx="0.3" fill="#ffbe00"/>
<rect x="506.7" y="293.39" width="13.7" height="3" rx="0.3" fill="#ffbe00"/>
<path d="M393.5 193 L393.5 188.5 L398.5 188.5" fill="none" stroke="#ffffff" stroke-width="1.2" stroke-linejoin="round" stroke-linecap="round"/>
<path d="M393.5 298 L393.5 302.5 L398.5 302.5" fill="none" stroke="#ffffff" stroke-width="1.2" stroke-linejoin="round" stroke-linecap="round"/>
<path d="M508.4 193 L508.4 188.5 L503.5 188.5" fill="none" stroke="#ffffff" stroke-width="1.2" stroke-linejoin="round" stroke-linecap="round"/>
<path d="M508.4 298 L508.4 302.5 L503.5 302.5" fill="none" stroke="#ffffff" stroke-width="1.2" stroke-linejoin="round" stroke-linecap="round"/>
<circle cx="407.3" cy="203.6" r="4.7" fill="none" stroke="#fff" stroke-width="1.3"/>
<circle cx="386.3" cy="191" r="1.8" fill="#ffffff"/>
<path d="M380.49 165.89 L380.49 171.76 L381 172.93 L382.02 173.72 L383.56 174.11 L384.58 174.11 L386.11 173.72 L387.13 172.93 L387.64 171.76 L387.64 165.89 M392.75 167.46 L393.78 167.07 L395.31 165.89 L395.31 174.11" fill="none" stroke="#ffffff" stroke-width="1.54" stroke-linecap="round" stroke-linejoin="round"/>
<rect x="537.8" y="204.5" width="12.5" height="17.4" rx="1" fill="#ffbe00"/>
<rect x="558.2" y="204.5" width="13.1" height="17.4" rx="3" fill="#ffbe00"/>
<rect x="537.5" y="252.9" width="13" height="17.9" rx="3" fill="#ffbe00"/>
<rect x="558.2" y="252.9" width="13.1" height="17.9" rx="1" fill="#ffbe00"/>
<path d="M537.3 208.9 L534.2 208.9 L534.2 265.9 L537.3 265.9" fill="none" stroke="#ffffff" stroke-width="1.6" stroke-linejoin="round" stroke-linecap="round"/>
<path d="M571.6 208.9 L575 208.9 L575 265.9 L571.6 265.9" fill="none" stroke="#ffffff" stroke-width="1.6" stroke-linejoin="round" stroke-linecap="round"/>
<path d="M550.7 208.9 L558 208.9" fill="none" stroke="#ffffff" stroke-width="1.6" stroke-linejoin="round" stroke-linecap="round"/>
<path d="M550.7 265.9 L558 265.9" fill="none" stroke="#ffffff" stroke-width="1.6" stroke-linejoin="round" stroke-linecap="round"/>
<path d="M525.71 265.59 L528.03 263.25 L530.59 263.25 M525.71 260.92 L528.03 263.25 M526.64 258.87 L526.41 258.29 L525.71 257.41 L530.59 257.41" fill="none" stroke="#ffffff" stroke-width="0.91" stroke-linecap="round" stroke-linejoin="round"/>
<circle cx="564.7" cy="273.75" r="1.6" fill="#ffffff"/>
<rect x="542.5" y="276.3" width="23.75" height="11" fill="none" stroke="#ffffff" stroke-width="1.2"/>
<rect x="544.3" y="277.9" width="8.1" height="7.8" rx="0.6" fill="#ffbe00"/>
<rect x="556.35" y="277.9" width="8.1" height="7.8" rx="0.6" fill="#ffbe00"/>
<path d="M553.38 290.29 L553.07 289.7 L552.43 289.11 L551.79 288.82 L550.52 288.82 L549.89 289.11 L549.25 289.7 L548.94 290.29 L548.62 291.17 L548.62 292.63 L548.94 293.51 L549.25 294.1 L549.89 294.69 L550.52 294.98 L551.79 294.98 L552.43 294.69 L553.07 294.1 L553.38 293.51 M556.24 289.99 L556.88 289.7 L557.83 288.82 L557.83 294.98 M562.59 289.99 L563.23 289.7 L564.18 288.82 L564.18 294.98" fill="none" stroke="#ffffff" stroke-width="1.15" stroke-linecap="round" stroke-linejoin="round"/>
<rect x="597" y="235.75" width="23.75" height="11" fill="none" stroke="#ffffff" stroke-width="1.2"/>
<rect x="598.8" y="237.35" width="8.1" height="7.8" rx="0.6" fill="#ffbe00"/>
<rect x="610.85" y="237.35" width="8.1" height="7.8" rx="0.6" fill="#ffbe00"/>
<path d="M599.52 226.27 L599.52 232.48 M599.52 226.27 L602.7 226.27 L603.76 226.57 L604.11 226.86 L604.47 227.45 L604.47 228.05 L604.11 228.64 L603.76 228.93 L602.7 229.23 L599.52 229.23 M601.99 229.23 L604.47 232.48 M607.65 227.45 L608.35 227.16 L609.41 226.27 L609.41 232.48 M614.71 227.45 L615.42 227.16 L616.48 226.27 L616.48 232.48" fill="none" stroke="#ffffff" stroke-width="1.16" stroke-linecap="round" stroke-linejoin="round"/>
<rect x="629.3" y="235.75" width="23.75" height="11" fill="none" stroke="#ffffff" stroke-width="1.2"/>
<rect x="631.1" y="237.35" width="8.1" height="7.8" rx="0.6" fill="#ffbe00"/>
<rect x="643.15" y="237.35" width="8.1" height="7.8" rx="0.6" fill="#ffbe00"/>
<path d="M639.42 250.68 L639.13 250.11 L638.54 249.54 L637.95 249.25 L636.77 249.25 L636.18 249.54 L635.59 250.11 L635.3 250.68 L635 251.54 L635 252.96 L635.3 253.82 L635.59 254.39 L636.18 254.96 L636.77 255.25 L637.95 255.25 L638.54 254.96 L639.13 254.39 L639.42 253.82 M641.48 250.68 L641.48 250.4 L641.78 249.82 L642.07 249.54 L642.66 249.25 L643.84 249.25 L644.43 249.54 L644.72 249.82 L645.02 250.4 L645.02 250.97 L644.72 251.54 L644.13 252.39 L641.19 255.25 L645.31 255.25 M650.02 249.25 L647.08 253.25 L651.5 253.25 M650.02 249.25 L650.02 255.25" fill="none" stroke="#ffffff" stroke-width="1.12" stroke-linecap="round" stroke-linejoin="round"/>
<rect x="657.75" y="235.75" width="23.75" height="11" fill="none" stroke="#ffffff" stroke-width="1.2"/>
<rect x="659.55" y="237.35" width="8.1" height="7.8" rx="0.6" fill="#ffbe00"/>
<rect x="671.6" y="237.35" width="8.1" height="7.8" rx="0.6" fill="#ffbe00"/>
<path d="M654.27 226.27 L654.27 232.48 M654.27 226.27 L657.14 226.27 L658.1 226.57 L658.41 226.86 L658.73 227.45 L658.73 228.05 L658.41 228.64 L658.1 228.93 L657.14 229.23 L654.27 229.23 M656.5 229.23 L658.73 232.48 M660.96 227.75 L660.96 227.45 L661.28 226.86 L661.6 226.57 L662.24 226.27 L663.51 226.27 L664.15 226.57 L664.47 226.86 L664.79 227.45 L664.79 228.05 L664.47 228.64 L663.83 229.52 L660.64 232.48 L665.11 232.48 M667.65 226.27 L671.16 226.27 L669.25 228.64 L670.2 228.64 L670.84 228.93 L671.16 229.23 L671.48 230.11 L671.48 230.7 L671.16 231.59 L670.52 232.18 L669.57 232.48 L668.61 232.48 L667.65 232.18 L667.34 231.89 L667.02 231.3" fill="none" stroke="#ffffff" stroke-width="1.16" stroke-linecap="round" stroke-linejoin="round"/>
<rect x="657.75" y="252" width="23.75" height="11" fill="none" stroke="#ffffff" stroke-width="1.2"/>
<rect x="659.55" y="253.6" width="8.1" height="7.8" rx="0.6" fill="#ffbe00"/>
<rect x="671.6" y="253.6" width="8.1" height="7.8" rx="0.6" fill="#ffbe00"/>
<path d="M667.99 266.74 L667.99 272.51 M667.99 266.74 L670.78 266.74 L671.71 267.01 L672.03 267.29 L672.34 267.84 L672.34 268.39 L672.03 268.94 L671.71 269.21 L670.78 269.49 L667.99 269.49 M670.16 269.49 L672.34 272.51 M674.51 268.11 L674.51 267.84 L674.82 267.29 L675.13 267.01 L675.75 266.74 L677 266.74 L677.62 267.01 L677.93 267.29 L678.24 267.84 L678.24 268.39 L677.93 268.94 L677.31 269.76 L674.2 272.51 L678.55 272.51 M680.72 268.11 L680.72 267.84 L681.04 267.29 L681.35 267.01 L681.97 266.74 L683.21 266.74 L683.83 267.01 L684.14 267.29 L684.45 267.84 L684.45 268.39 L684.14 268.94 L683.52 269.76 L680.41 272.51 L684.76 272.51" fill="none" stroke="#ffffff" stroke-width="1.08" stroke-linecap="round" stroke-linejoin="round"/>
<rect x="684.5" y="237.4" width="9.3" height="8.6" rx="3" fill="#ffbe00"/>
<circle cx="705.9" cy="233.8" r="4.7" fill="#ffbe00"/>
<rect x="701.9" y="245.2" width="8.6" height="8.6" rx="0.6" fill="#ffbe00"/>
<path d="M699.5 230 L692 230 L692 235.3" fill="none" stroke="#ffffff" stroke-width="1.7" stroke-linejoin="round" stroke-linecap="round"/>
<path d="M692 247.4 L692 253 L699.5 253" fill="none" stroke="#ffffff" stroke-width="1.7" stroke-linejoin="round" stroke-linecap="round"/>
<path d="M695.61 255.54 L695.25 255.68 L694.9 255.96 L694.72 256.24 L694.54 256.65 L694.54 257.35 L694.72 257.76 L694.9 258.04 L695.25 258.32 L695.61 258.46 L696.32 258.46 L696.68 258.32 L697.04 258.04 L697.22 257.76 L697.39 257.35 L697.39 256.65 L697.22 256.24 L697.04 255.96 L696.68 255.68 L696.32 255.54 L695.61 255.54 M696.14 257.9 L697.22 258.74 M700.6 255.54 L698.82 255.54 L698.64 256.79 L698.82 256.65 L699.36 256.51 L699.89 256.51 L700.42 256.65 L700.78 256.93 L700.96 257.35 L700.96 257.63 L700.78 258.04 L700.42 258.32 L699.89 258.46 L699.36 258.46 L698.82 258.32 L698.64 258.18 L698.46 257.9" fill="none" stroke="#ffffff" stroke-width="1.2" stroke-linecap="round" stroke-linejoin="round"/>
<rect x="582.7" y="269.6" width="44.3" height="40.9" fill="none" stroke="#ffffff" stroke-width="1.6"/>
<circle cx="620.25" cy="275.5" r="3.0" fill="#ffffff"/>
<circle cx="625.75" cy="260.75" r="2.3" fill="#ffffff"/>
<rect x="586.2" y="253" width="6.6" height="15" rx="3.3" fill="#ffbe00"/>
<rect x="586.2" y="312" width="6.6" height="14.25" rx="3.3" fill="#ffbe00"/>
<rect x="596.45" y="253" width="6.6" height="15" rx="3.3" fill="#ffbe00"/>
<rect x="596.45" y="312" width="6.6" height="14.25" rx="3.3" fill="#ffbe00"/>
<rect x="606.7" y="253" width="6.6" height="15" rx="3.3" fill="#ffbe00"/>
<rect x="606.7" y="312" width="6.6" height="14.25" rx="3.3" fill="#ffbe00"/>
<rect x="616.95" y="253" width="6.6" height="15" rx="3.3" fill="#ffbe00"/>
<rect x="616.95" y="312" width="6.6" height="14.25" rx="3.3" fill="#ffbe00"/>
<path d="M641.24 260.76 L634.82 260.76 L633.54 261.2 L632.68 262.08 L632.26 263.41 L632.26 264.3 L632.68 265.62 L633.54 266.51 L634.82 266.95 L641.24 266.95 M641.24 276.24 L632.26 271.82 M641.24 270.05 L641.24 276.24" fill="none" stroke="#ffffff" stroke-width="1.68" stroke-linecap="round" stroke-linejoin="round"/>
<rect x="631.5" y="278" width="11.3" height="24" fill="none" stroke="#ffffff" stroke-width="1.2"/>
<rect x="633.1" y="279.8" width="8.1" height="8.1" rx="0.6" fill="#ffbe00"/>
<rect x="633.1" y="292.1" width="8.1" height="8.1" rx="0.6" fill="#ffbe00"/>
<path d="M651.54 286.08 L652.2 285.8 L652.85 285.23 L653.17 284.66 L653.17 283.53 L652.85 282.96 L652.2 282.39 L651.54 282.11 L650.57 281.83 L648.93 281.83 L647.96 282.11 L647.3 282.39 L646.65 282.96 L646.33 283.53 L646.33 284.66 L646.65 285.23 L647.3 285.8 L647.96 286.08 M651.87 288.63 L652.2 289.2 L653.17 290.05 L646.33 290.05 M653.17 294.02 L653.17 297.14 L650.57 295.44 L650.57 296.29 L650.24 296.86 L649.91 297.14 L648.93 297.42 L648.28 297.42 L647.3 297.14 L646.65 296.57 L646.33 295.72 L646.33 294.87 L646.65 294.02 L646.98 293.74 L647.63 293.45" fill="none" stroke="#ffffff" stroke-width="1.28" stroke-linecap="round" stroke-linejoin="round"/>
<rect x="548.75" y="320.2" width="23.75" height="11" fill="none" stroke="#ffffff" stroke-width="1.2"/>
<rect x="550.55" y="321.8" width="8.1" height="7.8" rx="0.6" fill="#ffbe00"/>
<rect x="562.6" y="321.8" width="8.1" height="7.8" rx="0.6" fill="#ffbe00"/>
<path d="M530.33 324.23 L530.33 330.47 M530.33 324.23 L533.07 324.23 L533.98 324.52 L534.28 324.82 L534.59 325.42 L534.59 326.01 L534.28 326.61 L533.98 326.9 L533.07 327.2 L530.33 327.2 M532.46 327.2 L534.59 330.47 M536.72 325.71 L536.72 325.42 L537.03 324.82 L537.33 324.52 L537.94 324.23 L539.16 324.23 L539.77 324.52 L540.07 324.82 L540.37 325.42 L540.37 326.01 L540.07 326.61 L539.46 327.5 L536.42 330.47 L540.68 330.47 M545.55 324.23 L542.51 328.39 L547.07 328.39 M545.55 324.23 L545.55 330.47" fill="none" stroke="#ffffff" stroke-width="1.17" stroke-linecap="round" stroke-linejoin="round"/>
<rect x="548.75" y="335.4" width="23.75" height="11" fill="none" stroke="#ffffff" stroke-width="1.2"/>
<rect x="550.55" y="337" width="8.1" height="7.8" rx="0.6" fill="#ffbe00"/>
<rect x="562.6" y="337" width="8.1" height="7.8" rx="0.6" fill="#ffbe00"/>
<path d="M530.33 337.43 L530.33 343.67 M530.33 337.43 L533.12 337.43 L534.05 337.72 L534.36 338.02 L534.67 338.62 L534.67 339.21 L534.36 339.81 L534.05 340.1 L533.12 340.4 L530.33 340.4 M532.5 340.4 L534.67 343.67 M536.84 338.91 L536.84 338.62 L537.15 338.02 L537.46 337.72 L538.08 337.43 L539.32 337.43 L539.94 337.72 L540.25 338.02 L540.56 338.62 L540.56 339.21 L540.25 339.81 L539.63 340.7 L536.53 343.67 L540.87 343.67 M546.45 337.43 L543.35 337.43 L543.04 340.1 L543.35 339.81 L544.28 339.51 L545.21 339.51 L546.14 339.81 L546.76 340.4 L547.07 341.29 L547.07 341.89 L546.76 342.78 L546.14 343.38 L545.21 343.67 L544.28 343.67 L543.35 343.38 L543.04 343.08 L542.73 342.48" fill="none" stroke="#ffffff" stroke-width="1.17" stroke-linecap="round" stroke-linejoin="round"/>
<path d="M539.34 348.09 L539.34 355.16 M539.34 355.16 L543.28 355.16 M549.52 349.78 L549.19 349.1 L548.53 348.43 L547.88 348.09 L546.56 348.09 L545.91 348.43 L545.25 349.1 L544.92 349.78 L544.59 350.78 L544.59 352.47 L544.92 353.47 L545.25 354.15 L545.91 354.82 L546.56 355.16 L547.88 355.16 L548.53 354.82 L549.19 354.15 L549.52 353.47 M551.81 348.09 L551.81 355.16 M551.81 348.09 L554.11 348.09 L555.09 348.43 L555.75 349.1 L556.08 349.78 L556.41 350.78 L556.41 352.47 L556.08 353.47 L555.75 354.15 L555.09 354.82 L554.11 355.16 L551.81 355.16" fill="none" stroke="#e6efe0" stroke-width="1.32" stroke-linecap="round" stroke-linejoin="round"/>
<circle cx="683.7" cy="335.75" r="24.6" fill="none" stroke="#fff" stroke-width="1.3"/>
<circle cx="683.7" cy="335.75" r="21.6" fill="none" stroke="#fff" stroke-width="1.3"/>
<rect x="671.8" y="308.15" width="23.9" height="13.2" rx="5" fill="#1d8014"/>
<rect x="671.8" y="329.15" width="23.9" height="13.2" rx="5" fill="#1d8014"/>
<rect x="671.8" y="349.9" width="23.9" height="13.2" rx="5" fill="#1d8014"/>
<rect x="672.6" y="308.95" width="22.3" height="11.6" rx="4" fill="#ffbe00"/>
<circle cx="683.75" cy="314.75" r="2.6" fill="#000"/>
<rect x="672.6" y="329.95" width="22.3" height="11.6" rx="6" fill="#ffbe00"/>
<circle cx="683.75" cy="335.75" r="2.6" fill="#000"/>
<rect x="672.6" y="350.7" width="22.3" height="11.6" rx="4" fill="#ffbe00"/>
<circle cx="683.75" cy="356.5" r="2.6" fill="#000"/>
<path d="M712.26 343.74 L721.24 343.74 M721.24 343.74 L721.24 337.61 M712.26 335.06 L721.24 335.06 M712.26 335.06 L712.26 331.48 L712.68 329.95 L713.54 328.93 L714.4 328.42 L715.68 327.91 L717.82 327.91 L719.1 328.42 L719.96 328.93 L720.82 329.95 L721.24 331.48 L721.24 335.06 M713.97 323.31 L713.54 322.29 L712.26 320.76 L721.24 320.76" fill="none" stroke="#ffffff" stroke-width="1.68" stroke-linecap="round" stroke-linejoin="round"/>
<rect x="342.4" y="356.25" width="6.2" height="15" rx="0.5" fill="#ffbe00"/>
<rect x="334.4" y="385.5" width="6.2" height="13.75" rx="0.5" fill="#ffbe00"/>
<rect x="358.65" y="356.25" width="6.2" height="15" rx="0.5" fill="#ffbe00"/>
<rect x="350.65" y="385.5" width="6.2" height="13.75" rx="0.5" fill="#ffbe00"/>
<rect x="374.9" y="356.25" width="6.2" height="15" rx="0.5" fill="#ffbe00"/>
<rect x="366.9" y="385.5" width="6.2" height="13.75" rx="0.5" fill="#ffbe00"/>
<rect x="391.15" y="356.25" width="6.2" height="15" rx="0.5" fill="#ffbe00"/>
<rect x="383.15" y="385.5" width="6.2" height="13.75" rx="0.5" fill="#ffbe00"/>
<rect x="407.4" y="356.25" width="6.2" height="15" rx="0.5" fill="#ffbe00"/>
<rect x="399.4" y="385.5" width="6.2" height="13.75" rx="0.5" fill="#ffbe00"/>
<rect x="423.65" y="356.25" width="6.2" height="15" rx="0.5" fill="#ffbe00"/>
<rect x="415.65" y="385.5" width="6.2" height="13.75" rx="0.5" fill="#ffbe00"/>
<rect x="439.9" y="356.25" width="6.2" height="15" rx="0.5" fill="#ffbe00"/>
<rect x="431.9" y="385.5" width="6.2" height="13.75" rx="0.5" fill="#ffbe00"/>
<rect x="456.15" y="356.25" width="6.2" height="15" rx="0.5" fill="#ffbe00"/>
<rect x="448.15" y="385.5" width="6.2" height="13.75" rx="0.5" fill="#ffbe00"/>
<rect x="472.4" y="356.25" width="6.2" height="15" rx="0.5" fill="#ffbe00"/>
<rect x="464.4" y="385.5" width="6.2" height="13.75" rx="0.5" fill="#ffbe00"/>
<rect x="488.65" y="356.25" width="6.2" height="15" rx="0.5" fill="#ffbe00"/>
<rect x="480.65" y="385.5" width="6.2" height="13.75" rx="0.5" fill="#ffbe00"/>
<rect x="504.9" y="356.25" width="6.2" height="15" rx="0.5" fill="#ffbe00"/>
<rect x="496.9" y="385.5" width="6.2" height="13.75" rx="0.5" fill="#ffbe00"/>
<rect x="521.15" y="356.25" width="6.2" height="15" rx="0.5" fill="#ffbe00"/>
<rect x="513.15" y="385.5" width="6.2" height="13.75" rx="0.5" fill="#ffbe00"/>
<rect x="326.75" y="355" width="5.75" height="45.75" rx="0.5" fill="#ffbe00"/>
<rect x="529.25" y="355" width="5.75" height="45.75" rx="0.5" fill="#ffbe00"/>
<path d="M340 365.75 L313.75 365.75 L306.75 372.5 L306.75 390 L326.75 390" fill="none" stroke="#ffffff" stroke-width="1.5" stroke-linejoin="round" stroke-linecap="round"/>
<path d="M535 365.5 L555 365.5 L555 390 L521.25 390" fill="none" stroke="#ffffff" stroke-width="1.5" stroke-linejoin="round" stroke-linecap="round"/>
<circle cx="337.5" cy="402.5" r="2.0" fill="#ffffff"/>
<rect x="332" y="407.5" width="11.5" height="23.75" fill="none" stroke="#ffffff" stroke-width="1.2"/>
<rect x="333.6" y="409.3" width="8.3" height="8.1" rx="0.6" fill="#ffbe00"/>
<rect x="333.6" y="421.35" width="8.3" height="8.1" rx="0.6" fill="#ffbe00"/>
<path d="M334.15 442.7 L341.35 442.7 M334.15 442.7 L334.15 440.1 L334.5 439.24 L334.84 438.95 L335.52 438.66 L336.21 438.66 L336.89 438.95 L337.24 439.24 L337.58 440.1 L337.58 442.7 M337.58 440.68 L341.35 438.66 M334.15 436.36 L334.15 433.19 L336.89 434.92 L336.89 434.06 L337.24 433.48 L337.58 433.19 L338.61 432.9 L339.29 432.9 L340.32 433.19 L341 433.77 L341.35 434.63 L341.35 435.5 L341 436.36 L340.66 436.65 L339.98 436.94" fill="none" stroke="#ffffff" stroke-width="1.34" stroke-linecap="round" stroke-linejoin="round"/>
<rect x="348" y="407.5" width="11.5" height="23.75" fill="none" stroke="#ffffff" stroke-width="1.2"/>
<rect x="349.6" y="409.3" width="8.3" height="8.1" rx="0.6" fill="#ffbe00"/>
<rect x="349.6" y="421.35" width="8.3" height="8.1" rx="0.6" fill="#ffbe00"/>
<path d="M350.15 442.7 L357.35 442.7 M350.15 442.7 L350.15 440.18 L350.5 439.34 L350.84 439.06 L351.52 438.78 L352.21 438.78 L352.89 439.06 L353.24 439.34 L353.58 440.18 L353.58 442.7 M353.58 440.74 L357.35 438.78 M350.15 434.3 L354.95 437.1 L354.95 432.9 M350.15 434.3 L357.35 434.3" fill="none" stroke="#ffffff" stroke-width="1.34" stroke-linecap="round" stroke-linejoin="round"/>
<rect x="364.25" y="407.5" width="11.5" height="23.75" fill="none" stroke="#ffffff" stroke-width="1.2"/>
<rect x="365.85" y="409.3" width="8.3" height="8.1" rx="0.6" fill="#ffbe00"/>
<rect x="365.85" y="421.35" width="8.3" height="8.1" rx="0.6" fill="#ffbe00"/>
<path d="M366.4 442.7 L373.6 442.7 M366.4 442.7 L366.4 440.1 L366.75 439.24 L367.09 438.95 L367.77 438.66 L368.46 438.66 L369.14 438.95 L369.49 439.24 L369.83 440.1 L369.83 442.7 M369.83 440.68 L373.6 438.66 M366.4 433.48 L366.4 436.36 L369.49 436.65 L369.14 436.36 L368.8 435.5 L368.8 434.63 L369.14 433.77 L369.83 433.19 L370.86 432.9 L371.54 432.9 L372.57 433.19 L373.25 433.77 L373.6 434.63 L373.6 435.5 L373.25 436.36 L372.91 436.65 L372.23 436.94" fill="none" stroke="#ffffff" stroke-width="1.34" stroke-linecap="round" stroke-linejoin="round"/>
<rect x="384.5" y="407.5" width="11.5" height="23.75" fill="none" stroke="#ffffff" stroke-width="1.2"/>
<rect x="386.1" y="409.3" width="8.3" height="8.1" rx="0.6" fill="#ffbe00"/>
<rect x="386.1" y="421.35" width="8.3" height="8.1" rx="0.6" fill="#ffbe00"/>
<path d="M386.65 442.7 L393.85 442.7 M386.65 442.7 L386.65 440.1 L387 439.24 L387.34 438.95 L388.02 438.66 L388.71 438.66 L389.39 438.95 L389.74 439.24 L390.08 440.1 L390.08 442.7 M390.08 440.68 L393.85 438.66 M387.68 433.19 L387 433.48 L386.65 434.34 L386.65 434.92 L387 435.78 L388.02 436.36 L389.74 436.65 L391.45 436.65 L392.82 436.36 L393.5 435.78 L393.85 434.92 L393.85 434.63 L393.5 433.77 L392.82 433.19 L391.79 432.9 L391.45 432.9 L390.42 433.19 L389.74 433.77 L389.39 434.63 L389.39 434.92 L389.74 435.78 L390.42 436.36 L391.45 436.65" fill="none" stroke="#ffffff" stroke-width="1.34" stroke-linecap="round" stroke-linejoin="round"/>
<rect x="400.75" y="407.5" width="11.5" height="23.75" fill="none" stroke="#ffffff" stroke-width="1.2"/>
<rect x="402.35" y="409.3" width="8.3" height="8.1" rx="0.6" fill="#ffbe00"/>
<rect x="402.35" y="421.35" width="8.3" height="8.1" rx="0.6" fill="#ffbe00"/>
<path d="M402.9 442.7 L410.1 442.7 M402.9 442.7 L402.9 440.1 L403.25 439.24 L403.59 438.95 L404.27 438.66 L404.96 438.66 L405.64 438.95 L405.99 439.24 L406.33 440.1 L406.33 442.7 M406.33 440.68 L410.1 438.66 M402.9 432.9 L410.1 435.78 M402.9 436.94 L402.9 432.9" fill="none" stroke="#ffffff" stroke-width="1.34" stroke-linecap="round" stroke-linejoin="round"/>
<rect x="421" y="407.5" width="11.5" height="23.75" fill="none" stroke="#ffffff" stroke-width="1.2"/>
<rect x="422.6" y="409.3" width="8.3" height="8.1" rx="0.6" fill="#ffbe00"/>
<rect x="422.6" y="421.35" width="8.3" height="8.1" rx="0.6" fill="#ffbe00"/>
<path d="M423.15 442.7 L430.35 442.7 M423.15 442.7 L423.15 440.1 L423.5 439.24 L423.84 438.95 L424.52 438.66 L425.21 438.66 L425.89 438.95 L426.24 439.24 L426.58 440.1 L426.58 442.7 M426.58 440.68 L430.35 438.66 M423.15 435.5 L423.5 436.36 L424.18 436.65 L424.87 436.65 L425.55 436.36 L425.89 435.78 L426.24 434.63 L426.58 433.77 L427.26 433.19 L427.95 432.9 L428.98 432.9 L429.66 433.19 L430 433.48 L430.35 434.34 L430.35 435.5 L430 436.36 L429.66 436.65 L428.98 436.94 L427.95 436.94 L427.26 436.65 L426.58 436.07 L426.24 435.21 L425.89 434.06 L425.55 433.48 L424.87 433.19 L424.18 433.19 L423.5 433.48 L423.15 434.34 L423.15 435.5" fill="none" stroke="#ffffff" stroke-width="1.34" stroke-linecap="round" stroke-linejoin="round"/>
<rect x="437" y="407.5" width="11.5" height="23.75" fill="none" stroke="#ffffff" stroke-width="1.2"/>
<rect x="438.6" y="409.3" width="8.3" height="8.1" rx="0.6" fill="#ffbe00"/>
<rect x="438.6" y="421.35" width="8.3" height="8.1" rx="0.6" fill="#ffbe00"/>
<path d="M439.15 442.7 L446.35 442.7 M439.15 442.7 L439.15 440.03 L439.5 439.14 L439.84 438.84 L440.52 438.54 L441.21 438.54 L441.89 438.84 L442.24 439.14 L442.58 440.03 L442.58 442.7 M442.58 440.62 L446.35 438.54 M441.55 432.9 L442.58 433.2 L443.26 433.79 L443.61 434.68 L443.61 434.98 L443.26 435.87 L442.58 436.46 L441.55 436.76 L441.21 436.76 L440.18 436.46 L439.5 435.87 L439.15 434.98 L439.15 434.68 L439.5 433.79 L440.18 433.2 L441.55 432.9 L443.26 432.9 L444.98 433.2 L446 433.79 L446.35 434.68 L446.35 435.28 L446 436.17 L445.32 436.46" fill="none" stroke="#ffffff" stroke-width="1.34" stroke-linecap="round" stroke-linejoin="round"/>
<rect x="311.75" y="407.5" width="11.5" height="23.75" fill="none" stroke="#ffffff" stroke-width="1.2"/>
<rect x="313.35" y="409.3" width="8.3" height="8.1" rx="0.6" fill="#ffbe00"/>
<rect x="313.35" y="421.35" width="8.3" height="8.1" rx="0.6" fill="#ffbe00"/>
<path d="M308.5 433.5 L308.5 439.5 M308.5 433.5 L311.24 433.5 L312.16 433.79 L312.46 434.07 L312.77 434.65 L312.77 435.22 L312.46 435.79 L312.16 436.07 L311.24 436.36 L308.5 436.36 M310.63 436.36 L312.77 439.5 M315.51 434.65 L316.11 434.36 L317.03 433.5 L317.03 439.5 M323.72 433.5 L320.68 437.5 L325.25 437.5 M323.72 433.5 L323.72 439.5" fill="none" stroke="#ffffff" stroke-width="1.12" stroke-linecap="round" stroke-linejoin="round"/>
<rect x="459.6" y="407.5" width="11.5" height="23.75" fill="none" stroke="#ffffff" stroke-width="1.2"/>
<rect x="461.2" y="409.3" width="8.3" height="8.1" rx="0.6" fill="#ffbe00"/>
<rect x="461.2" y="421.35" width="8.3" height="8.1" rx="0.6" fill="#ffbe00"/>
<path d="M474.29 428.96 L480.71 428.96 M474.29 428.96 L474.29 426.01 L474.6 425.03 L474.9 424.71 L475.51 424.38 L476.12 424.38 L476.74 424.71 L477.04 425.03 L477.35 426.01 L477.35 428.96 M477.35 426.67 L480.71 424.38 M475.51 421.43 L475.21 420.78 L474.29 419.8 L480.71 419.8 M474.29 413.91 L474.6 414.89 L475.51 415.54 L477.04 415.87 L477.96 415.87 L479.49 415.54 L480.4 414.89 L480.71 413.91 L480.71 413.25 L480.4 412.27 L479.49 411.62 L477.96 411.29 L477.04 411.29 L475.51 411.62 L474.6 412.27 L474.29 413.25 L474.29 413.91 M479.49 415.22 L475.51 411.94" fill="none" stroke="#ffffff" stroke-width="1.2" stroke-linecap="round" stroke-linejoin="round"/>
<rect x="483.75" y="407.5" width="11.5" height="23.75" fill="none" stroke="#ffffff" stroke-width="1.2"/>
<rect x="485.35" y="409.3" width="8.3" height="8.1" rx="0.6" fill="#ffbe00"/>
<rect x="485.35" y="421.35" width="8.3" height="8.1" rx="0.6" fill="#ffbe00"/>
<path d="M484.24 400.49 L484.24 406.26 M484.24 400.49 L487.38 400.49 L488.43 400.76 L488.78 401.04 L489.12 401.59 L489.12 402.14 L488.78 402.69 L488.43 402.96 L487.38 403.24 L484.24 403.24 M486.68 403.24 L489.12 406.26 M492.27 401.59 L492.97 401.31 L494.01 400.49 L494.01 406.26" fill="none" stroke="#ffffff" stroke-width="1.08" stroke-linecap="round" stroke-linejoin="round"/>
<rect x="532.5" y="407.5" width="11.5" height="23.75" fill="none" stroke="#ffffff" stroke-width="1.2"/>
<rect x="534.1" y="409.3" width="8.3" height="8.1" rx="0.6" fill="#ffbe00"/>
<rect x="534.1" y="421.35" width="8.3" height="8.1" rx="0.6" fill="#ffbe00"/>
<path d="M547.31 422.44 L553.94 422.44 M547.31 422.44 L547.31 419.63 L547.62 418.69 L547.94 418.38 L548.57 418.06 L549.2 418.06 L549.84 418.38 L550.15 418.69 L550.47 419.63 L550.47 422.44 M550.47 420.25 L553.94 418.06 M548.89 415.87 L548.57 415.87 L547.94 415.56 L547.62 415.25 L547.31 414.62 L547.31 413.37 L547.62 412.75 L547.94 412.43 L548.57 412.12 L549.2 412.12 L549.84 412.43 L550.78 413.06 L553.94 416.19 L553.94 411.81" fill="none" stroke="#ffffff" stroke-width="1.24" stroke-linecap="round" stroke-linejoin="round"/>
<circle cx="502" cy="411.25" r="4.5" fill="#ffbe00"/>
<rect x="513.75" y="407" width="8" height="8" rx="0.6" fill="#ffbe00"/>
<rect x="505.75" y="424.25" width="8" height="8.25" rx="0.6" fill="#ffbe00"/>
<path d="M498.25 418 L498.25 425 L503.75 425" fill="none" stroke="#ffffff" stroke-width="1.6" stroke-linejoin="round" stroke-linecap="round"/>
<path d="M520.75 418 L520.75 425 L515.5 425" fill="none" stroke="#ffffff" stroke-width="1.6" stroke-linejoin="round" stroke-linecap="round"/>
<path d="M524.54 421.28 L524.7 421.67 L525.03 422.07 L525.35 422.26 L525.84 422.46 L526.66 422.46 L527.15 422.26 L527.47 422.07 L527.8 421.67 L527.96 421.28 L527.96 420.49 L527.8 420.09 L527.47 419.7 L527.15 419.5 L526.66 419.3 L525.84 419.3 L525.35 419.5 L525.03 419.7 L524.7 420.09 L524.54 420.49 L524.54 421.28 M527.31 420.68 L528.29 419.5 M525.19 417.53 L525.03 417.13 L524.54 416.54 L527.96 416.54" fill="none" stroke="#ffffff" stroke-width="1.2" stroke-linecap="round" stroke-linejoin="round"/>
<path d="M480.47 437.17 L480.11 436.57 L479.41 435.98 L478.7 435.68 L477.3 435.68 L476.59 435.98 L475.89 436.57 L475.54 437.17 L475.18 438.06 L475.18 439.54 L475.54 440.43 L475.89 441.03 L476.59 441.62 L477.3 441.92 L478.7 441.92 L479.41 441.62 L480.11 441.03 L480.47 440.43 M484.34 437.76 L483.63 438.06 L482.93 438.65 L482.58 439.54 L482.58 440.14 L482.93 441.03 L483.63 441.62 L484.34 441.92 L485.39 441.92 L486.1 441.62 L486.8 441.03 L487.15 440.14 L487.15 439.54 L486.8 438.65 L486.1 438.06 L485.39 437.76 L484.34 437.76 M489.62 437.76 L489.62 443.99 M489.62 438.65 L490.32 438.06 L491.03 437.76 L492.08 437.76 L492.79 438.06 L493.49 438.65 L493.84 439.54 L493.84 440.14 L493.49 441.03 L492.79 441.62 L492.08 441.92 L491.03 441.92 L490.32 441.62 L489.62 441.03 M495.6 437.76 L497.72 441.92 M499.83 437.76 L497.72 441.92 L497.01 443.1 L496.31 443.7 L495.6 443.99 L495.25 443.99 M501.94 437.76 L501.94 441.92 M501.94 439.54 L502.29 438.65 L503 438.06 L503.7 437.76 L504.76 437.76 M506.17 435.68 L506.52 435.98 L506.87 435.68 L506.52 435.39 L506.17 435.68 M506.52 437.76 L506.52 441.92 M513.21 437.76 L513.21 442.51 L512.86 443.4 L512.5 443.7 L511.8 443.99 L510.74 443.99 L510.04 443.7 M513.21 438.65 L512.5 438.06 L511.8 437.76 L510.74 437.76 L510.04 438.06 L509.34 438.65 L508.98 439.54 L508.98 440.14 L509.34 441.03 L510.04 441.62 L510.74 441.92 L511.8 441.92 L512.5 441.62 L513.21 441.03 M516.02 435.68 L516.02 441.92 M516.02 438.95 L517.08 438.06 L517.79 437.76 L518.84 437.76 L519.55 438.06 L519.9 438.95 L519.9 441.92 M523.07 435.68 L523.07 440.73 L523.42 441.62 L524.12 441.92 L524.83 441.92 M522.01 437.76 L524.47 437.76 M531.52 435.68 L534.33 441.92 M537.15 435.68 L534.33 441.92 M538.56 435.68 L538.91 435.98 L539.26 435.68 L538.91 435.39 L538.56 435.68 M538.91 437.76 L538.91 441.92 M545.6 437.76 L545.6 441.92 M545.6 438.65 L544.89 438.06 L544.19 437.76 L543.13 437.76 L542.43 438.06 L541.73 438.65 L541.37 439.54 L541.37 440.14 L541.73 441.03 L542.43 441.62 L543.13 441.92 L544.19 441.92 L544.89 441.62 L545.6 441.03 M548.06 439.54 L552.29 439.54 L552.29 438.95 L551.94 438.35 L551.58 438.06 L550.88 437.76 L549.82 437.76 L549.12 438.06 L548.42 438.65 L548.06 439.54 L548.06 440.14 L548.42 441.03 L549.12 441.62 L549.82 441.92 L550.88 441.92 L551.58 441.62 L552.29 441.03 M558.27 438.65 L557.92 438.06 L556.87 437.76 L555.81 437.76 L554.75 438.06 L554.4 438.65 L554.75 439.25 L555.46 439.54 L557.22 439.84 L557.92 440.14 L558.27 440.73 L558.27 441.03 L557.92 441.62 L556.87 441.92 L555.81 441.92 L554.75 441.62 L554.4 441.03 M560.03 437.76 L562.15 441.92 M564.26 437.76 L562.15 441.92 L561.44 443.1 L560.74 443.7 L560.03 443.99 L559.68 443.99 M569.89 438.65 L569.54 438.06 L568.48 437.76 L567.43 437.76 L566.37 438.06 L566.02 438.65 L566.37 439.25 L567.08 439.54 L568.84 439.84 L569.54 440.14 L569.89 440.73 L569.89 441.03 L569.54 441.62 L568.48 441.92 L567.43 441.92 L566.37 441.62 L566.02 441.03 M577.99 435.68 L577.99 441.92 M580.81 437.76 L580.81 441.92 M580.81 438.95 L581.86 438.06 L582.57 437.76 L583.62 437.76 L584.33 438.06 L584.68 438.95 L584.68 441.92 M591.37 438.65 L590.66 438.06 L589.96 437.76 L588.9 437.76 L588.2 438.06 L587.5 438.65 L587.14 439.54 L587.14 440.14 L587.5 441.03 L588.2 441.62 L588.9 441.92 L589.96 441.92 L590.66 441.62 L591.37 441.03 M599.47 437.17 L599.47 436.87 L599.82 436.28 L600.17 435.98 L600.87 435.68 L602.28 435.68 L602.99 435.98 L603.34 436.28 L603.69 436.87 L603.69 437.46 L603.34 438.06 L602.64 438.95 L599.11 441.92 L604.04 441.92 M608.27 435.68 L607.21 435.98 L606.51 436.87 L606.16 438.35 L606.16 439.25 L606.51 440.73 L607.21 441.62 L608.27 441.92 L608.97 441.92 L610.03 441.62 L610.73 440.73 L611.09 439.25 L611.09 438.35 L610.73 436.87 L610.03 435.98 L608.97 435.68 L608.27 435.68 M606.86 440.73 L610.38 436.87 M614.25 436.87 L614.96 436.57 L616.01 435.68 L616.01 441.92 M624.82 437.76 L624.46 438.65 L623.76 439.25 L622.7 439.54 L622.35 439.54 L621.3 439.25 L620.59 438.65 L620.24 437.76 L620.24 437.46 L620.59 436.57 L621.3 435.98 L622.35 435.68 L622.7 435.68 L623.76 435.98 L624.46 436.57 L624.82 437.76 L624.82 439.25 L624.46 440.73 L623.76 441.62 L622.7 441.92 L622 441.92 L620.94 441.62 L620.59 441.03" fill="none" stroke="#ffffff" stroke-width="1.52" stroke-linecap="round" stroke-linejoin="round"/>
<rect x="191" y="361.75" width="9.25" height="9.5" rx="0.6" fill="#ffbe00"/>
<rect x="191" y="375" width="9.25" height="9.5" rx="0.6" fill="#ffbe00"/>
<path d="M190.79 352.54 L190.79 355.71 M190.79 352.54 L193.4 352.54 M190.79 354.05 L192.39 354.05 M194.4 352.54 L194.4 355.71 M194.4 352.54 L196.2 352.54 L196.8 352.69 L197 352.84 L197.2 353.14 L197.2 353.45 L197 353.75 L196.8 353.9 L196.2 354.05 M194.4 354.05 L196.2 354.05 L196.8 354.2 L197 354.35 L197.2 354.65 L197.2 355.11 L197 355.41 L196.8 355.56 L196.2 355.71 L194.4 355.71 M198.81 352.54 L201.01 352.54 L199.81 353.75 L200.41 353.75 L200.81 353.9 L201.01 354.05 L201.21 354.5 L201.21 354.8 L201.01 355.26 L200.61 355.56 L200.01 355.71 L199.41 355.71 L198.81 355.56 L198.6 355.41 L198.4 355.11" fill="none" stroke="#ffffff" stroke-width="1.2" stroke-linecap="round" stroke-linejoin="round"/>
<rect x="204.25" y="361.25" width="11.5" height="23.75" fill="none" stroke="#ffffff" stroke-width="1.2"/>
<rect x="205.85" y="363.05" width="8.3" height="8.1" rx="0.6" fill="#ffbe00"/>
<rect x="205.85" y="375.1" width="8.3" height="8.1" rx="0.6" fill="#ffbe00"/>
<path d="M206.75 359.45 L213.25 359.45 M206.75 359.45 L206.75 356.58 L207.06 355.63 L207.37 355.31 L207.99 354.99 L208.61 354.99 L209.23 355.31 L209.54 355.63 L209.85 356.58 L209.85 359.45 M209.85 357.22 L213.25 354.99 M207.99 352.12 L207.68 351.48 L206.75 350.52 L213.25 350.52 M208.92 342.55 L209.85 342.87 L210.46 343.5 L210.77 344.46 L210.77 344.78 L210.46 345.74 L209.85 346.37 L208.92 346.69 L208.61 346.69 L207.68 346.37 L207.06 345.74 L206.75 344.78 L206.75 344.46 L207.06 343.5 L207.68 342.87 L208.92 342.55 L210.46 342.55 L212.01 342.87 L212.94 343.5 L213.25 344.46 L213.25 345.1 L212.94 346.06 L212.32 346.37" fill="none" stroke="#ffffff" stroke-width="1.22" stroke-linecap="round" stroke-linejoin="round"/>
<rect x="218" y="361.25" width="11.5" height="23.75" fill="none" stroke="#ffffff" stroke-width="1.2"/>
<rect x="219.6" y="363.05" width="8.3" height="8.1" rx="0.6" fill="#ffbe00"/>
<rect x="219.6" y="375.1" width="8.3" height="8.1" rx="0.6" fill="#ffbe00"/>
<path d="M220.5 359.45 L227 359.45 M220.5 359.45 L220.5 356.64 L220.81 355.7 L221.12 355.38 L221.74 355.07 L222.36 355.07 L222.98 355.38 L223.29 355.7 L223.6 356.64 L223.6 359.45 M223.6 357.26 L227 355.07 M221.74 352.25 L221.43 351.63 L220.5 350.69 L227 350.69 M220.5 345.36 L220.81 346.3 L221.43 346.62 L222.05 346.62 L222.67 346.3 L222.98 345.68 L223.29 344.43 L223.6 343.49 L224.21 342.86 L224.83 342.55 L225.76 342.55 L226.38 342.86 L226.69 343.17 L227 344.11 L227 345.36 L226.69 346.3 L226.38 346.62 L225.76 346.93 L224.83 346.93 L224.21 346.62 L223.6 345.99 L223.29 345.05 L222.98 343.8 L222.67 343.17 L222.05 342.86 L221.43 342.86 L220.81 343.17 L220.5 344.11 L220.5 345.36" fill="none" stroke="#ffffff" stroke-width="1.22" stroke-linecap="round" stroke-linejoin="round"/>
<rect x="232.25" y="361.25" width="11.5" height="23.75" fill="none" stroke="#ffffff" stroke-width="1.2"/>
<rect x="233.85" y="363.05" width="8.3" height="8.1" rx="0.6" fill="#ffbe00"/>
<rect x="233.85" y="375.1" width="8.3" height="8.1" rx="0.6" fill="#ffbe00"/>
<path d="M236.3 354.84 L235.68 355.15 L235.06 355.76 L234.75 356.38 L234.75 357.61 L235.06 358.22 L235.68 358.84 L236.3 359.15 L237.23 359.45 L238.77 359.45 L239.7 359.15 L240.32 358.84 L240.94 358.22 L241.25 357.61 L241.25 356.38 L240.94 355.76 L240.32 355.15 L239.7 354.84 M235.99 352.08 L235.68 351.46 L234.75 350.54 L241.25 350.54 M235.68 342.85 L235.06 343.16 L234.75 344.08 L234.75 344.7 L235.06 345.62 L235.99 346.24 L237.54 346.54 L239.08 346.54 L240.32 346.24 L240.94 345.62 L241.25 344.7 L241.25 344.39 L240.94 343.47 L240.32 342.85 L239.39 342.55 L239.08 342.55 L238.15 342.85 L237.54 343.47 L237.23 344.39 L237.23 344.7 L237.54 345.62 L238.15 346.24 L239.08 346.54" fill="none" stroke="#ffffff" stroke-width="1.22" stroke-linecap="round" stroke-linejoin="round"/>
<rect x="246" y="358.75" width="13.25" height="28.75" rx="2" fill="none" stroke="#fff" stroke-width="1.2"/>
<rect x="249.2" y="353" width="6.85" height="10.2" rx="0.6" fill="#ffbe00"/>
<rect x="249.2" y="382.3" width="6.85" height="10.2" rx="0.6" fill="#ffbe00"/>
<path d="M251.49 344.99 L251.49 350.76 M251.49 344.99 L253.5 344.99 L254.36 345.26 L254.94 345.81 L255.22 346.36 L255.51 347.19 L255.51 348.56 L255.22 349.39 L254.94 349.94 L254.36 350.49 L253.5 350.76 L251.49 350.76 M257.81 344.99 L260.98 344.99 L259.25 347.19 L260.11 347.19 L260.69 347.46 L260.98 347.74 L261.26 348.56 L261.26 349.11 L260.98 349.94 L260.4 350.49 L259.54 350.76 L258.68 350.76 L257.81 350.49 L257.53 350.21 L257.24 349.66" fill="none" stroke="#ffffff" stroke-width="1.08" stroke-linecap="round" stroke-linejoin="round"/>
<rect x="260.5" y="361.25" width="8.5" height="8.25" rx="0.6" fill="#ffbe00"/>
<circle cx="264.75" cy="380.75" r="4.5" fill="#ffbe00"/>
<rect x="277.75" y="369.25" width="8.25" height="8.25" rx="0.6" fill="#ffbe00"/>
<path d="M271.5 361.75 L279 361.75 L279 367.5" fill="none" stroke="#ffffff" stroke-width="1.6" stroke-linejoin="round" stroke-linecap="round"/>
<path d="M271.5 384.25 L279 384.25 L279 378.75" fill="none" stroke="#ffffff" stroke-width="1.6" stroke-linejoin="round" stroke-linecap="round"/>
<path d="M281.54 383.42 L281.7 383.77 L282.03 384.11 L282.35 384.29 L282.84 384.46 L283.66 384.46 L284.15 384.29 L284.47 384.11 L284.8 383.77 L284.96 383.42 L284.96 382.72 L284.8 382.38 L284.47 382.03 L284.15 381.86 L283.66 381.68 L282.84 381.68 L282.35 381.86 L282.03 382.03 L281.7 382.38 L281.54 382.72 L281.54 383.42 M284.31 382.9 L285.29 381.86 M281.54 378.91 L283.82 380.64 L283.82 378.04 M281.54 378.91 L284.96 378.91" fill="none" stroke="#ffffff" stroke-width="1.2" stroke-linecap="round" stroke-linejoin="round"/>
<rect x="261" y="345.3" width="23.75" height="11" fill="none" stroke="#ffffff" stroke-width="1.2"/>
<rect x="262.8" y="346.9" width="8.1" height="7.8" rx="0.6" fill="#ffbe00"/>
<rect x="274.85" y="346.9" width="8.1" height="7.8" rx="0.6" fill="#ffbe00"/>
<path d="M287.79 361.96 L294.21 361.96 M287.79 361.96 L287.79 359.31 L288.1 358.42 L288.4 358.13 L289.01 357.83 L289.62 357.83 L290.24 358.13 L290.54 358.42 L290.85 359.31 L290.85 361.96 M290.85 359.9 L294.21 357.83 M289.32 355.77 L289.01 355.77 L288.4 355.47 L288.1 355.18 L287.79 354.59 L287.79 353.41 L288.1 352.82 L288.4 352.53 L289.01 352.23 L289.62 352.23 L290.24 352.53 L291.15 353.12 L294.21 356.06 L294.21 351.94 M287.79 348.4 L288.1 349.28 L289.01 349.87 L290.54 350.17 L291.46 350.17 L292.99 349.87 L293.9 349.28 L294.21 348.4 L294.21 347.81 L293.9 346.92 L292.99 346.33 L291.46 346.04 L290.54 346.04 L289.01 346.33 L288.1 346.92 L287.79 347.81 L287.79 348.4 M292.99 349.58 L289.01 346.63" fill="none" stroke="#ffffff" stroke-width="1.2" stroke-linecap="round" stroke-linejoin="round"/>
<rect x="128.5" y="378.25" width="10" height="9.75" rx="0.6" fill="#ffbe00"/>
<rect x="142.25" y="378.25" width="10" height="9.75" rx="0.6" fill="#ffbe00"/>
<path d="M135.29 372.29 L135.29 375.71 M135.29 372.29 L137.83 372.29 M135.29 373.92 L136.85 373.92 M138.81 372.29 L138.81 375.71 M138.81 372.29 L140.57 372.29 L141.16 372.45 L141.35 372.62 L141.55 372.94 L141.55 373.27 L141.35 373.59 L141.16 373.76 L140.57 373.92 M138.81 373.92 L140.57 373.92 L141.16 374.08 L141.35 374.24 L141.55 374.57 L141.55 375.06 L141.35 375.38 L141.16 375.55 L140.57 375.71 L138.81 375.71 M142.92 373.1 L142.92 372.94 L143.11 372.62 L143.31 372.45 L143.7 372.29 L144.48 372.29 L144.87 372.45 L145.07 372.62 L145.26 372.94 L145.26 373.27 L145.07 373.59 L144.68 374.08 L142.72 375.71 L145.46 375.71" fill="none" stroke="#ffffff" stroke-width="1.2" stroke-linecap="round" stroke-linejoin="round"/>
<rect x="127.75" y="393.75" width="23.75" height="11" fill="none" stroke="#ffffff" stroke-width="1.2"/>
<rect x="129.55" y="395.35" width="8.1" height="7.8" rx="0.6" fill="#ffbe00"/>
<rect x="141.6" y="395.35" width="8.1" height="7.8" rx="0.6" fill="#ffbe00"/>
<path d="M120.29 405.21 L126.71 405.21 M120.29 405.21 L120.29 402.56 L120.6 401.67 L120.9 401.38 L121.51 401.08 L122.12 401.08 L122.74 401.38 L123.04 401.67 L123.35 402.56 L123.35 405.21 M123.35 403.15 L126.71 401.08 M121.51 398.43 L121.21 397.84 L120.29 396.96 L126.71 396.96 M121.21 389.58 L120.6 389.88 L120.29 390.76 L120.29 391.35 L120.6 392.24 L121.51 392.83 L123.04 393.12 L124.57 393.12 L125.79 392.83 L126.4 392.24 L126.71 391.35 L126.71 391.06 L126.4 390.17 L125.79 389.58 L124.88 389.29 L124.57 389.29 L123.65 389.58 L123.04 390.17 L122.74 391.06 L122.74 391.35 L123.04 392.24 L123.65 392.83 L124.57 393.12" fill="none" stroke="#ffffff" stroke-width="1.2" stroke-linecap="round" stroke-linejoin="round"/>
<rect x="127.75" y="407.5" width="11.5" height="23.75" fill="none" stroke="#ffffff" stroke-width="1.2"/>
<rect x="129.35" y="409.3" width="8.3" height="8.1" rx="0.6" fill="#ffbe00"/>
<rect x="129.35" y="421.35" width="8.3" height="8.1" rx="0.6" fill="#ffbe00"/>
<path d="M120.29 432.71 L126.71 432.71 M120.29 432.71 L120.29 429.97 L120.6 429.06 L120.9 428.76 L121.51 428.45 L122.12 428.45 L122.74 428.76 L123.04 429.06 L123.35 429.97 L123.35 432.71 M123.35 430.58 L126.71 428.45 M121.51 425.72 L121.21 425.11 L120.29 424.2 L126.71 424.2 M120.29 416.9 L120.29 419.94 L123.04 420.24 L122.74 419.94 L122.43 419.03 L122.43 418.11 L122.74 417.2 L123.35 416.59 L124.26 416.29 L124.88 416.29 L125.79 416.59 L126.4 417.2 L126.71 418.11 L126.71 419.03 L126.4 419.94 L126.1 420.24 L125.49 420.55" fill="none" stroke="#ffffff" stroke-width="1.2" stroke-linecap="round" stroke-linejoin="round"/>
<rect x="141.75" y="407.5" width="11.5" height="23.75" fill="none" stroke="#ffffff" stroke-width="1.2"/>
<rect x="143.35" y="409.3" width="8.3" height="8.1" rx="0.6" fill="#ffbe00"/>
<rect x="143.35" y="421.35" width="8.3" height="8.1" rx="0.6" fill="#ffbe00"/>
<path d="M143.5 435.68 L143.2 435.11 L142.6 434.54 L142 434.25 L140.8 434.25 L140.2 434.54 L139.6 435.11 L139.3 435.68 L139 436.54 L139 437.96 L139.3 438.82 L139.6 439.39 L140.2 439.96 L140.8 440.25 L142 440.25 L142.6 439.96 L143.2 439.39 L143.5 438.82 M146.2 435.4 L146.8 435.11 L147.7 434.25 L147.7 440.25 M154.9 434.25 L151.9 434.25 L151.6 436.82 L151.9 436.54 L152.8 436.25 L153.7 436.25 L154.6 436.54 L155.2 437.11 L155.5 437.96 L155.5 438.53 L155.2 439.39 L154.6 439.96 L153.7 440.25 L152.8 440.25 L151.9 439.96 L151.6 439.68 L151.3 439.1" fill="none" stroke="#ffffff" stroke-width="1.12" stroke-linecap="round" stroke-linejoin="round"/>
<rect x="157.25" y="404.5" width="13.25" height="30" rx="2" fill="none" stroke="#fff" stroke-width="1.2"/>
<rect x="160.45" y="399.25" width="6.85" height="10.2" rx="0.6" fill="#ffbe00"/>
<rect x="160.45" y="429.8" width="6.85" height="10.2" rx="0.6" fill="#ffbe00"/>
<path d="M157.04 398.21 L163.46 398.21 M157.04 398.21 L157.04 396.12 L157.35 395.22 L157.96 394.62 L158.57 394.32 L159.49 394.02 L161.01 394.02 L161.93 394.32 L162.54 394.62 L163.15 395.22 L163.46 396.12 L163.46 398.21 M158.57 391.93 L158.26 391.93 L157.65 391.63 L157.35 391.33 L157.04 390.73 L157.04 389.54 L157.35 388.94 L157.65 388.64 L158.26 388.34 L158.87 388.34 L159.49 388.64 L160.4 389.24 L163.46 392.23 L163.46 388.04" fill="none" stroke="#ffffff" stroke-width="1.2" stroke-linecap="round" stroke-linejoin="round"/>
<rect x="172.25" y="393.75" width="23.75" height="11" fill="none" stroke="#ffffff" stroke-width="1.2"/>
<rect x="174.05" y="395.35" width="8.1" height="7.8" rx="0.6" fill="#ffbe00"/>
<rect x="186.1" y="395.35" width="8.1" height="7.8" rx="0.6" fill="#ffbe00"/>
<path d="M197.04 408.96 L203.46 408.96 M197.04 408.96 L197.04 406.31 L197.35 405.42 L197.65 405.13 L198.26 404.83 L198.87 404.83 L199.49 405.13 L199.79 405.42 L200.1 406.31 L200.1 408.96 M200.1 406.9 L203.46 404.83 M198.26 402.18 L197.96 401.59 L197.04 400.71 L203.46 400.71 M197.04 393.04 L203.46 395.99 M197.04 397.17 L197.04 393.04" fill="none" stroke="#ffffff" stroke-width="1.2" stroke-linecap="round" stroke-linejoin="round"/>
<rect x="171.5" y="408" width="8.75" height="8.25" rx="0.6" fill="#ffbe00"/>
<circle cx="176" cy="427.5" r="4.5" fill="#ffbe00"/>
<rect x="188.5" y="415" width="8.75" height="8.75" rx="0.6" fill="#ffbe00"/>
<path d="M182.25 408 L190.25 408 L190.25 413.75" fill="none" stroke="#ffffff" stroke-width="1.6" stroke-linejoin="round" stroke-linecap="round"/>
<path d="M182.25 430.75 L190.25 430.75 L190.25 425" fill="none" stroke="#ffffff" stroke-width="1.6" stroke-linejoin="round" stroke-linecap="round"/>
<path d="M192.04 429.64 L192.2 430 L192.53 430.35 L192.85 430.53 L193.34 430.71 L194.16 430.71 L194.65 430.53 L194.97 430.35 L195.3 430 L195.46 429.64 L195.46 428.93 L195.3 428.57 L194.97 428.21 L194.65 428.04 L194.16 427.86 L193.34 427.86 L192.85 428.04 L192.53 428.21 L192.2 428.57 L192.04 428.93 L192.04 429.64 M194.81 429.11 L195.79 428.04 M192.04 426.43 L192.04 424.47 L193.34 425.54 L193.34 425 L193.51 424.65 L193.67 424.47 L194.16 424.29 L194.48 424.29 L194.97 424.47 L195.3 424.82 L195.46 425.36 L195.46 425.89 L195.3 426.43 L195.13 426.61 L194.81 426.79" fill="none" stroke="#ffffff" stroke-width="1.2" stroke-linecap="round" stroke-linejoin="round"/>
<rect x="211.5" y="410" width="9.5" height="9.5" rx="0.6" fill="#ffbe00"/>
<rect x="211.5" y="423.75" width="9.5" height="9.5" rx="0.6" fill="#ffbe00"/>
<path d="M215.29 405.71 L218.71 405.71 M215.29 405.71 L215.29 402.98 M216.92 405.71 L216.92 404.03 M215.29 401.93 L218.71 401.93 M215.29 401.93 L215.29 400.03 L215.45 399.4 L215.62 399.19 L215.94 398.98 L216.27 398.98 L216.59 399.19 L216.76 399.4 L216.92 400.03 M216.92 401.93 L216.92 400.03 L217.08 399.4 L217.24 399.19 L217.57 398.98 L218.06 398.98 L218.38 399.19 L218.55 399.4 L218.71 400.03 L218.71 401.93 M215.94 397.09 L215.78 396.67 L215.29 396.04 L218.71 396.04" fill="none" stroke="#ffffff" stroke-width="1.2" stroke-linecap="round" stroke-linejoin="round"/>
<rect x="224.75" y="409.5" width="11.5" height="23.75" fill="none" stroke="#ffffff" stroke-width="1.2"/>
<rect x="226.35" y="411.3" width="8.3" height="8.1" rx="0.6" fill="#ffbe00"/>
<rect x="226.35" y="423.35" width="8.3" height="8.1" rx="0.6" fill="#ffbe00"/>
<path d="M227.25 407.7 L233.75 407.7 M227.25 407.7 L227.25 405.05 L227.56 404.17 L227.87 403.87 L228.49 403.58 L229.11 403.58 L229.73 403.87 L230.04 404.17 L230.35 405.05 L230.35 407.7 M230.35 405.64 L233.75 403.58 M228.49 400.93 L228.18 400.34 L227.25 399.46 L233.75 399.46 M227.25 395.33 L227.25 392.09 L229.73 393.86 L229.73 392.98 L230.04 392.39 L230.35 392.09 L231.27 391.8 L231.89 391.8 L232.82 392.09 L233.44 392.68 L233.75 393.56 L233.75 394.45 L233.44 395.33 L233.13 395.63 L232.51 395.92" fill="none" stroke="#ffffff" stroke-width="1.22" stroke-linecap="round" stroke-linejoin="round"/>
<rect x="238.5" y="409.5" width="11.5" height="23.75" fill="none" stroke="#ffffff" stroke-width="1.2"/>
<rect x="240.1" y="411.3" width="8.3" height="8.1" rx="0.6" fill="#ffbe00"/>
<rect x="240.1" y="423.35" width="8.3" height="8.1" rx="0.6" fill="#ffbe00"/>
<path d="M241 407.7 L247.5 407.7 M241 407.7 L241 405.05 L241.31 404.17 L241.62 403.87 L242.24 403.58 L242.86 403.58 L243.48 403.87 L243.79 404.17 L244.1 405.05 L244.1 407.7 M244.1 405.64 L247.5 403.58 M242.24 400.93 L241.93 400.34 L241 399.46 L247.5 399.46 M242.55 395.63 L242.24 395.63 L241.62 395.33 L241.31 395.04 L241 394.45 L241 393.27 L241.31 392.68 L241.62 392.39 L242.24 392.09 L242.86 392.09 L243.48 392.39 L244.4 392.98 L247.5 395.92 L247.5 391.8" fill="none" stroke="#ffffff" stroke-width="1.22" stroke-linecap="round" stroke-linejoin="round"/>
<rect x="252.75" y="409.5" width="11.5" height="23.75" fill="none" stroke="#ffffff" stroke-width="1.2"/>
<rect x="254.35" y="411.3" width="8.3" height="8.1" rx="0.6" fill="#ffbe00"/>
<rect x="254.35" y="423.35" width="8.3" height="8.1" rx="0.6" fill="#ffbe00"/>
<path d="M256.8 403.44 L256.18 403.73 L255.56 404.29 L255.25 404.86 L255.25 406 L255.56 406.57 L256.18 407.13 L256.8 407.42 L257.73 407.7 L259.27 407.7 L260.2 407.42 L260.82 407.13 L261.44 406.57 L261.75 406 L261.75 404.86 L261.44 404.29 L260.82 403.73 L260.2 403.44 M256.49 400.89 L256.18 400.32 L255.25 399.47 L261.75 399.47 M255.25 393.22 L259.58 396.06 L259.58 391.8 M255.25 393.22 L261.75 393.22" fill="none" stroke="#ffffff" stroke-width="1.22" stroke-linecap="round" stroke-linejoin="round"/>
<rect x="266" y="407" width="13.75" height="29.25" rx="2" fill="none" stroke="#fff" stroke-width="1.2"/>
<rect x="269.2" y="401.75" width="7.35" height="10.2" rx="0.6" fill="#ffbe00"/>
<rect x="269.2" y="431.55" width="7.35" height="10.2" rx="0.6" fill="#ffbe00"/>
<path d="M279.04 445.21 L285.46 445.21 M279.04 445.21 L279.04 442.79 L279.35 441.76 L279.96 441.07 L280.57 440.72 L281.49 440.38 L283.01 440.38 L283.93 440.72 L284.54 441.07 L285.15 441.76 L285.46 442.79 L285.46 445.21 M280.26 437.27 L279.96 436.58 L279.04 435.54 L285.46 435.54" fill="none" stroke="#ffffff" stroke-width="1.2" stroke-linecap="round" stroke-linejoin="round"/>
<rect x="281" y="409.5" width="8.25" height="8.5" rx="0.6" fill="#ffbe00"/>
<circle cx="285" cy="429.25" r="4.5" fill="#ffbe00"/>
<rect x="298" y="417.5" width="8.25" height="8.25" rx="0.6" fill="#ffbe00"/>
<path d="M292 410 L299.5 410 L299.5 416.25" fill="none" stroke="#ffffff" stroke-width="1.6" stroke-linejoin="round" stroke-linecap="round"/>
<path d="M292 432.5 L299.5 432.5 L299.5 427" fill="none" stroke="#ffffff" stroke-width="1.6" stroke-linejoin="round" stroke-linecap="round"/>
<path d="M301.54 433.39 L301.71 433.75 L302.06 434.1 L302.41 434.28 L302.94 434.46 L303.81 434.46 L304.34 434.28 L304.69 434.1 L305.04 433.75 L305.21 433.39 L305.21 432.68 L305.04 432.32 L304.69 431.96 L304.34 431.79 L303.81 431.61 L302.94 431.61 L302.41 431.79 L302.06 431.96 L301.71 432.32 L301.54 432.68 L301.54 433.39 M304.51 432.86 L305.56 431.79 M302.41 430.36 L302.24 430.36 L301.89 430.18 L301.71 430 L301.54 429.64 L301.54 428.93 L301.71 428.57 L301.89 428.4 L302.24 428.22 L302.59 428.22 L302.94 428.4 L303.46 428.75 L305.21 430.54 L305.21 428.04" fill="none" stroke="#ffffff" stroke-width="1.2" stroke-linecap="round" stroke-linejoin="round"/>
</g>
</svg>
</body></html>
